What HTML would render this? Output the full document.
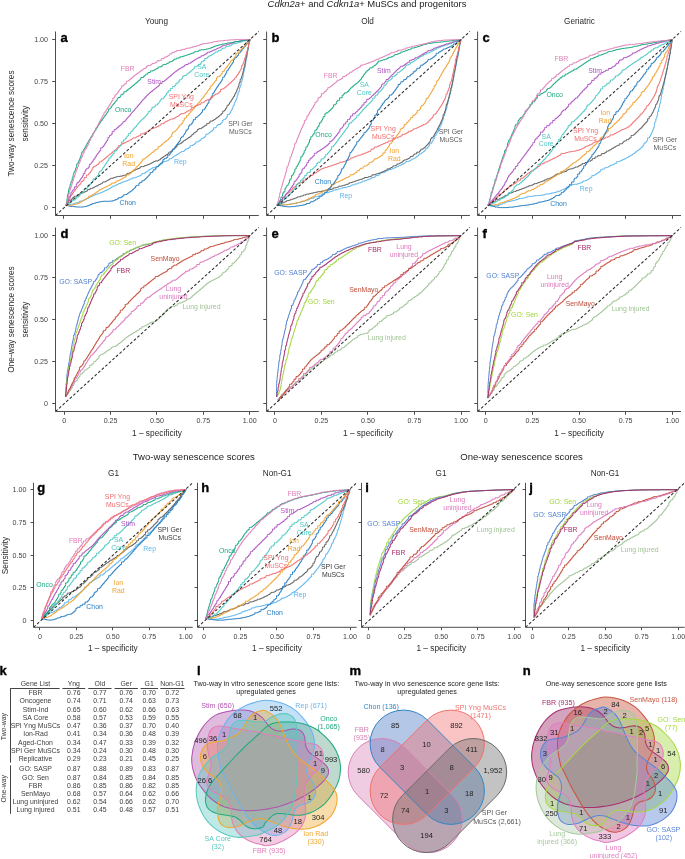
<!DOCTYPE html>
<html lang="en">
<head>
<meta charset="utf-8">
<title>Cdkn2a+ and Cdkn1a+ MuSCs and progenitors</title>
<style>
html,body{margin:0;padding:0;background:#fff;}
body{width:685px;height:859px;overflow:hidden;}
svg{display:block;font-family:"Liberation Sans",sans-serif;}
.tt{font-size:9.55px;fill:#222;}
.st{font-size:8.2px;fill:#2a2a2a;}
.tk{font-size:7.1px;fill:#444;}
.xl{font-size:8.3px;fill:#2a2a2a;}
.yl{font-size:8.3px;fill:#2a2a2a;}
.pl{font-size:13px;font-weight:bold;fill:#000;stroke:#000;stroke-width:0.35px;}
.cl{font-size:6.9px;}
.tb{font-size:6.9px;fill:#3c3c3c;}
.vt{font-size:7.2px;fill:#222;}
.vn{font-size:7.6px;fill:#222;}
.vl{font-size:7.1px;}
</style>
</head>
<body>
<svg width="685" height="859" viewBox="0 0 685 859" role="img" aria-label="ROC curves, AUC table and Venn diagrams of senescence gene lists">
<rect width="685" height="859" fill="#fff"/>
<text x="367" y="7.0" text-anchor="middle" class="tt" style="font-size:9.45px"><tspan font-style="italic">Cdkn2a</tspan>+ and <tspan font-style="italic">Cdkn1a</tspan>+ MuSCs and progenitors</text>
<text x="156.5" y="24.2" text-anchor="middle" class="st">Young</text>
<text x="367.5" y="24.2" text-anchor="middle" class="st">Old</text>
<text x="579.5" y="24.2" text-anchor="middle" class="st">Geriatric</text>
<text x="193.8" y="460" text-anchor="middle" class="tt">Two-way senescence scores</text>
<text x="521.6" y="460" text-anchor="middle" class="tt">One-way senescence scores</text>
<text x="113.5" y="475.6" text-anchor="middle" class="st">G1</text>
<text x="277.2" y="475.6" text-anchor="middle" class="st">Non-G1</text>
<text x="441" y="475.6" text-anchor="middle" class="st">G1</text>
<text x="605" y="475.6" text-anchor="middle" class="st">Non-G1</text>
<text transform="translate(14.2 123.5) rotate(-90)" text-anchor="middle" class="yl">Two-way senescence scores</text>
<text transform="translate(28.4 123.5) rotate(-90)" text-anchor="middle" class="yl">sensitivity</text>
<text transform="translate(14.2 319.5) rotate(-90)" text-anchor="middle" class="yl">One-way senescence scores</text>
<text transform="translate(28.4 319.5) rotate(-90)" text-anchor="middle" class="yl">sensitivity</text>
<text transform="translate(7.6 555.5) rotate(-90)" text-anchor="middle" class="yl">Sensitivity</text>
<g id="panel-a">
<path d="M66.2 205.1h1.6v-.2h1.9v-.4h1.7v-.3h1.4v-.3h1.3v-.3h1.2v-.4v-.4h1.4h1.6v-.6h1.2v-.4v-.7h1.7h1.7v-.7h1.4v-.7h1.1v-.5h1.5v-.7h1.4v-.8h1.6v-.8h1v-.5h1.5v-.7h1.2v-.5h1.4v-.6h1.3v-.4h1.1v-.4h1.6v-.6h1.2v-.4h1.3v-.5h1.3v-.7h1.1v-.5h1v-.5h1.6v-.8h1.5v-.8h1.6v-.8h1.3v-.7h1.3v-.6v-.7h1.3h1.5v-.8h1.5v-.7h1.3v-.7h1.2v-.5h1.7v-.8h1.4v-.5h1.3v-.5h1.6v-.5h1.6v-.6h1.6v-.6h1.6v-.6v-.5h1.5h1.2v-.5v-.5h1.6h1.1v-.5h1.4v-.5h1v-.5h1.3v-.5h1.6v-.8h1.2v-.6v-.9h1.6h1.5v-.9h1.3v-.9h1.1v-.8h1.2v-.9h1.1v-.7h1.2v-.6h1.5v-.6v-.5h1.7h1.4v-.4v-.4h1.1h1.4v-.6h.9v-.7v-.9h1h1.3v-1h1.5v-.9v-.6h1.3v-.8h1.6h1.2v-.6h1.7v-.9h1v-.6v-.7h1.1h1.4v-1h1.2v-.8h1v-.7h1.2v-.8h1.6v-.8h1.4v-.6v-.5h1v-.5h1.1v-.6h1.1v-.8h1.4h1.2v-.8h1.1v-.7v-.8h1h1.1v-.7h1.5v-1h1.5v-1v-1h1.4h1.5v-1h1.3v-.8h1.4v-.9v-1h1.5h1.3v-.9h1.1v-.7h1.5v-1v-.8h1.1h1.1v-.9h1.4v-1.2h1.1v-.9v-1.2h1.4h.9v-.7h1v-.9h.9v-.8h1.2v-.9h1.3v-1.1h1v-.9v-1.1h1.3h.9v-.7h.9v-.7v-.9h1.1v-1h1.2h1.5v-1.2h1v-.9h1.1v-1.1v-1h1v-.8h.8h.9v-1.1h1.1v-1.3h.9v-1.1v-1.5h1.1h1v-1.3h1v-1.5h.6v-1.1h.6v-1.2h.8v-1.5h.7v-1.5v-1h.5h.7v-1.5v-1.4h.6h.5v-1.3h.5v-1.2h.4v-1.1h.6v-1.5h.4v-1.3v-1.4h.5h.4v-1.3v-1.2h.4h.5v-1.7h.5v-1.4v-1.7h.4h.3v-1.1h.4v-1.3h.5v-1.8v-1.2h.3h.4v-1.7h.4v-1.4v-1.1h.3h.4v-1.7h.3v-1.5h.3v-1.5v-1.1h.3v-1.2h.2h.3v-1.5h.3v-1.2h.3v-1.5h.3v-1.6h.3v-1.7h.3v-1.8v-1.1h.2v-1.7h.3h.3v-1.8h.3v-1.7h.2v-1.5h.2v-1.2h.2v-1.3h.2v-1.3h.3v-1.3v-1.5h.2h.3v-1.2h.2v-1.2v-1.2h.2h.4v-1.8h.3v-1.6h.1v-.5" fill="none" stroke="#5db5ee" stroke-width="1.0" stroke-linejoin="round" stroke-linecap="round"/>
<path d="M66.2 205.1h.7v-1h.9v-1.2h1v-1.4v-1.3h1.2h1.4v-1.1h1.4v-1v-.8h1.3v-1h1.5h1.5v-.8v-.6h1h1.7v-.8v-.7h1.3v-.6h1.4h1.2v-.6h1v-.5h1.3v-.6h1.5v-.8v-.7h1.4h1.2v-.6v-.6h1.2h1.4v-.7h1.2v-.6h1.3v-.7h1.3v-.6h1.5v-.8h1.1v-.5h1.3v-.7h1.2v-.5h1v-.6v-.7h1.4h1.6v-.8h1v-.5h1v-.6h1.6v-.7h1v-.5v-.6h1.6h1.3v-.5h1.5v-.5h1.4v-.4h1.2v-.3h1.4v-.2h1.4v-.2h1.4v-.2h1.7v-.3v-.4h1.2h1.5v-.6h1.2v-.7v-.6h1.2h1.1v-.6h1.4v-.7h1.1v-.6h1.1v-.6h1v-.5h1.3v-.7h1.1v-.5h1.5v-.7h1.7v-.8h1.1v-.5v-.6h1.7h1.8v-.7h1.1v-.4h1.4v-.5h1.4v-.5h1.4v-.6h1.3v-.7h1.2v-.6h1v-.6h1.1v-.5h1.4v-.6h1.7v.1h1v-.6h1v-.7h1.5v-1.2h1.2v-.9h1.2v-.8h1v-.7h1.4v-.9h1.1v-.7h1.3v-.9h1v-.8v-.7h.9h1.1v-.8h1v-.9h1.1v-.9h1.1v-1h1v-.8h1v-.9h.9v-.8v-1h1.2v-.9h1.1h1v-.8h1.5v-1.2h1.5v-1.1h1v-.6h1.2v-.8h1v-.6h1.1v-.8h1v-.7h1.5v-1.1h1.3v-1.1h.9v-.9h1.3v-1.1h.8v-.7h1.2v-.8h1v-.8h1.1v-.8v-.9h1.4v-.7h1.2h1.5v-1h1.1v-.7h1.3v-.9h1.1v-.7h1.6v-1.1v-.7h1h1v-.6h1.2v-.8v-1h1.6h1.1v-.7h1.3v-.9h1.3v-.9h1.4v-1.1h1.3v-.9h1.3v-1.1h1v-.8h1.2v-1.2h1.2v-1.3v-1h.8h.9v-1.1h1.1v-1.5h.9v-1.2h.7v-.9v-1.2h.8h.8v-1.2h.8v-1.3h.7v-1h.9v-1.5h.8v-1.1h.9v-1.5h.8v-1.4h.9v-1.6h.6v-1.1h.8v-1.7h.7v-1.6h.6v-1.4h.7v-1.6h.5v-1.3h.6v-1.7v-1.1h.4h.4v-1.2h.4v-1.2v-1.5h.5h.4v-1.2h.4v-1.3h.4v-1.2h.3v-1.2h.4v-1.4h.5v-1.7h.3v-1.1v-1.5h.3h.4v-1.8h.3v-1.2h.4v-1.8h.3v-1.7h.3v-1.4h.3v-1.6h.3v-1.3h.3v-1.4h.4v-1.8h.3v-1.4v-1.4h.2h.3v-1.1h.3v-1.8h.4v-1.7h.3v-1.5v-1.2h.2v-1.7h.4h.4v-1.8h.3v-1.5" fill="none" stroke="#5e5e5e" stroke-width="1.0" stroke-linejoin="round" stroke-linecap="round"/>
<path d="M66.2 205.1h1.4v.4v.3h1.6v.4h1.7v.3h1.6h1.3v.2h1.6v.2h1.7v.1h1.6h1.6h1.2h1.7v-.2h1.4v-.2h1.2v-.3h1.4v-.5h1.7v-.7h1.6v-.6h1.6v-.6v-.3h1h1.3v-.5h1.4v-.5h1.8v-.4h1.4v-.3h1.5v-.3h1.3v-.2h1.7v-.2h1.4v.1h1.5h1.7h1.5v-.2h1.2h1.8v-.4h1.3v-.5h1.6v-.6h1.7v-.7h1.2v-.5v-.7h1.6h1v-.5h1.2v-.7h1v-.5v-.9h1.4v-.6h1h1.5v-1h1.2v-.8h1.4v-1h1v-.7h1.4v-1.1h1.2v-1h1v-.9h1.1v-.9v-1h1.2v-.7h.8h1.5v-1.2v-.9h1v-.9h1.1h.9v-.7v-.9h1h.9v-.7h1v-1h1.1v-1h1.2v-1.3h1v-1h1.1v-1.1h.9v-.9v-1.2h1.2h1.1v-1.1h.8v-.8v-.9h.8h1.3v-1.2h.9v-1v-1h1h1.2v-1.2h1.3v-1.3h1v-1h1.1v-1h1.1v-1.1v-1.3h1.3v-1.3h1.4h.9v-.9h1.2v-1.3v-1.1h1h1.1v-1.4h.9v-1.2h.7v-.9h1.1v-1.5v-.9h.6h.9v-1.2h.9v-1.3h1v-1.3h.7v-.9h1.1v-1.5h.8v-1h1v-1.3h1v-1.3v-1.4h1v-1.2h.8h1v-1.4h.6v-1h.9v-1.4h.7v-1h.6v-1v-1h.7h1v-1.4h.7v-1.1v-1.2h.8v-1.4h1.1h.8v-1.2h1.1v-1.5h.9v-1.2v-1.3h1.1h1.1v-1.3v-1h.8h1.1v-.9h.8v-.8h1v-.9h.9v-.8h.8v-.9h.9v-1.1h.8v-.9v-1.3h.9h1.1v-1.4h1v-1.6h.9v-1.4h.9v-1.4h.5v-.9h1v-1.6v-1h.6v-1h.5h.9v-1.6h.6v-1.2h.7v-1.4h.6v-1v-1h.5h.7v-1.2h.6v-1.1h.6v-1.1h.7v-1.2h.7v-1.1h.8v-1.2h1v-1.5h.7v-1h.9v-1.2h1v-1.5h.9v-1.5h.8v-1.2v-1.3h.8h.9v-1.4h.7v-1.3h.9v-1.6h.8v-1.2v-1h.5h.9v-1.4h.6v-1h1v-1.5h.6v-.9h.6v-1h.9v-1.3h.8v-1.2h.9v-1.4v-.9h.6v-1h.7v-1.4h1h.8v-1.1h.8v-1.1h1.1v-1.4v-1h.7h.8v-1h1v-1.4h1v-1.3h.8v-1h1.1v-1.4h1v-1.2h1.1v-1.4h1.1v-1.4v-1.4h1.1h.8v-1v-1h.8" fill="none" stroke="#257dc0" stroke-width="1.0" stroke-linejoin="round" stroke-linecap="round"/>
<path d="M66.2 205.1h1.6h1.7h1.5h1.5v-.1h1.6v-.3v-.4h1.3h1.2v-.5h1.2v-.5h1.6v-.8h1.5v-.9h1.4v-.8h1.1v-.6h1.3v-.8h1.3v-.8h1.6v-1h1v-.6v-.8h1.2h1v-.6h1.5v-1h1.5v-.9h1.6v-1h1.2v-.9h1.3v-.8h1.1v-.6v-.6h1h1v-.6h1v-.6h1.4v-.7h1.2v-.6h1.3v-.7h1.3v-.6h1.3v-.7h1.7v-.8h1.1v-.5v-.8h1.6h1.6v-.8h1.7v-.8v-.7h1.4h1.2v-.7h1v-.5h1.6v-.9h1.1v-.7h1.5v-.9h1.5v-1h1.2v-.8v-.6h1h1.4v-1h1.5v-1.1h1.2v-1h1.2v-1.1v-.7h.9h1.1v-1.2h1v-1v-.9h.8h.8v-1h.9v-1.1h1.1v-1.4h1.1v-1.2h.8v-1h1.2v-1.1v-1h1.2h1.2v-1h1v-.8h1.2v-1h1.2v-.9h1.3v-1.1h1.1v-1h1.1v-.9h1.4v-1.1h1.3v-1.1h1v-.7h1.4v-.6h1.1v-1v-1.2h1.1h.9v-.9h1.3v-1.3h1.4v-1.2h.9v-.7h1v-.8h1.3v-1h1v-.8h1.4v-1.3h1.1v-1.2h.9v-1h1.2v-1.4v-.9h.7v-1.4h1.1v-.9h.8h.8v-1h1v-1.1h1.1v-1.3h1v-1.2h1.1v-1.1v-1h.8h1v-1.2h1.1v-1.4h.9v-1.2v-1.1h.8h.7v-.9v-1.3h1h.9v-1.3v-1h.8h1.1v-1.5h1v-1.2h.9v-1.1h.8v-.9h1.2v-1.4h.9v-1.1h1.2v-1.3v-1.2h1h1v-1.1h1.2v-1.4h.8v-.9h1v-1.1h1v-1.2h.9v-1.2h.9v-1h1v-1.3h1.1v-1.4h.7v-1.1h.7v-.9h1.1v-1.4h.7v-1h.8v-1.1h1v-1.3h1v-1.4v-1.1h.9h.7v-1.1h1v-1.3h.8v-1h.8v-1.1h.9v-1.1h1.1v-1.4v-1.3h1.1v-1.4h1.2h1.2v-1.2h1.1v-1.4h1.1v-1.3v-1.1h.9h1.1v-1.5h.9v-1.3h.8v-1.1h1.1v-1.4h1v-1.3h1v-1.3h.9v-1.1h.9v-1.1v-.9h.8h1.2v-1.4h1.1v-1.3h1v-1.1h.8v-.9v-1.2h1v-1.4h1.2h1.1v-1.3v-1.3h1.1h.8v-1h1v-1h1.2v-1.4h1v-1.2h.9v-.9h.8v-.9h1.1v-1.3h1v-1.1v-1.2h1.1h.8v-.9" fill="none" stroke="#f0a230" stroke-width="1.0" stroke-linejoin="round" stroke-linecap="round"/>
<path d="M66.2 205.1h.5v-1.2v-1.4h.6h.8v-1.7h.5v-1h.8v-1.5h.9v-1.6v-1.1h.7h.6v-1.1h1v-1.6h.9v-1.3h.9v-1.3h1.1v-1.4h.9v-1.1h1.1v-1.3h.8v-1h.9v-.9h1.1v-1.2h.8v-1v-.9h.8h.9v-1h1.2v-1.4v-1.4h1.2h1.2v-1.4v-1.3h1.1h.9v-1.1h.8v-1h1.2v-1.4h.7v-.9h.9v-1v-.9h.7v-1.2h1.1v-1.3h1.3h.9v-.8h1v-.9h1.4v-1.1h.9v-.7v-.9h1.1h1.1v-.9h1.3v-1.1h1.3v-1h1.3v-1.1h1.1v-.9h1.2v-1h.9v-.8h1.1v-.9h1.3v-1.1h1.4v-1.1h.9v-.8h1.3v-1.1h1.4v-1.2h1v-.9h1.4v-1.2v-1.1h1.2h1v-.7h1v-.7h1v-.7h1.5v-.7h1.6v-.8h1.3v-.5h1.1v-.6h1.3v-.6h1.1v-.6h1.4v-.6v-.5h1v-.7h1.4h1.5v-.8h1.3v-.7h1.7v-.8h1.7v-.8v-.9h1.6h1.5v-.7h1.4v-.7h1.5v-.8h1.1v-.5h1.3v-.7h1.1v-.5v-.7h1.3v-.7h1.5v-.6h1.2h1.2v-.6h1.5v-.8h1.7v-.8h1.3v-.7h1.3v-.7v-.7h1.4h1.7v-.8v-.6h1.2v-.7h1.4v-.7h1.4v-.5h1.1v-.6h1.1v-.6h1.2h1v-.5h1.5v-.7h1.7v-.9h1.2v-.6h1.2v-.6h1.3v-.6v-.9h1.7v-.8h1.6h1.4v-.6h1.5v-.8h1.1v-.5v-.7h1.2h1.2v-.7h1.3v-.8h1v-.7v-1.1h1.6h1v-.7h1.5v-.9h1.1v-.6h1.4v-.8h1.3v-.5h1.7v-.8v-.7h1.3h1.3v-.6h1v-.5v-.5h1.1v-.5h1v-.8h1.4h1v-.6h1.3v-.7v-.8h1.2h1.1v-.7v-1h1.4v-1.1h1.5v-.9h1.1h1.2v-1h1.4v-1.2h1.2v-1v-1.2h1.4v-.7h.9h1v-.8h1v-.9h1.4v-1.1h1v-.8h1.1v-1h1v-.9h1v-.9h1.2v-1.2h1v-.9h1v-1h1.1v-1.2h.7v-.9h1.1v-1.4h1v-1.4h1v-1.6h1v-1.6h.8v-1.5h.7v-1.3h.7v-1.4v-1.4h.6h.4v-1.1h.4v-1.2h.6v-1.7h.5v-1.5h.5v-1.5h.4v-1.4h.6v-1.6h.3v-1.2h.4v-1.3h.4v-1.5h.5v-1.7h.4v-1.7h.3v-1.2h.5v-1.7h.2v-1.1v-1.1h.3h.4v-1.5h.3v-1.2h.2v-.9" fill="none" stroke="#f26f72" stroke-width="1.0" stroke-linejoin="round" stroke-linecap="round"/>
<path d="M66.2 205.1h1.1v-.6h1.1v-.7v-.6h1h1.1v-.7h1.1v-.7v-.9h1.2v-.8h1h1.4v-1.1h1.1v-1v-1.1h1.4h1.2v-1.1h1v-.9v-1.2h1.2h1.1v-1h.8v-.9h1.2v-1.3v-1.3h1.3h1v-1h.9v-1.1h.8v-1h1.2v-1.4h1.2v-1.4h.8v-.9h1.1v-1.3h.7v-.9v-1.4h1.3h1v-1.1h1.1v-1.3h1.1v-1.2h1v-1.3v-1.2h.9v-1.6h1.1h.7v-1h.9v-1.4h.7v-1.2h.9v-1.3h1v-1.6h.7v-1h.9v-1.2h.8v-1.2h.8v-1.1h.8v-1v-1h.7h1.1v-1.4h.7v-1h.7v-.8h.9v-1.1h1.2v-1.4v-1.4h1.2h1.1v-1.2h1.1v-1.3v-1.2h1h1.1v-1.3h1.1v-1.5h.7v-1v-1.4h1.1h.8v-1.1v-1.1h.8h.9v-1.2h1.1v-1.5h1v-1.2h1.2v-1.4v-1.1h1h1.2v-1.4h.8v-1h1.2v-1.3h1.1v-1.3h.7v-.9h.9v-1h1.2v-1.4h.8v-.9h.8v-.9h.9v-1.1h.8v-.9h1.1v-1.1h1v-.9h1.1v-1.1h1.1v-1.1h1.2v-1.2h1.1v-1.1h1v-1.2h.9v-1v-1.2h1h.8v-1h1v-1.2h.9v-1.1v-1h1h1.5v-.6h.9v-.7v-.9h1h1v-1.1h.9v-.9h.9v-.9h.9v-.8v-1.4h1.3v-1.3h1.1h1.2v-1.3h.8v-1h.9v-1.1h1v-1.2v-1h.8h.9v-.9v-1.3h1.2h1.1v-1.1v-1.2h1.2h.9v-.9v-1.1h1.1h1v-1h1.3v-1.3v-1h1h1.2v-1.2h1.1v-1.1v-1.1h1h1v-1h1.2v-1v-1.2h1.4v-1.1h1.3h1.3v-1h.9v-.8h.8v-.7h1.4v-1.1h1.2v-1h1.1v-.9h.9v-.8h.9v-.8h.9v-.7v-1h1.2h1v-.7h1.1v-.8h1.3v-.9h1.3v-1.1h1.2v-1.1v-.7h.9h1.1v-.9h1.3v-1.1v-1h1.2h1v-.7h1v-.7v-.8h1.1h.9v-.7h1.6v-1h1.4v-.8h1.2v-.7h1v-.5v-.5h1h1.7v-.8v-.6h1.4h1.2v-.6h1.2v-.6v-.8h1.4v-.6h1.2h1.4v-.7v-.8h1.7h1.3v-.6h1.5v-.6h1.6v-.7v-.6h1.7v-.4h1.2h1.1v-.4h1.7v-.5h1.6v-.5h1.6v-.4h1.7v-.5v-.4h1.7h1.6v-.4h1.7v-.4h1.6v-.3v-.2h.7" fill="none" stroke="#4cc8c4" stroke-width="1.0" stroke-linejoin="round" stroke-linecap="round"/>
<path d="M66.2 205.1v-1.5h.6v-1.6h.6h.4v-1h.4v-1.2h.6v-1.4v-1.5h.7h.6v-1.3h.8v-1.4v-1.5h.9v-1.3h.7v-.9h.6v-1.1h.6h.7v-1.1v-1.4h.9h1v-1.6v-1.2h.8v-1.4h.9h.7v-1.1h1v-1.6h.9v-1.3h1v-1.4h.9v-1.4h.8v-1.1v-1.1h.7h.9v-1.3v-1.3h.8v-1.5h1v-1.2h.8h.9v-1.3h1v-1.5v-1.2h.8h.6v-1h.7v-.9h.7v-1.2h1v-1.5h1v-1.4h1v-1.5h1v-1.6h.8v-1.1h.9v-1.2h.9v-1.3h1v-1.2h.9v-1.2v-1.5h1.1h.8v-1.1h1.1v-1.5h1.1v-1.6h.9v-1.4h.8v-1.2h.9v-1.3h.6v-1v-1.4h.9h.6v-.9v-1h.8h.9v-1.2h1v-1.3v-1.4h1.2h.7v-.9v-1h.9h.9v-.9h1.2v-1.3h1.4v-1.2h1.3v-1h1.4v-1.1h1v-.9h.9v-.7v-.9h.9h.9v-.9h1v-1.2h.8v-.9h.7v-.9h.8v-1h.8v-.9h1.2v-1.4h.8v-1h.8v-.9h.8v-1h.9v-1h1v-1.2h.9v-1h.9v-1.1h1.2v-1.4h1v-1.1h1.2v-1.4h.9v-1.1h1v-1.2h.8v-1h.9v-.9h1v-1.1h1.1v-1.2h1.2v-1.3h1v-.9h1.1v-1.1h1v-1h1.2v-1h1.4v-1.2h1.4v-.9h1.2v-1h1.2v-.9h.9v-.8h1.2v-1h1.3v-1.1v-1h1.2h1.3v-1.1v-.9h1.1h1.1v-.9h1.1v-.9h1.3v-1.1h1.3v-1.1h.9v-.8h1.4v-1.1h1.4v-1.2h.9v-.8h1.1v-.9h1v-.8h1v-.8h1.3v-.9h1.2v-.9h1.1v-.7h1.4v-.8h1.1v-.7h1.6v-.9h1.3v-.6v-.6h1.3v-.6h1.2h1.1v-.6v-.7h1.3h1.3v-.9h1.3v-.9h1.3v-.9h1.2v-.8h1.1v-.7h1.2v-.6h1.1v-.6h1.5v-.7h1.6v-.7v-.6h1h1.4v-.8h1.3v-.7h1v-.6h1.3v-.7v-.7h1.2h1.7v-.8h1.4v-.6h1.6v-.7h1.6v-.6h1.6v-.7h1.1v-.5h1v-.5h1.6v-.7h1v-.4h1.2v-.5v-.5h1.2v-.4h1.1h1v-.3h1.2v-.5h1.3v-.4h1.6v-.5h1.2v-.4h1.1v-.3h1.4v-.4h1.3v-.4v-.3h1.1v-.4h1.6h1.8v-.3h1.7v-.4v-.2h1.5h1.2v-.2h1.6v-.2h1.7v-.2h1.8v-.2h1.3v-.2" fill="none" stroke="#ad52c2" stroke-width="1.0" stroke-linejoin="round" stroke-linecap="round"/>
<path d="M66.2 205.1h.1v-1.1h.2v-1.7h.3v-1.9h.1v-1.1h.3v-1.9h.2v-1.3h.3v-1.7h.4v-1.7h.4v-1.7h.3v-1.1v-1.3h.4h.5v-1.6h.4v-1.3v-1.4h.5h.3v-1.1v-1.3h.4h.5v-1.6h.5v-1.7v-1.4h.4h.5v-1.7v-1.1h.3h.3v-1.1v-1.3h.5h.6v-1.7h.6v-1.8h.6v-1.6h.6v-1.4v-1.5h.6h.7v-1.7h.7v-1.5h.7v-1.7h.7v-1.7h.6v-1.5h.6v-1.3v-1.1h.5v-1.7h.8h.5v-1.2h.8v-1.6h.6v-1h.8v-1.6h.9v-1.5h.7v-1.3h.9v-1.7h.9v-1.5h.8v-1.3h.9v-1.5h.8v-1.3h.9v-1.3h.6v-1h.7v-1.2h.9v-1.4h.6v-1h1v-1.6h.8v-1.3h.8v-1.3h.7v-1h.7v-1.1h.9v-1.5h.7v-1.1h.7v-1h1v-1.4h.9v-1.3h.7v-.9h1.1v-1.5h1.1v-1.5h.7v-1.1h1.1v-1.5h.7v-.9v-1.3h.8h.8v-1h1.1v-1.5h.7v-1h.8v-1h.9v-1.1h1.1v-1.3h.7v-.8h.8v-1h1v-1v-1.1h1v-.8h.8h1.1v-1.1h.8v-.8v-.9h.9h.9v-.9h1.1v-1v-1h1.1h1.3v-1.1h1.2v-1h1.4v-1.1h1.4v-1.1h1.4v-1.2h1.1v-.9h1.4v-1.2h1.2v-1h1.3v-1h1.3v-1.2h.9v-.7h1.1v-1h.9v-.8v-1.1h1.4h1.5v-1.2h1v-.8h1v-.7v-.6h.9h1.4v-.9v-.7h1.1h1.2v-.7v-.8h1.3h1.4v-.7h1.3v-.6h1.4v-.7h1.1v-.5h1.3v-.7v-.8h1.6h1v-.5h1.4v-.7v-.6h1.2v-.7h1.5h1v-.5h1.2v-.7h1.4v-.6h1.3v-.7v-.5h1h1.7v-.9h1.4v-.7v-.7h1.5h1.1v-.5v-.5h1.4h1.1v-.5h1.3v-.5v-.5h1.4h1.6v-.6h1.1v-.3h1.2v-.4h1.2v-.4h1.4v-.5h1.7v-.6h1.3v-.5h1.1v-.4h1.8v-.7v-.3h1.1v-.4h1.2h1.5v-.5h1.2v-.4v-.5h1.8v-.4h1.7h1.7v-.3h1.3v-.3h1.3v-.2h1.6v-.4h1.2v-.4h1.7v-.7h1.7v-.7h1.6v-.7h1.7v-.5h1.6v-.4h1.6v-.4h1.4v-.2h1.1v-.3v-.2h1.1h1.1v-.2h1.1v-.3h1.7v-.3v-.3h1.7h1.4v-.3h1.6v-.3h1.5v-.3h1.5v-.3h1.1v-.2h1.5v-.2h1.6v-.3h1.6v-.2h1.7v-.3h1.4v-.2h1.6v-.2h1.3v-.1v-.3h1.6h1.3v-.1h.4v-.1" fill="none" stroke="#18a981" stroke-width="1.0" stroke-linejoin="round" stroke-linecap="round"/>
<path d="M66.2 205.1h.4v-1.6h.3v-1.3v-1.4h.3h.3v-1.4h.4v-1.5h.3v-1.2h.3v-1.4h.3v-1.1h.4v-1.6h.4v-1.4v-1.1h.3h.5v-1.5h.3v-1.2h.6v-1.7h.5v-1.6h.4v-1.3h.5v-1.8h.4v-1.1h.5v-1.5h.4v-1.2h.4v-1.2h.3v-1.1h.5v-1.5h.4v-1.2h.6v-1.7h.6v-1.7h.7v-1.7h.6v-1.7h.4v-1.1h.5v-1.2h.7v-1.7h.7v-1.7h.6v-1.5h.6v-1.3h.9v-1.7h.5v-1.2v-1.3h.7h.6v-1.2v-1.6h.8h.6v-1.2h.7v-1.3h.7v-1.4h.7v-1.4h.8v-1.6h.7v-1.4v-1.4h.7h.8v-1.6v-1.1h.6h.7v-1.4h.8v-1.7v-1.2h.6h.5v-1h.7v-1.4h.8v-1.6v-1.2h.6h.7v-1.4h.8v-1.6h.8v-1.6h.6v-1h.7v-1.5h.8v-1.4h.8v-1.3h.7v-1.4h.6v-1h.6v-1h.9v-1.5v-1.1h.7h.9v-1.5h.8v-1.3h.9v-1.4h.6v-1h.9v-1.4h.9v-1.4h.8v-1.3h.7v-1.3h.6v-.9h.9v-1.5v-1.1h.7h.8v-1.2h.7v-1v-1.2h.8h1v-1.4h.9v-1.1h1v-1.4h.6v-.9h.8v-1h.8v-1h.8v-.9v-1.2h1.1h1.1v-1.2h1.2v-1.1h1.3v-1.3v-.9h1h.8v-.7h1.1v-1h1.3v-1.1h1.4v-1.2h1.1v-.9h1.2v-1h1v-.7h1.1v-.9h.9v-.7h1.6v-1.1h1.5v-1.1h1.3v-.9h1.2v-.8h1v-.6h1.4v-.9h1.2v-.6v-.9h1.4v-.8h1.6h1.2v-.7h1.3v-.6v-.6h1.3h1.3v-.7h1.5v-.7h1v-.5v-.8h1.7h1.4v-.7h1.3v-.7v-.8h1.4h1.3v-.8v-.6h1h.9v-.5h1.5v-.9h1v-.6h1v-.6v-.8h1.2h1.1v-.7v-.7h1.3h1.5v-.8h1.7v-.6v-.4h1.3h1.5v-.3h1.8v-.4h1.5v-.4v-.2h1.1h1.8v-.5v-.2h1.2v-.4h1.6h1.5v-.4h1.7v-.4h1.4v-.4v-.4h1.5h1.6v-.5h1.4v-.5h1.3v-.4h1.4v-.5h1v-.4h1.8v-.4v-.3h1.8h1.6v-.2h1.6v-.3h1.5v-.3h1.4v-.3h1.8v-.5h1.4v-.3h1.2v-.2h1.7v-.3h1.9v-.2h1.5v-.1h1.3v-.1h1.2v-.1h1.2v-.2h1.4v-.1h1.1v-.1h1.8v-.2h1.5v-.2h1.7v-.1h1.5h1.8v-.1h1.3v-.1h1.8h1.6h1.9h1.2h1.7h1.5h1.3h1.2h1.6" fill="none" stroke="#df7fba" stroke-width="1.0" stroke-linejoin="round" stroke-linecap="round"/>
<line x1="55.5" y1="215.5" x2="258.8" y2="31.5" stroke="#2a2a2a" stroke-width="1.05" stroke-dasharray="2.8 2"/>
<path d="M55.5 31.5 V215.5 H258.8" fill="none" stroke="#4d4d4d" stroke-width="1"/>
<line x1="63.5" y1="215.5" x2="63.5" y2="218.8" stroke="#4d4d4d" stroke-width="1"/>
<line x1="52.2" y1="207.5" x2="55.5" y2="207.5" stroke="#4d4d4d" stroke-width="1"/>
<text x="48" y="209.9" text-anchor="end" class="tk">0</text>
<line x1="110.5" y1="215.5" x2="110.5" y2="218.8" stroke="#4d4d4d" stroke-width="1"/>
<line x1="52.2" y1="165.5" x2="55.5" y2="165.5" stroke="#4d4d4d" stroke-width="1"/>
<text x="48" y="167.95" text-anchor="end" class="tk">0.25</text>
<line x1="156.5" y1="215.5" x2="156.5" y2="218.8" stroke="#4d4d4d" stroke-width="1"/>
<line x1="52.2" y1="123.5" x2="55.5" y2="123.5" stroke="#4d4d4d" stroke-width="1"/>
<text x="48" y="126" text-anchor="end" class="tk">0.50</text>
<line x1="203.5" y1="215.5" x2="203.5" y2="218.8" stroke="#4d4d4d" stroke-width="1"/>
<line x1="52.2" y1="81.5" x2="55.5" y2="81.5" stroke="#4d4d4d" stroke-width="1"/>
<text x="48" y="84.05" text-anchor="end" class="tk">0.75</text>
<line x1="249.5" y1="215.5" x2="249.5" y2="218.8" stroke="#4d4d4d" stroke-width="1"/>
<line x1="52.2" y1="39.5" x2="55.5" y2="39.5" stroke="#4d4d4d" stroke-width="1"/>
<text x="48" y="42.1" text-anchor="end" class="tk">1.00</text>
<text x="60.5" y="42.1" class="pl">a</text>
<text x="127.7" y="71.1" text-anchor="middle" class="cl" fill="#df7fba">FBR</text>
<text x="154.2" y="84.1" text-anchor="middle" class="cl" fill="#ad52c2">Stim</text>
<text x="123.2" y="112.2" text-anchor="middle" class="cl" fill="#18a981">Onco</text>
<text x="201.8" y="68.6" text-anchor="middle" class="cl" fill="#4cc8c4">SA</text>
<text x="201.8" y="76.5" text-anchor="middle" class="cl" fill="#4cc8c4">Core</text>
<text x="181.3" y="99.1" text-anchor="middle" class="cl" fill="#f26f72">SPI Yng</text>
<text x="181.3" y="107" text-anchor="middle" class="cl" fill="#f26f72">MuSCs</text>
<text x="128.7" y="158.2" text-anchor="middle" class="cl" fill="#f0a230">Ion</text>
<text x="128.7" y="166.1" text-anchor="middle" class="cl" fill="#f0a230">Rad</text>
<text x="240.4" y="125.7" text-anchor="middle" class="cl" fill="#5e5e5e">SPI Ger</text>
<text x="240.4" y="133.6" text-anchor="middle" class="cl" fill="#5e5e5e">MuSCs</text>
<text x="180.3" y="164.2" text-anchor="middle" class="cl" fill="#5db5ee">Rep</text>
<text x="127.7" y="204.8" text-anchor="middle" class="cl" fill="#257dc0">Chon</text>
</g>
<g id="panel-b">
<path d="M277.2 205.1h1.2h1.9v-.1h1.3h1.8v-.1v-.1h1.6v-.1h1.2v-.1h1.7h1.3v-.2v-.3h1.4h1.6v-.2v-.4h1.7h1.4v-.3h1.6v-.3v-.4h1.5h1.2v-.3h1.7v-.5h1.5v-.4h1.5v-.4h1.4v-.5h1.3v-.4h1.6v-.5h1.1v-.4v-.5h1.5v-.3h1h1.7v-.7v-.5h1.4v-.5h1.3h1.8v-.7h1v-.4h1.1v-.4h1.2v-.4v-.6h1.4v-.6h1.7v-.7h1.7h1.3v-.4h1.3v-.5h1.3v-.4h1.4v-.5h1.5v-.5v-.4h1.3h1.4v-.4h1.6v-.5h1.2v-.3h1.7v-.4v-.3h1.1h1.3v-.3v-.3h1.1h1.1v-.2h1.3v-.4h1.8v-.5h1.8v-.5h1.1v-.3v-.4h1.2v-.5h1.4h1.4v-.4v-.5h1.3h1.7v-.6v-.4h1.1h1.4v-.6h1.5v-.5v-.6h1.5h1.2v-.5h1.2v-.5h1.1v-.4h1.5v-.6h1.3v-.5h1.7v-.7v-.5h1.2h1.7v-.7h1.1v-.5v-.7h1.4h1.3v-.6h1.2v-.6v-.7h1.2v-.5h1.1v-.6h1.1h1.2v-.5h1.2v-.6v-.6h1.3h1.6v-.6v-.8h1.8h1.3v-.5h1.6v-.7h1.7v-.7h1.5v-.6h1.2v-.5h1.2v-.6h1v-.4h1.2v-.6h1.3v-.7h1.7v-.8h1v-.5h1.1v-.6v-.8h1.6h1.4v-.6h1.8v-.9h1.1v-.6h1.1v-.6h1v-.6h1.6v-.9h1.3v-.9h1.2v-.9h1.1v-.8v-.9h1.3h1.2v-.9h.9v-.7h1.2v-.9h1.3v-1.1h.8v-.9v-.9h.9h1.1v-1.2h.7v-.9h.9v-1.2v-1.4h1.1h.9v-1.3h.9v-1.4h1v-1.4v-1.2h.7h.9v-1.4v-1.5h.8h.6v-1.1v-1.3h.7h.8v-1.5h.8v-1.5v-1.6h.8h.6v-1.3v-1.2h.5h.5v-1.3h.7v-1.6h.5v-1.4v-1.1h.4h.5v-1.8h.5v-1.3v-1.3h.4h.4v-1.1h.3v-1.2h.5v-1.6h.5v-1.5h.3v-1.2h.5v-1.6h.5v-1.7h.3v-1.1h.3v-1.2h.3v-1.2v-1.4h.4h.4v-1.7v-1.3h.4h.4v-1.8h.4v-1.5v-1.3h.3h.4v-1.5h.3v-1.5h.4v-1.7v-1.5h.3h.4v-1.7h.2v-1.2v-1.6h.3h.4v-1.6h.3v-1.5h.3v-1.6h.3v-1.7h.4v-1.6v-1.4h.2h.3v-1.3h.3v-1.7h.3v-1.5h.3v-1.3h.2v-1.1h.2v-1.2h.4v-1.7h.3v-1.8v-1.1h.3h.3v-1.8h.3v-1.5h.3v-1.1h.2v-1.2h.3v-1.4h.2v-1.1h.3v-1.6h.2v-1.5h.3v-1.5h.3v-1.6h.2v-1.4h.2v-1.3h.3v-1.8v-1.5h.3h.2v-1.1" fill="none" stroke="#5db5ee" stroke-width="1.0" stroke-linejoin="round" stroke-linecap="round"/>
<path d="M277.2 205.1v-.4h1h1.3v-.6h1.3v-.6h1.4v-.7h1.5v-.6h1.6v-.6h1.3v-.5v-.5h1.2h1.1v-.4h1.4v-.5h1.4v-.5h1.6v-.5h1.7v-.6h1.5v-.5h1.1v-.4v-.4h1.2h1.7v-.5v-.3h1.1h1.7v-.6v-.4h1.2h1.6v-.5v-.3h1.2h1.5v-.4h1.1v-.3h1.1v-.3h1.9v-.4h1.6v-.3h1.2v-.3h1.9v-.3v-.2h1.2h1.7v-.3h1.5v-.3v-.2h1.8h1.7v-.3v-.4h1.8v-.4h1.5h1.2v-.3h1.4v-.5h1.8v-.6v-.5h1.4h1.6v-.5h1.1v-.4h1.6v-.4v-.5h1.6h1.8v-.5h1.1v-.3h1.8v-.6h1.3v-.4h1.8v-.7h1.3v-.5v-.5h1.2h1.3v-.5h1.2v-.4h1.5v-.6h1.3v-.4h1.1v-.4h1.6v-.5h1.3v-.4h1.6v-.5h1.4v-.5h1.3v-.4v-.5h1.6h1.8v-.5h1.5v-.5h1.5v-.5h1.4v-.5v-.7h1.6h1.3v-.5h1.1v-.4h1.6v-.5h1.7v-.6h1.2v-.5h1.7v-.6h1.1v-.5h1.4v-.6h1.4v-.7h1.1v-.5v-.6h1.2h1v-.6h1.4v-.7h1v-.5h1v-.5v-.6h1.3h1.2v-.6h1.3v-.7v-.6h1.2h1.3v-.7h1v-.5h1.6v-.9h1.1v-.7v-.6h1.1v-.7h1.3h1.1v-.6h1.3v-.7h1.4v-.7h1.2v-.6v-.9h1.6h1.1v-.7v-.6h1v-1.1h1.5h1.1v-.8v-1h1.4h1.4v-1.2h1.3v-.9v-.9h1.1h1.3v-1h1.2v-1h1.2v-1.1h.9v-.9h1.1v-1.3h1.2v-1.4h1v-1.3h.7v-1v-1.3h.9v-1.2h.8h.8v-1.2h.9v-1.6h.7v-1.1h.8v-1.4h.7v-1.1h.8v-1.6h.6v-1.1h.7v-1.4h.6v-1.1h.5v-1.1h.7v-1.3h.6v-1.5h.7v-1.5h.7v-1.7h.6v-1.4h.5v-1.4v-1.5h.5h.5v-1.5h.5v-1.5h.4v-1.1h.5v-1.8h.5v-1.7v-1.5h.4v-1.6h.5h.4v-1.5h.4v-1.4h.4v-1.6h.4v-1.4h.3v-1.3h.5v-1.8h.4v-1.4h.5v-1.8v-1.3h.3h.3v-1.4v-1.3h.4h.4v-1.8h.3v-1.4h.3v-1.2h.3v-1.7h.3v-1.8h.3v-1.5h.4v-1.8h.3v-1.7v-1.6h.3h.2v-1.3h.2v-1.1h.3v-1.4h.3v-1.8h.3v-1.9h.3v-1.5h.3v-1.6h.4v-1.7h.2v-1.3v-1.5h.3v-1.5h.4h.3v-1.7h.3v-1.7v-1.3h.3h.4v-1.8h.3v-1.6v-1.3h.3h.3v-1.7v-1.9h.4h.3v-1.4h.4v-1.7h.2v-1" fill="none" stroke="#5e5e5e" stroke-width="1.0" stroke-linejoin="round" stroke-linecap="round"/>
<path d="M277.2 205.1h1.9h1.2v-.1h1.4h1.1v-.1h1.2v-.1h1.3h1.6v-.1h1.2v-.2v-.2h1.4h1.7v-.2v-.3h1.4h1.7v-.3v-.3h1.1h1.1v-.2h1.9v-.5h1.2v-.3h1.1v-.4h1.4v-.5v-.3h1.1h1.7v-.7h1.8v-.8h1.6v-.7v-.7h1.5h1.2v-.6h1.2v-.6h1v-.5h1.2v-.6h1.1v-.6v-.6h1.3v-.5h1h1v-.5h1.2v-.6h1.3v-.6h1.3v-.7v-.8h1.6h1.4v-.7v-.6h.9h1.6v-1h1.5v-1h1.1v-.8v-1h1.5v-.7h1v-.8h1.2v-1h1.5v-1h1.4h1.1v-.7h1.1v-.6h1.4v-.8h1.7v-.8h1.6v-.8h1.3v-.6h1.2v-.6h1.5v-.7h1.3v-.7h1.1v-.5v-.8h1.5h.9v-.5h1.4v-.9h1.2v-.8h1.4v-1v-.7h1.1h1.3v-.9v-.7h1.1v-1h1.4h1.5v-.9v-.8h1.1v-.7h1h1.3v-.8h1.2v-.8h1.2v-.9v-.9h1.4h1.1v-.7h1.2v-.9h1v-.6v-.6h.9v-.9h1.3h1.4v-.9h1v-.6h1.4v-1h1.5v-1h1.5v-1.1v-1.1h1.1h1.1v-1.5v-1.3h.8h.7v-1h.6v-1h.6v-1h.9v-1.2h.8v-1.1v-1.1h.8h.7v-1h1v-1.3h.9v-1.2v-1.2h1h1.1v-1.5h.7v-.9h.8v-1.1h1v-1.4h1v-1.3h1v-1.3h.7v-1v-1h.8v-1.2h.9h1.1v-1.3h1.1v-1.3v-1.1h.9h1.1v-1.3h.8v-.9h1.1v-1.2h1v-1.1h1v-1h.8v-.9v-.8h.9h1.1v-1.1v-1.2h1.3h.9v-1h1.1v-1.2h1v-1.1v-1.3h1.2h.9v-1.1h1.2v-1.4v-1.1h.9v-1.3h1h.9v-1.3h.8v-1.1h.9v-1.4h.6v-.9h.6v-1v-1.6h1h1v-1.4h.9v-1.5h.6v-1h.7v-1h.8v-1.4h.8v-1.3h.7v-1.2h.7v-1.2h.8v-1.3v-1.4h.8h.6v-1h.5v-1h.6v-1v-1.6h.8h.6v-1.1h.6v-1h.8v-1.6h.6v-1.2h.6v-.9h.7v-1.4h.8v-1.4h.6v-1.1h.8v-1.3h.7v-1.1h.8v-1.3h.8v-1.2h.8v-1.4h.7v-1.2h.9v-1.5h.7v-1.2h.6v-1.2h.6v-1.2v-1.6h.8h.6v-1.2h.6v-1.4h.6v-1.1h.8v-1.7h.8v-1.6h.8v-1.3h.8v-1.3h.7v-1.3h.7v-1.1h.9v-1.4h.6v-1v-1.4h.9h.9v-1.6h.2v-.2" fill="none" stroke="#f0a230" stroke-width="1.0" stroke-linejoin="round" stroke-linecap="round"/>
<path d="M277.2 205.1h.7v-.9v-1.3h.9h1v-1.3h1v-1.1h.8v-.9h.9v-1v-1.1h1.1h1v-1h1v-.9v-1.3h1.3v-1.3h1.3h1v-1h.8v-.8v-1.1h1h1v-1h.8v-.9v-.9h1.1h.9v-.8h1.1v-.8v-.9h1.3v-.9h1.3v-1h1.6h1.2v-.7h1.5v-1v-1h1.4h1.3v-.8v-.7h1h1.1v-.7v-.7h1h1.3v-.9v-1h1.6h1.3v-.9h1v-.7v-.8h1.2h1.2v-.8h1v-.7h1.2v-.9h1.2v-.8h1.2v-.7h1.3v-.6h1.3v-.5h1.6v-.5h1.8v-.5h1.3v-.4h1.1v-.4h1.6v-.5h1.8v-.6h1.5v-.5h1.7v-.6h1.3v-.4h1.4v-.5h1.2v-.4v-.5h1.6h1.7v-.6h1.8v-.5h1.7v-.6h1.7v-.6h1.4v-.7h1v-.5v-.8h1.4h1.4v-.7h1.2v-.6h1.1v-.4h1.6v-.5h1.1v-.4h1.3v-.4h1.7v-.6h1.6v-.6h1.5v-.5h1.3v-.5h1.1v-.5h1.3v-.5h1v-.4h1.7v-.8v-1.3h1.2h1.3v-.9h1.1v-.6v-.7h1.5h1.2v-.6h1.4v-.7h1.4v-.6h1.1v-.5h1.2v-.5h1.1v-.5h1.7v-.8h1.2v-.4h1.7v-.7v-.6h1.5h1.2v-.4h1.5v-.7h1.4v-.6v-.6h1.2v-.8h1.7h1.4v-.8h1.1v-.5h1.6v-.8h1.5v-.8v-.8h1.6h1.4v-.7h1.6v-.8h1.5v-.7v-.8h1.6h1.4v-.7h1.1v-.6h1.1v-.5v-.7h1.3h1v-.5h1.5v-.8h1.5v-.7h1.1v-.5h1.5v-.6h1.6v-.5v-.6h1.5h.9v-.6h.9v-.7h1v-.8h1v-1.1h.8v-.8h1v-1.2h1v-1.1h1.3v-1.3h1v-1.2v-1.1h1.1h.9v-1.1h1.1v-1.3h.6v-.9h.8v-1.2h.8v-1h.7v-1.2h.8v-1.2h.9v-1.4h.9v-1.5h.7v-1.3h.9v-1.6h.7v-1.3h.8v-1.7h.5v-1.3h.5v-1.2v-1.5h.6h.7v-1.7v-1.1h.4h.6v-1.7h.6v-1.8h.6v-1.6v-1.3h.4h.4v-1.4v-1.1h.4h.3v-1.3h.5v-1.5h.4v-1.8h.4v-1.5v-1.2h.3h.2v-1.2h.3v-1.3h.3v-1.2h.3v-1.6h.3v-1.5h.2v-1.1h.4v-1.9h.4v-1.8h.3v-1.6v-1.5h.4v-1.6h.4h.3v-1.4h.3v-1.4h.5v-1.8h.3v-1.5h.5v-1.8h.4v-1.7h.3v-1.3h.4v-1.6h.4v-1.5h.4v-1.6v-1.7h.4v-1.5h.4h.1v-.3" fill="none" stroke="#f26f72" stroke-width="1.0" stroke-linejoin="round" stroke-linecap="round"/>
<path d="M277.2 205.1h1.4v.3h1.4v.3h1.4v.3h1.7v.3h1.1v.2h1.9v.2h1.7v.1h1.8h1.6v-.1v-.1h1.6h1.4v-.2h1.6v-.2v-.2h1.2h1.8v-.3h1.2v-.2h1.4v-.2h1.6v-.4h1.8v-.4h1.6v-.5v-.5h1.5h1.6v-.7h1.2v-.5v-.6h1.3h1.2v-.6h1.2v-.6h1.2v-.8v-.5h1h1.1v-.8h1.5v-.9v-.8h1.1h1.1v-.8h1.1v-.9h.9v-.7h1.2v-1v-.8h1h1.3v-1.3h1.1v-1.1v-1.2h1h.9v-1.1h.9v-1.1h.8v-1.1v-1.3h1.1h1v-1.4h.9v-1.4h.8v-1.1h.7v-1.1h1v-1.5h.7v-1.1v-1.3h.8h.7v-1h.6v-1.1h.7v-1.2h.6v-1v-1h.5v-1.4h.8h.5v-1h.9v-1.6h.5v-1h.7v-1.4h.8v-1.5h.5v-1.1v-1h.6h.6v-1.5h.9v-1.7h.7v-1.5h.7v-1.3v-1.6h.9h.5v-1h.6v-.9h.9v-1.5h.9v-1.4h.8v-1.2h.8v-1.2h.8v-1.2h.7v-1.1v-1.3h.9h.7v-1h.8v-1.1h.8v-1.1h.7v-.9h1.1v-1.5h.9v-1.1h1.2v-1.3v-1.1h.9h.8v-.9h1v-1.1h.8v-1h.8v-1h1v-1.6h.6v-1.4h.6v-1.3h.9v-1.7v-1.2h.7v-1.2h.7h.7v-1.2h.8v-1.4h.7v-1.2v-1.4h.8h.8v-1.5h.9v-1.6v-1.2h.7v-1.3h.8h.9v-1.6h1v-1.5h.6v-1h1v-1.6h.8v-1.1h1.2v-1.4h.7v-.9h.9v-.8h1.2v-1.2h1.4v-1.2h.8v-.8v-1.2h1.3h1v-1h.7v-.8h1v-1.3h.9v-1.2h1v-1.3h.9v-1.3h.8v-1.2h1.1v-1.4v-1.1h.9h1v-1.1h.8v-.8v-.8h1h1v-.8h1v-.8v-.7h.9h1.4v-1.1h.9v-.7v-1h1.2h.9v-.8h1.3v-1.1h1.1v-.9h1.4v-1.2h.9v-.7v-.8h1h1.1v-1h.9v-.7v-1.1h1.3h1.4v-1.2h1.2v-1v-1h1.2h1.1v-.9h1.1v-1h1.5v-1.2h1.5v-1.1h.9v-.6v-1h1.5h1v-.6h1.4v-.9h1.4v-1.1h1.4v-1.1h1.4v-1.2v-1.2h1.3h1.1v-.9h.9v-.7h1.6v-1h1.3v-.7h1.2v-.5v-.5h1.1h1.2v-.6h1.1v-.5h1v-.5h1.4v-.6h1.5v-.8h1.4v-.7h1.2v-.7v-.7h1.2h1.3v-.9h1.1v-.7v-1h1.4h1.4v-1h1v-.7" fill="none" stroke="#257dc0" stroke-width="1.0" stroke-linejoin="round" stroke-linecap="round"/>
<path d="M277.2 205.1v-.9h1.2h1.3v-1h1.4v-1.2h1v-.8v-1.2h1.4h.8v-.8v-1.3h1.4h1.1v-1.2h1v-.9h.9v-1h1.3v-1.3h.8v-.9h.8v-.9h.9v-1.1h1.1v-1.3h.9v-1.1h1.2v-1.4h.9v-1v-1.4h1.2v-1.1h.8h1.2v-1.4h.9v-1v-.9h.7h1.3v-1.3h.9v-1.1h1.1v-1.2v-1h1.1h1v-1.1v-1.2h1.2v-.8h.9h1.4v-1.4v-1.3h1.3h.8v-.8h1v-1h.9v-.9h1.1v-1h1.2v-1.3v-1h1.1v-1.3h1.3h1.1v-1.1h1v-1v-1.2h1.2h1.1v-1.1h1.2v-1.3h1.1v-1.3v-.9h.8h1.1v-1.4h.9v-1h1v-1.2h1v-1.2h1.1v-1.4v-1.5h1.1h.8v-1.2h.8v-.9h.7v-1h.9v-1.2h1v-1.4h1v-1.3h.9v-1.3h.9v-1.1h1v-1.4h.9v-1.2h1.1v-1.4h.8v-1.2h1.1v-1.4h1v-1.4h.7v-1h1v-1.3h1.1v-1.5v-1.3h1v-1.2h1h1.2v-1.3h.8v-.9h1.1v-1h1v-.9h1.1v-1h1.1v-1.2v-1.1h1h1.2v-1.4h.9v-1h.8v-.9h.9v-1.1h1.1v-1.3h.8v-1h1v-1.1h1.4v-1.3h1v-1.1h1.2v-1.1h.8v-.8h.9v-.9h1.1v-1.1h.8v-.9h1.1v-1.1v-1.3h1.2h1v-1.1v-1h.8v-1h.9h1v-1.2h.7v-.9v-1.2h1h1.1v-1.3h1.2v-1.4h1.1v-1.3h1.1v-1.2v-1.3h1h1.2v-1.3h1v-1.1v-1.4h1.3v-1.2h1.3h.8v-.8h1v-1h.9v-.8v-1.2h1.2h1.2v-1h1.1v-.9h1.4v-1.1v-1.1h1.3h1.1v-.9h.9v-.8h1.3v-1.1h1.4v-1.1h.9v-.8h1.3v-1v-.8h1v-1h1.4h1.3v-.9h1.5v-1v-.7h1.2h1v-.7h1.3v-.9h1.2v-.8h1.3v-.9h.9v-.6h1v-.6h1.1v-.7h1v-.6h1.3v-.7h1.6v-.8v-.7h1.6h1.1v-.5v-.7h1.4h1.3v-.7h1.1v-.5h1.4v-.7h1.3v-.7h1.5v-.8v-.5h1.1h1.4v-.7v-.6h1h1.3v-.6h1.7v-.7h1.7v-.6h1.3v-.3h1.4v-.5v-.3h1.1h1.7v-.7h1.1v-.4h1.7v-.6h1.2v-.5v-.6h1.6h1.2v-.4h1.8v-.6h1.5v-.5h1.3v-.5h1.4v-.5h.1" fill="none" stroke="#4cc8c4" stroke-width="1.0" stroke-linejoin="round" stroke-linecap="round"/>
<path d="M277.2 205.1h.9v-1.1h.8v-1h.7v-1h.8v-1v-1.2h.9h1.2v-1.5h.7v-.9h1.1v-1.3h1v-1.2h.9v-1.2h.8v-.9h1.1v-1.3h.7v-.9h.8v-1h.9v-1.4h.8v-1.1h.7v-1h.7v-1.1h.9v-1.3h.6v-1v-1.3h.9h.7v-1.1h.6v-.9h.9v-1.3h.9v-1.3h1v-1.6v-1h.7h.9v-1.4h1.1v-1.6v-1.5h1v-1.4h.9h.8v-1.2h.6v-1h1.1v-1.6h.7v-1v-1h.7h.8v-1.1v-1.2h.9h.7v-.9v-1.1h.9h.9v-1.1h1.1v-1.3h1.3v-1.4v-1.1h1.2h1.1v-1h1v-.8h1.5v-1h1.5v-.9h1.4v-.9h.9v-.6h1.3v-1h1.5v-1.1h1.5v-1.2h1.3v-1.2h1.3v-1.2v-1.1h1.1h.9v-.9h1.2v-1.3h1.1v-1.3h.8v-1h1.1v-1.3h1v-1.4h.8v-1h1.1v-1.5h1v-1.3v-1.2h.9v-.9h.6h.8v-1.1h.8v-1h.7v-.9v-1.2h1h1v-1.2v-.9h.7h1.1v-1.2v-1.1h.9h1.2v-1.4h1v-1v-1.2h1.1h1v-.9v-1.3h1.3h1.3v-1.3h.8v-.8h1.3v-1.3h.9v-.9h1.3v-1.2h.9v-1h1.4v-1.3v-1h1h1v-1.1v-1.3h1h1v-1.2h.8v-.8v-1.3h1.4h1v-.9h1.1v-1h1.2v-1.1h.8v-.8h1.3v-1.2h.9v-.9h1.1v-1.1h1.1v-1.1h1.3v-1.3h1v-1h.8v-.9h.9v-1h.9v-1.1v-1.2h1v-.9h.8h1v-1.2h.8v-1h.9v-.9v-1.1h1h1.3v-1.3h1.1v-1.1h1.3v-1.3h1v-1h1.1v-1h1v-1.1h1v-1h1.1v-1.2h1.1v-1h1.1v-.8h1.1v-.8h1v-.7v-1h1.6h1.4v-.9h1.5v-1h1.3v-.9h1v-.7h1.1v-.7h1.5v-1v-.9h1.5h1.2v-.7h1.6v-.7h1.2v-.6v-.5h1.1h1.2v-.6h1v-.6h1.1v-.7h1.5v-.9h1v-.7h1.7v-.9h1.2v-.7h1.4v-.7h1.5v-.7v-.6h1.5h1.2v-.6h1.4v-.6h1.6v-.7v-.5h1.2h1v-.5h1.3v-.5h1.7v-.7v-.3h1.2h1.3v-.5h1.3v-.4h1.3v-.4h1.1v-.4h1.1v-.3v-.4h1.1h1.7v-.5h1.2v-.4h1.8v-.6h1.7v-.5h1.1v-.4h1.5v-.4h1.3v-.4h1.8v-.5h1.6v-.5" fill="none" stroke="#ad52c2" stroke-width="1.0" stroke-linejoin="round" stroke-linecap="round"/>
<path d="M277.2 205.1h.6v-1.1h.7v-1.3h.9v-1.5h.6v-1.2h.8v-1.6v-1h.5h.8v-1.5h.5v-1v-1.2h.6v-1.7h.8h.9v-1.6v-1.7h.8v-1h.5v-1.1h.5v-1h.6h.8v-1.7h.6v-1.1h.8v-1.6v-1.4h.7h.8v-1.6h.5v-1.1v-1.5h.7h.5v-1h.8v-1.5h.7v-1.4h.7v-1.4v-1.4h.7h.6v-1.1v-1.2h.6h.6v-1.4h.8v-1.5h.7v-1.4h.7v-1.4h.7v-1.4h.5v-1.1v-1.7h.9h.5v-1h.5v-1h.7v-1.4h.8v-1.6v-1h.5h.6v-1.2h.6v-1.3v-1.3h.7h.7v-1.3h.7v-1.4h.7v-1.6h.8v-1.6v-1.5h.7h.6v-1.1v-1.7h.8h.7v-1.3h.8v-1.2h.9v-1.3h.9v-1.4v-1.3h.9h.8v-1.2h.7v-1.1v-1h.6h.7v-1.3h.7v-1.2v-1.5h.8h.9v-1.6h.7v-1.1h.7v-1.2h.7v-1.1v-1.2h.8h1v-1.4v-1.5h1.1v-1h.9h1v-1h1.3v-1.2h1.4v-1.3h1v-1h1.2v-1.3h.8v-.9v-1.4h1.2h.8v-.9h1v-1.2v-1h.8v-1.2h1h1.2v-1.2v-1.4h1.3h1.3v-1.3v-1.1h1.1v-1.3h1.3v-1.3h1.3h1.3v-1.3h1.3v-1.3h1.2v-1.2h.8v-.9h.9v-.8h1v-1h1.3v-1.1h1v-.8h1v-.7h1.2v-.9h.9v-.8h.8v-.7h1v-1.1h.8v-.9h1.1v-1.5h.7v-1.1h1.1v-1.4h.7v-1.1h1v-1.4h.8v-1h1.1v-1.2h1.2v-.9h1.5v-.9v-.9h1.3h1.3v-1h1.4v-1h1v-.7h1.4v-1.2h1.1v-1.2h1.1v-.9v-.8h1.1h1.2v-.5h1.8v-.6h1.2v-.3h1.7v-.5h1.6v-.6h1.3v-.6v-.6h1.4h1.6v-.7h1.7v-.7h1.1v-.5v-.5h1.2v-.5h1.1h1.5v-.7h1.3v-.5h1.6v-.7v-.6h1.5h1.2v-.5h1.1v-.4h1v-.4h1.7v-.6h1.3v-.5h1.7v-.6h1.5v-.5v-.5h1.7h1.3v-.5h1.7v-.5h1.4v-.5h1.6v-.5h1.4v-.4h1.3v-.4h1.1v-.3v-.4h1.4h1.8v-.4v-.4h1.9v-.3h1.7h1.3v-.2h1.1v-.1v-.3h1.7v-.1h1.4v-.2h1.5v-.2h1.4h1.4v-.2h1.3v-.1h1.6v-.2h1.2v-.2h1.6v-.2h1.6v-.2h1.7v-.2h1.5v-.2h1.5v-.2h1.3v-.1h1.4v-.2h1.2v-.1h1.1v-.1h1.8v-.2h1.3v-.2h1v-.1" fill="none" stroke="#18a981" stroke-width="1.0" stroke-linejoin="round" stroke-linecap="round"/>
<path d="M277.2 205.1v-1h.2v-1.7h.4h.4v-1.8h.4v-1.7h.4v-1.7h.4v-1.3h.3v-1.3v-1.5h.3h.3v-1.2h.5v-1.7v-1.4h.3h.3v-1.1h.3v-1.1h.3v-1.2h.4v-1.7h.5v-1.7h.4v-1.3h.4v-1.3h.4v-1.2h.5v-1.5h.3v-1.2h.4v-1.2h.3v-1.2h.4v-1.1h.4v-1.4h.4v-1.6v-1.6h.5v-1.1h.4h.4v-1.5h.4v-1.2h.4v-1.3h.5v-1.6h.6v-1.8v-1.6h.5h.5v-1.5h.6v-1.8h.4v-1.1h.6v-1.7h.5v-1.5h.6v-1.6h.5v-1.5h.4v-1.2v-1.7h.7h.5v-1.4h.6v-1.5h.5v-1.5h.5v-1.2h.5v-1.2h.7v-1.7h.7v-1.7h.5v-1.3h.5v-1.1h.5v-1.3h.6v-1.3h.6v-1.3h.5v-1.3h.6v-1.1h.5v-1.2h.8v-1.7v-1.5h.8h.8v-1.6h.8v-1.5v-1.2h.6h.7v-1.2h.8v-1.5h.8v-1.3h.6v-1.1h.9v-1.5h.8v-1.3h.6v-1h.9v-1.4h.7v-1.2h.7v-1v-1h.7h.7v-1.1h.9v-1.2h.9v-1.2v-1.4h1.1h1v-1.3h1.2v-1.4v-1.4h1.2h1.2v-1.2h.9v-.9h1.3v-1.3h1v-.8h.8v-.8v-1h1h1.2v-1h.9v-.7h1.4v-1.2h1.2v-1h1.4v-1h1v-.8h1.2v-.8v-.8h1.3h1.2v-.8h1.6v-1h1.4v-1v-.9h1.4h1.2v-.8h1.3v-.9h1v-.7h1.1v-.6h1v-.8v-.6h.9h1.6v-1.1h1v-.6h1v-.7h1.1v-.7h1.2v-.7h1.3v-.7h1.5v-.9h1.5v-.8v-.8h1.6v-.4h1h1.1v-.5h1.2v-.4h1.3v-.5h1.6v-.6h1.1v-.5h1.4v-.5h1.2v-.5h1.3v-.5h1.7v-.8h1.4v-.6h1.5v-.6h1.4v-.7h1.1v-.4h1.6v-.7h1.5v-.7h1.5v-.6h1.4v-.6h1.2v-.5h1.6v-.7h1.1v-.4v-.7h1.7h1.2v-.4h1.1v-.4h1.2v-.4h1.8v-.6v-.6h1.8v-.3h1.2h1.1v-.3h1.7v-.4v-.3h1.1h1.4v-.4v-.6h1.7v-.4h1.4v-.6h1.5h1.7v-.5v-.4h1.5h1.7v-.5h1.3v-.3h1.4v-.3h1.5v-.3h1.2v-.3h1.2v-.2h1.6v-.4h1.6v-.4h1.8v-.4h1.1v-.4h1.8v-.5h1.6v-.4h1.3v-.3h1.4v-.3h1.6v-.2h1.6v-.2h1.6v-.2h1.3v-.1h1.7v-.2h1.2v-.1h1.3v-.1h1.8v-.1h1.6h1.4v-.1h1.6h1.2v-.1h1.2h1.4v-.1h1.3h1.9h1.4h1.6v-.1" fill="none" stroke="#df7fba" stroke-width="1.0" stroke-linejoin="round" stroke-linecap="round"/>
<line x1="266.6" y1="215.5" x2="469.9" y2="31.5" stroke="#2a2a2a" stroke-width="1.05" stroke-dasharray="2.8 2"/>
<path d="M266.6 31.5 V215.5 H469.9" fill="none" stroke="#4d4d4d" stroke-width="1"/>
<line x1="274.5" y1="215.5" x2="274.5" y2="218.8" stroke="#4d4d4d" stroke-width="1"/>
<line x1="263.3" y1="207.5" x2="266.6" y2="207.5" stroke="#4d4d4d" stroke-width="1"/>
<line x1="321.5" y1="215.5" x2="321.5" y2="218.8" stroke="#4d4d4d" stroke-width="1"/>
<line x1="263.3" y1="165.5" x2="266.6" y2="165.5" stroke="#4d4d4d" stroke-width="1"/>
<line x1="367.5" y1="215.5" x2="367.5" y2="218.8" stroke="#4d4d4d" stroke-width="1"/>
<line x1="263.3" y1="123.5" x2="266.6" y2="123.5" stroke="#4d4d4d" stroke-width="1"/>
<line x1="414.5" y1="215.5" x2="414.5" y2="218.8" stroke="#4d4d4d" stroke-width="1"/>
<line x1="263.3" y1="81.5" x2="266.6" y2="81.5" stroke="#4d4d4d" stroke-width="1"/>
<line x1="461.5" y1="215.5" x2="461.5" y2="218.8" stroke="#4d4d4d" stroke-width="1"/>
<line x1="263.3" y1="39.5" x2="266.6" y2="39.5" stroke="#4d4d4d" stroke-width="1"/>
<text x="271.6" y="42.1" class="pl">b</text>
<text x="330.7" y="77.9" text-anchor="middle" class="cl" fill="#df7fba">FBR</text>
<text x="364.3" y="86.8" text-anchor="middle" class="cl" fill="#4cc8c4">SA</text>
<text x="364.3" y="94.7" text-anchor="middle" class="cl" fill="#4cc8c4">Core</text>
<text x="323.6" y="137.1" text-anchor="middle" class="cl" fill="#18a981">Onco</text>
<text x="322.9" y="183.6" text-anchor="middle" class="cl" fill="#257dc0">Chon</text>
<text x="345.9" y="198.1" text-anchor="middle" class="cl" fill="#5db5ee">Rep</text>
<text x="383.9" y="73" text-anchor="middle" class="cl" fill="#ad52c2">Stim</text>
<text x="383.2" y="130.6" text-anchor="middle" class="cl" fill="#f26f72">SPI Yng</text>
<text x="383.2" y="138.5" text-anchor="middle" class="cl" fill="#f26f72">MuSCs</text>
<text x="394.4" y="153.4" text-anchor="middle" class="cl" fill="#f0a230">Ion</text>
<text x="394.4" y="161.3" text-anchor="middle" class="cl" fill="#f0a230">Rad</text>
<text x="450.9" y="134" text-anchor="middle" class="cl" fill="#5e5e5e">SPI Ger</text>
<text x="450.9" y="141.9" text-anchor="middle" class="cl" fill="#5e5e5e">MuSCs</text>
</g>
<g id="panel-c">
<path d="M488.2 205.1h1.2v.2v.2h1.1v.2h1.7h1.4v.1h1.6h1.3v-.1h1.5v-.3h1.1v-.4h1v-.4h1.1v-.5h1.4v-.6v-.4h1h1.5v-.6v-.4h1.3h1.3v-.4h1.4v-.3h1.6v-.4h1.2v-.3h1.5v-.3h1.5v-.4h1.1v-.3h1.1v-.3h1.6v-.4v-.4h1.5h1.3v-.3h1.6v-.3h1.2v-.3h1.2v-.3h1.5v-.3v-.4h1.7v-.3h1.5h1.8v-.3h1.2v-.1h1.7v-.2v-.1h1.3v-.1h1.2h1.6v-.1h1.7v-.2v-.2h1.2h1.6v-.3h1.6v-.3v-.4h1.9h1.1v-.2h1.5v-.4h1.4v-.3h1.3v-.3h1.7v-.3h1.5v-.4h1.6v-.4v-.5h1.6h1.3v-.5h1.3v-.5v-.6h1h1.5v-.8h1.5v-.8h1.4v-.7v-.6h1.2h1v-.6h1v-.5h1.5v-.7h1.2v-.5h1.3v-.2h1.7h1.5v-.4h1.4v-.5h1.4v-.5h1.6v-.6h1.5v-.7v-.6h1.4h1v-.5h1.5v-.8h1.1v-.6h1.3v-.8h1.4v-.9h1.1v-.7v-1.1h1.5h1v-.6h1v-.7h1.3v-.9h1.2v-.8h1.4v-1h1.3v-.9v-.9h1.6v-.8h1.4h1.4v-.7v-.7h1.5h1.1v-.5h1.2v-.6h1.2v-.6v-.6h1.2h1.2v-.6h1.4v-.7h1.2v-.6h1.7v-.8v-.9h1.6h1.6v-.8h1.2v-.6h1.7v-.8h1.6v-.7h1.4v-.7h1.4v-.7h.9v-.5h1.6v-1h1.5v-.9h1.5v-1h1.4v-1h1.5v-1.1h1v-.7h1.2v-.9h1.1v-.8h1.3v-1.2h1.1v-1h1.2v-1.2h.9v-1h.7v-.9v-1.2h1h.9v-1.2h.8v-1.1h.8v-1.3v-1.4h1h1v-1.6h.9v-1.6h.9v-1.6h.7v-1.6h.5v-1.1h.6v-1.7h.7v-1.8h.5v-1.5h.3v-1.2v-1.6h.5v-1.1h.3h.4v-1.4v-1.5h.4h.4v-1.3h.3v-1.3h.4v-1.7h.4v-1.5v-1.4h.3h.5v-1.7v-1.1h.2h.3v-1.3h.4v-1.6h.3v-1.5h.3v-1.3h.3v-1.4h.3v-1.2h.2v-1.2h.4v-1.8h.3v-1.2v-1.8h.3h.3v-1.2h.2v-1.2h.3v-1.3h.4v-1.8h.3v-1.4v-1.3h.2h.3v-1.4h.3v-1.5h.2v-1.2h.4v-1.7v-1.3h.2h.3v-1.2h.2v-1.1h.3v-1.6h.3v-1.3h.2v-1.1v-1.7h.3h.3v-1.3h.3v-1.8h.3v-1.5h.2v-1.2h.3v-1.5h.3v-1.5h.3v-1.4h.3v-1.6h.2v-1.4h.3v-1.6h.3v-1.8h.3v-1.3h.2v-1.4h.3v-1.4h.2v-1.4h.3v-1.8h.3v-1.7h.3v-1.4v-1.5h.2h.3v-1.5v-1.5h.2" fill="none" stroke="#5db5ee" stroke-width="1.0" stroke-linejoin="round" stroke-linecap="round"/>
<path d="M488.2 205.1v-.8h1.3h1.5v-1.1v-.7h1.2h1.1v-.6v-.7h1.1h1.2v-.6v-.9h1.6h1.2v-.5h1.1v-.6h1.1v-.5h1.5v-.8h1.1v-.5h1.7v-.8v-.6h1h1v-.5h1.7v-.9v-.5h1.1v-.6h1.2h1.2v-.6h1.3v-.5v-.4h1.1h1.6v-.7h1.4v-.4h1.4v-.5h1.1v-.4h1.7v-.7h1.1v-.4h1.6v-.6h1.5v-.6h1.2v-.4h1.7v-.6v-.4h1.1h1.5v-.6h1.5v-.6h1.2v-.4v-.5h1.3h1.8v-.7h1.3v-.5h1.6v-.5h1.3v-.5h1.5v-.6h1.7v-.6v-.4h1.1h1.2v-.5v-.5h1.2h1.1v-.5h1.6v-.8h1v-.5h1.6v-.9h1.1v-.5h1.2v-.6v-.6h1.3v-.5h1.1h1.3v-.5h1.4v-.5h1.4v-.5v-.5h1.5h1.3v-.5h1.6v-.7v-.6h1.5v-.5h1.1v-.6h1.3h1.7v-.7h1.4v-.4h1.5v-.2v-.7h1.3h1.7v-.8h1.2v-.7h1.2v-.6h1.6v-.7v-.7h1.6h1.3v-.5v-.4h1.3h1.6v-.7v-.8h1.6h1.4v-.9h1.4v-.8v-.8h1.3h1.5v-.9v-.8h1.5h1v-.5v-.7h1.4h1.3v-.6h1.3v-.7v-.8h1.4h1.7v-.9h1.6v-.9v-.6h1h1.1v-.6h1v-.7h1.6v-.9h1.2v-.8h1.6v-.9h1.5v-.9h1v-.5h1.3v-.6h1.7v-.8v-.7h1.4h1.6v-.9h1v-.6v-.7h1v-.7h1.1h1v-.6v-.7h1h1.2v-.9h1.1v-.9h1.4v-1.1v-1.2h1.4h1v-.8h.9v-.8h1.3v-1.2h.9v-.9h1v-.9h.8v-.8h.8v-.8h.9v-.9h1.2v-1.2h1.2v-1.3h1.1v-1.3h1v-1h1.1v-1.2h1.1v-1.2h.9v-1.2v-1.3h1h.6v-1v-1.2h.8h.7v-1.2h.9v-1.5h.6v-1.2h.8v-1.5h.6v-1.2h.5v-1.2h.7v-1.5h.7v-1.5v-1.2h.6h.5v-1.2h.5v-1.2h.5v-1.3h.6v-1.3h.5v-1.4v-1.1h.4v-1.7h.6h.6v-1.8h.5v-1.5h.4v-1.1v-1.2h.4h.3v-1.4h.5v-1.8h.5v-1.6h.3v-1.3h.5v-1.7h.5v-1.9h.3v-1.4h.4v-1.5h.3v-1.3h.3v-1.5h.4v-1.4h.3v-1.3h.4v-1.8h.3v-1.4h.3v-1.7h.3v-1.1h.3v-1.3h.2v-1.1v-1.4h.3h.2v-1.2h.3v-1.7h.3v-1.2h.3v-1.6h.2v-1.4h.3v-1.5h.3v-1.7h.2v-1.2h.2v-1.3h.2v-1.4h.3v-1.9h.2v-1.1h.2v-1.4h.2v-1.1v-1.5h.3h.1v-1" fill="none" stroke="#5e5e5e" stroke-width="1.0" stroke-linejoin="round" stroke-linecap="round"/>
<path d="M488.2 205.1h1.1h1.3h1.9v-.1h1.2h1.3v-.2v-.2h1.6h1.5v-.4h1.1v-.4v-.7h1.7v-.4h1h1.4v-.6h1.3v-.5h1.5v-.6h1.5v-.5h1.4v-.5h1.8v-.7h1.5v-.6h1.6v-.6h1.4v-.6h1.1v-.6h1.5v-.7h1.4v-.7v-.7h1.2v-.7h1.4v-.7h1.6h1.4v-.7h1.5v-.6v-.6h1.4v-.7h1.6h1.6v-.8h1v-.5h1.7v-.8h1.1v-.6h1.3v-.7h1.3v-.7v-.6h1h1.5v-.8v-.7h1.2h1.6v-1h1.1v-.7h1.4v-.8v-.9h1.4h1.2v-.8h1.1v-.7h1.4v-.8h.9v-.7h1.2v-.7h1.3v-.8h1.1v-.7h1.4v-.8h1v-.7h1.3v-.8h1v-.6h1.3v-.8v-.9h1.3h1.1v-.7h1.1v-.7h1.5v-1.1h1.2v-1h1.3v-1h1.1v-1h1.2v-1h1.2v-1h1.1v-.9h1.5v-.5h1.2v-.8h.9v-.8h.9v-.7h1.4v-1.2h1.4v-1.2h1.4v-1.2h1v-.9h1.4v-1h1.2v-1h1.2v-1v-1.1h1.2h1.4v-1.2h1.3v-1.2h.8v-.9h1.2v-1.2h.8v-.8h.9v-1h1.2v-1.1h1.1v-1.2h1.3v-1.2h1.1v-1.1h1.3v-1.3v-1h1v-1.3h1.2h1.2v-1.4h.7v-.8h.8v-1h1.1v-1.3h1.2v-1.4h1.2v-1.4v-1.3h1.3h.8v-.8h.8v-.9h1.2v-1.1h1.1v-1.1h1.1v-1.1h1.1v-1h1.3v-1.4h1.2v-1.1h1.3v-1.3h1v-1h1.2v-1.3h1.1v-1.2v-1.3h1.1h.9v-1h1.1v-1.3h.9v-1.1v-1.4h1.2h.9v-1.1h1v-1.2h.8v-.8h1v-1.2h.9v-1.1v-1.2h1h1.2v-1.4h1.2v-1.3h1.1v-1.3h.7v-.8h1.3v-1.4h1.1v-1.4h.9v-1v-1.4h1.1v-1h.8h1.2v-1.5h.8v-1.1h.8v-1.1h1.1v-1.3h.6v-.9h.9v-1.3h.8v-1.3h.7v-1h.7v-1.3h1v-1.5h.7v-1.2v-1.2h.7h.6v-1.1h.9v-1.5h.6v-1h.9v-1.5h.7v-1.4h1v-1.6h.8v-1.5h.6v-1.1h.9v-1.6v-1.4h.7h.9v-1.6v-1.4h.7h.6v-1.3h.7v-1.4h.8v-1.6v-1.5h.7v-1h.6v-1.4h.6h.8v-1.5h.8v-1.7h.5v-1.1h.5v-1.1h.5v-1.1h.7v-1.4h.6v-1.4v-1.2h.6h.6v-1.3h.2v-.5" fill="none" stroke="#f0a230" stroke-width="1.0" stroke-linejoin="round" stroke-linecap="round"/>
<path d="M488.2 205.1v-.8h.8h1.4v-1.4h1v-1h.8v-.9h1.4v-1.3h1.1v-1h1.2v-1h.9v-.9h1.4v-1.1v-.9h1.2v-1h1.2h1.4v-1.2h1v-.8h1.1v-1v-.9h1h1.4v-1.1h1.5v-1.2h1.1v-.8v-.9h1.3h1.5v-.9h1.4v-.9h1.1v-.7h1.1v-.7h1.3v-.9v-.9h1.5h1v-.7h1.4v-1v-1.1h1.5h1.4v-1.2h1v-.9h1.4v-1.2h1.1v-.9h1v-.8h1.4v-1h1.3v-.8h1.5v-1h1.3v-.8h1.5v-1h1.5v-1.1h1.4v-.9h1.3v-.9h1v-.7v-.9h1.6h1.1v-.6h1.3v-.6v-.6h1.1h1.2v-.5h1.3v-.7h1.5v-.7h1.1v-.6h1.2v-.6h1.4v-.6h1.4v-.8h1.2v-.6h1.7v-.9h1.5v-.8h1.6v-.7v-.6h1.2v-.6h1.7h1.6v-.6h1.6v-.4h1.6v-.5h1.2v-.2h1.7v-.2h1.2v-.2h1.4v-.2h1.8v-.4h1.3v-.4h1.7v-.5h1.2v-.4h1.4v-.5h1.2v-.6h1.5v-.7h1.4v-.7v-.8h1.4h1.5v-.7h1.4v-.7h1.5v-.6h1.6v-.7v-.5h1.2v-.5h1.1v-.7h1.7v-.6h1.3h1v-.5h1.1v-.6v-.5h1.2h1.2v-.6h1.6v-.6h1.2v-.5v-.6h1.3h1.2v-.5h1.4v-.6h1v-.6v-.7h1.5h1.7v-.8h1.3v-.7h1.5v-.8h1.1v-.5h1.1v-.6h1.4v-.7h1.5v-.7v-.5h1h1.3v-.6h1.4v-.6h1.1v-.5h1.3v-.7h1.5v-1h1.3v-1.1h1.3v-1.2h1v-1.2h.9v-.8h1.1v-1.2h1.2v-1.3h.9v-.9h1.4v-1.3h1v-1h1.2v-1.1v-.9h.8h.9v-1h1v-1.1h.7v-1h.8v-.9v-1h.7h1.1v-1.5v-1h.8v-1.1h.8h.7v-1h.8v-1.2h.8v-1.2h1v-1.5h.7v-1.1h.6v-.9h.8v-1.4h.8v-1.4h.8v-1.7h.8v-1.5h.7v-1.7h.4v-1.1h.4v-1v-1.5h.5v-1.7h.6h.6v-1.5h.4v-1.1h.5v-1.6h.5v-1.2h.4v-1.3h.5v-1.5h.4v-1.1h.5v-1.4h.3v-1.2h.4v-1.3h.4v-1.2h.4v-1.2h.4v-1.4h.5v-1.8h.5v-1.7h.5v-1.7h.5v-1.6h.4v-1.6h.5v-1.6h.3v-1.3v-1.8h.5h.4v-1.2v-1.2h.3h.4v-1.1h.3v-1.4h.5v-1.4h.4v-1.5h.3v-1.1v-1.2h.4h.3v-1.2v-1.6h.5h.4v-1.2v-1.2h.3h.2v-.7" fill="none" stroke="#f26f72" stroke-width="1.0" stroke-linejoin="round" stroke-linecap="round"/>
<path d="M488.2 205.1h1.2v.3h1.2v.4h1.7v.4h1.4v.3h1.1v.3v.3h1.5h1.4v.2h1.4v.2v.1h1.6h1.6h1.6h1.8h1.3v-.1h1.5v-.1v-.2h1.7h1.5v-.1h1.9v-.3h1.2v-.1h1.8v-.3h1.2v-.2h1.2v-.2h1.9v-.3h1.4v-.1h1.3v-.2h1.3v-.1h1.4v-.2h1.3v-.1h1.7v-.3v-.3h1.6h1.4v-.3h1.5v-.4h1.8v-.4h1.5v-.4h1.6v-.5v-.3h1.4h1.2v-.3h1.6v-.3h1.1v-.3h1.2v-.3h1.6v-.4h1.6v-.5h1.5v-.7h1.5v-.8h1.6v-.8h1.1v-.6h1.1v-.6v-.4h1v-.7h1.6h1.7v-.8h1.1v-.7h1v-.7v-.8h1h.9v-.9h1v-.9h.8v-.9h.9v-1h1v-1.1h1.3v-1.3h.9v-.9v-1h1h1.3v-1.3v-1.2h1.1h1.1v-1.5v-1.1h.8v-1.2h.9h1v-1.2h1.1v-1.4v-1.5h1.2h.8v-1v-1.2h.8h.9v-1.3h.7v-1.2h.7v-.9h.9v-1.5v-1.1h.7h1.1v-1.6h1v-1.5h.7v-1.1h.8v-1.2h.8v-1.1h1.1v-1.3h1.1v-1.3h1v-1.3v-1.1h.8h.7v-.9h.7v-1h.9v-1.3h.7v-1.1h.8v-1.2h.8v-1.2h.8v-1.4h.9v-1.6v-1.2h.7h.6v-1.1h.6v-1v-1.2h.7v-1.6h.8h.5v-1h.5v-1h.7v-1.5v-1.2h.6h.7v-1.4h.6v-1.2h.7v-1.4h.8v-1.6v-1.5h.7v-1.6h.8v-1.6h.8h.8v-1.6h.7v-1.2h.6v-1.2h.8v-1.4h.7v-1.2v-1.1h.6v-1.3h.8h1v-1.3v-1.4h1.1h1.2v-1.3h.8v-1h.8v-1.3h1v-1.6h.8v-1.4h.8v-1.5h.6v-1.2h.9v-1.5h1v-1.4v-1h.7h1v-1.3h.8v-1.1h.8v-1h.7v-.9h.8v-1.1v-1.1h.9v-1.2h.9h1v-1.4h1v-1.3h.8v-1.1v-.9h.7h1v-1.4h.9v-1.2v-1h.8v-1h.7h.8v-1h.9v-1.1h.8v-1.2h.9v-1.1h.9v-1.3h.9v-1.2h.7v-.9h1.1v-1.4h.8v-1.1h.6v-.9v-1.2h.9h1v-1.4v-.8h.7h1v-1.3h.8v-1.1v-1.2h1h.8v-.9h1.2v-1.4h1.2v-1.4h1v-1.2v-.8h.8h.9v-1.2h1v-1h1.1v-1.3h.9v-1v-1.4h1.1h1.2v-1.3h.8v-1h1v-1.2h.9v-1.1h.9v-1.1h1.2v-1.5h.7v-.9h1.2v-1.5h.7v-.8h.7v-.9h.7v-.9" fill="none" stroke="#257dc0" stroke-width="1.0" stroke-linejoin="round" stroke-linecap="round"/>
<path d="M488.2 205.1h1.2v-.5h1.5v-.7h1.3v-.5h1.4v-.7h1.4v-.6h1.4v-.7h1.2v-.6v-.5h1h1.2v-.6h.9v-.5v-.8h1.3h1.1v-.6h1.4v-.9h1.2v-.9h1.2v-.8h1.4v-1.2v-1.3h1.4h1.2v-1.3h.9v-.9h1.2v-1.2h1v-1.1v-1.3h1.3v-1.1h1.2v-1.1h1.2h1.4v-1.1h.8v-.7h1.5v-1.2h1.1v-1h1.4v-1.2h1.1v-1.1h1v-.9h1.1v-1.1h1.3v-1.4h1.1v-1.1h.8v-.8h.9v-.9v-1.3h1.3h1v-1h1.1v-1.2h1.3v-1.2h1.1v-1.1h1v-1v-1.1h1.2h.9v-.9h1v-1h1v-1h.9v-1h.8v-.9h1.2v-1.2h.9v-1.1h.8v-.9h.7v-.8h1.2v-1.4h1v-1.3h1.1v-1.3h1.1v-1.5h.9v-1.2v-1.1h.9h1.1v-1.4h1v-1.5h1v-1.4h1v-1.5h1v-1.4v-1.3h.8h1v-1.4h.7v-1.1h.8v-1.2v-1.2h.8h1v-1.5h.7v-.9h.9v-1.4h1v-1.2h.8v-1.1h.9v-1.2v-1.3h.9h1.2v-1.4h1.2v-1.3v-1.2h1.3h1.3v-1.2h1v-.9h.9v-.9h1.2v-1.2h1.3v-1.3h.8v-.8h.9v-.9h1.2v-1.2h.7v-.8h1v-1.2h1.3v-1.4h.9v-1h1.1v-1.4v-1.1h1v-1.5h1.2h.8v-1h1.1v-1.2h1v-1.2h1v-1h.8v-1h.8v-1h.8v-.9h.7v-.9v-1.1h.8h.7v-1h.7v-.9h.9v-1.3h1.1v-1.5h.9v-1.2v-1h.8h1.1v-1.1v-1h1h1.1v-.9h.9v-.7h1.3v-1v-.8h1.1h1.4v-1.2h1.1v-.9v-1.2h1.4h1.4v-1.1h1.1v-.9h1v-.9v-1.2h1.4h1.3v-1h1.3v-1.1h1v-.9h1.4v-1.1v-1h1.1v-1h1.3h.9v-.8h1.1v-1h1.3v-1.1h1.4v-1h.9v-.7h1.4v-.9h1.1v-.7h1.4v-1h1.6v-1h1.1v-.7h1.5v-1h1.5v-1h1.5v-1v-.7h1.1h1.4v-1h1v-.6h1.4v-1h1.3v-.8h1v-.7v-.6h.9v-.7h1h1.2v-.8v-.9h1.2h1.2v-.8v-.9h1.5v-.6h1h1.3v-.7h1.6v-.8v-.5h1.1h1v-.5v-.7h1.5h1.6v-.8v-.8h1.6h1.2v-.6h1.4v-.8h1.7v-.8h1.6v-.8v-.4h.6" fill="none" stroke="#4cc8c4" stroke-width="1.0" stroke-linejoin="round" stroke-linecap="round"/>
<path d="M488.2 205.1h1v-1.2h.9v-1.2h.7v-.9v-.9h.7h1.1v-1.5h1.1v-1.3h1v-1.3h1.1v-1.3h.8v-1h.9v-1.1h1.2v-1.5h1v-1.2h.7v-1h1.1v-1.3h1v-1.5h.8v-1.1h.9v-1.4h.8v-1.3v-1.1h.6h.7v-1.3h.7v-1.6h.5v-1h.5v-1.1h.7v-1.3h.9v-1.2h.9v-1h1.1v-1.3h1.2v-1.3h.8v-1v-.9h.7h1.1v-1.5v-1h.8h.8v-1.1h.9v-1.3v-1.1h.7h.7v-.9h.7v-1h.7v-1.1h.9v-1.1h.6v-1h.9v-1.2h.8v-1.1h1v-1.4h.8v-1.1h1.1v-1.5h.9v-1.2h1.1v-1.5h.8v-1h.9v-1.2h.7v-.9h1v-1.4h.7v-.9v-.9h.7h1v-1.4v-1h.7v-1.3h1h.8v-1v-.9h.6h.8v-1h.9v-1.2h1.1v-1.3v-1.3h1.1h1.2v-1.4h1v-1.2h.8v-.9v-1.1h1h1.1v-1v-.9h1h1.5v-1.1h1v-.8v-.9h1.1h1.4v-1.2v-1.3h1.3h.9v-.9v-.9h.9h1v-1h1.1v-1.1h1v-1h1.1v-1.1h1.2v-1.2v-1h1v-1.2h1.2v-1h1h1.1v-1.2h1v-1.1h1.2v-1.3h1v-1.2v-1.2h.9h1.2v-1.3h1v-1.3h1.4v-1.2h1.2v-.2v-1h1.1v-1h.8h1.3v-1.4h.7v-.9h1.1v-1.3h.8v-1h1v-1.2h1.2v-1.2h.8v-.8h1.1v-1.2h.9v-.9h1.3v-1.2h1.2v-1.2v-1.3h1.3h.8v-.8h1v-1h.9v-1v-1.2h1.2h1.2v-1.2v-.9h1h1v-.9h1v-.9h.9v-.8v-.8h.9v-.7h.9h1.1v-.8v-.7h.9h1.3v-.8h1.2v-.5h1.2v-.6v-.6h1.4h1.6v-.8v-.9h1.5h1.4v-.9h1.1v-.8h1.3v-.8h1.5v-1.2h.9v-.7v-.8h.9h1.5v-1.3v-.8h.9v-1.2h1.5h1v-.8h1.4v-.8v-.7h1.5h1.4v-.7h1.6v-.7h1.5v-.7h1v-.6h1.1v-.6h.9v-.6v-.8h1.4h1.4v-.8h1.5v-.8h1.2v-.7h1.7v-.9h1v-.5h1v-.5h1.3v-.6h1.4v-.6h1.4v-.6h1.6v-.6v-.5h1.5h1.2v-.5h1.1v-.3h1v-.4h1.6v-.5h1.8v-.6h1.8v-.4h1.5v-.4h1.3v-.3h1.1v-.3h1.5v-.4h1.3v-.3v-.3h1.3h1.4v-.3h1.2v-.3h1.5v-.4v-.2h1.3h1.2v-.3h.3v-.1" fill="none" stroke="#ad52c2" stroke-width="1.0" stroke-linejoin="round" stroke-linecap="round"/>
<path d="M488.2 205.1h.4v-1.5h.4v-1.5h.3v-1.3h.5v-1.7h.4v-1.7h.3v-1.2h.4v-1.2h.3v-1.1v-1.7h.5h.5v-1.7h.5v-1.7v-1.4h.4h.5v-1.5h.3v-1h.5v-1.8h.5v-1.6v-1.7h.5h.6v-1.8h.3v-1.1h.4v-1.2h.4v-1.4h.6v-1.8h.5v-1.7h.4v-1.4h.5v-1.6h.5v-1.5h.5v-1.4h.3v-1.1h.5v-1.5h.6v-1.8h.5v-1.3h.4v-1.3h.4v-1.1h.5v-1.5h.6v-1.5h.6v-1.6v-1.6h.7h.5v-1.3h.7v-1.7h.5v-1.2h.6v-1.4v-1.7h.6v-1.5h.6v-1.7h.7h.5v-1.4h.4v-1h.7v-1.8h.5v-1.1h.6v-1.5h.7v-1.5h.8v-1.7h.5v-1.2h.7v-1.4v-1.1h.6v-1.6h.9h.9v-1.5h.9v-1.4v-1.4h1v-1.4h1.1v-1.5h1.1h.7v-1h1v-1.3h.7v-.9h.7v-1.1h.8v-1.1v-1.4h.9h.8v-1h1v-1.4h.8v-1h1.2v-1.4h.7v-.9v-.9h.8h.9v-1.1v-1.2h1h1.2v-1.4h1.1v-1.5h.8v-1h1.1v-1.3v-1.4h1.3h1.3v-1.1h1.2v-.7h1.6v-.8h1.4v-.8h1.3v-.9h1v-.7v-.8h1v-1h1.2h1v-.9h1.2v-1.1h.9v-.9h.7v-.8h.9v-.9h.8v-.8h1.3v-1.3h1.3v-1.2h.9v-.8h1.2v-.8h1.1v-.7v-.6h1h.9v-.6v-1h1.6h1.5v-1v-.9h1.3h1.1v-.8h1.1v-.7h1v-.7h1.6v-.9h1.5v-.6h1.1v-.5v-.8h1.5h1.4v-.9h1.4v-.9h.9v-.7h1.2v-.8h1.2v-.8h1.5v-1h1.1v-.8h1.2v-.8h1.4v-.9h.9v-.6h1.3v-.8h1.6v-.9v-.6h1.2h1.1v-.5h1.2v-.6h1.6v-.7h1.4v-.6h1.6v-.7v-.5h1.4h1.6v-.6h1.6v-.6h1.5v-.5h1.2v-.4h1.4v-.4v-.6h1.7v-.6h1.7h1.2v-.4h1.5v-.5h1.8v-.6h1.6v-.4h1.8v-.3h1.5v-.3h1.5v-.3h1.4v-.2h1.5v-.2h1.6v-.2h1.1v-.1h1.3v-.2h1.4v-.2h1.3v-.3h1.4v-.3h1.4v-.3v-.3h1.4h1.6v-.3h1.4v-.4h1.6v-.4h1.3v-.3v-.3h1.6h1.3v-.2h1.5v-.3h1.3v-.2h1.5v-.2v-.3h1.5h1.9v-.4h1.6v-.3h1.5v-.3h1.1v-.2h1.8v-.4h1.1v-.2h1.3v-.2h1.7v-.3h1.4v-.2h1.3v-.2h1.6v-.2h1.7v-.3h1.6v-.2h1.2v-.2h1.4v-.2h.1" fill="none" stroke="#18a981" stroke-width="1.0" stroke-linejoin="round" stroke-linecap="round"/>
<path d="M488.2 205.1h.4v-1.3h.3v-1.1h.4v-1.4h.3v-1.1h.5v-1.7h.4v-1.2h.5v-1.6v-1.1h.3h.4v-1.4h.5v-1.6h.3v-1.1h.4v-1.2h.4v-1.3h.3v-1.2h.4v-1.3v-1.3h.4h.6v-1.6v-1.1h.3h.4v-1.2h.6v-1.7h.4v-1.3h.4v-1.2v-1.1h.4v-1.7h.6h.5v-1.6h.5v-1.4h.4v-1.2h.3v-1.1h.6v-1.7v-1.4h.4h.4v-1.1v-1.7h.6h.5v-1.5h.3v-1.1h.6v-1.5h.6v-1.7h.6v-1.5h.4v-1.2h.6v-1.3h.5v-1.4h.6v-1.4v-1.5h.6v-1.4h.6h.5v-1.4h.5v-1h.5v-1.4h.5v-1.2h.6v-1.7h.4v-1.1h.6v-1.4v-1.3h.6h.7v-1.6h.7v-1.4h.6v-1.3h.7v-1.5h.6v-1.2h.8v-1.6h.9v-1.4h.9v-1.6h.8v-1.3h.9v-1.4h.8v-1.3h.8v-1.2h.8v-1.2h.9v-1.5h.9v-1.5h.6v-1h.9v-1.5h.6v-.9h1v-1.5v-1h.6h.8v-1.3h.8v-1.1h.7v-1v-1.3h1h1v-1.4v-1h.7v-1.4h1h1v-1.3h.8v-1.2h.7v-1.1h.8v-1v-1.2h.8v-1.3h.9h1v-1.3h1.1v-1.3v-1.2h1h.8v-1h1v-1.2h1.1v-1.2h1v-1.1h.9v-1h.9v-.9h1.1v-1.1h.9v-.8h1v-.9h1.4v-1.3v-.8h1h1.1v-.9h1.3v-1.1h1.3v-1v-.8h1h1.2v-1.1h1.3v-1.1h1.1v-1h1.1v-.9h.9v-.7h1.4v-1h1.3v-1h1.4v-.9h1v-.7h1.5v-.9v-.7h1.1h1v-.5h1.6v-.7v-.7h1.4h1.7v-.8h1.1v-.6h1.2v-.6h1.3v-.6v-.6h1h1.6v-.6h1.5v-.6h1.6v-.7h1.7v-.6h1.6v-.7v-.5h1.1v-.6h1.4h1.1v-.5h1v-.4h1.5v-.7h1.6v-.6h1.6v-.7v-.7h1.8v-.5h1.4v-.4h1.1h1.8v-.5h1.3v-.3h1.7v-.5h1.6v-.4h1.6v-.4h1.2v-.3h1.1v-.3h1.5v-.4v-.4h1.3h1.5v-.3h1.4v-.4h1.4v-.3v-.2h1.2h1.6v-.4h1.4v-.2v-.3h1.6v-.2h1.6h1.3v-.2h1.4v-.2v-.1h1.5h1.8v-.2h1.5v-.1h1.4v-.2v-.2h1.5h1.2v-.2h1.8v-.2h1.5v-.2h1.6v-.3h1.6v-.2h1.4v-.2h1.5v-.3h1.8v-.2h1.3v-.2h1.4v-.1h1.2v-.2v-.1h1.4h1.9v-.2v-.1h1.3h1.5v-.1h1.2v-.2v-.1h1.5h1.8v-.2h1.8v-.2h1.4v-.2h1.5v-.2v-.1h1.7v-.2h1.1h.1" fill="none" stroke="#df7fba" stroke-width="1.0" stroke-linejoin="round" stroke-linecap="round"/>
<line x1="477.6" y1="215.5" x2="681" y2="31.5" stroke="#2a2a2a" stroke-width="1.05" stroke-dasharray="2.8 2"/>
<path d="M477.6 31.5 V215.5 H681" fill="none" stroke="#4d4d4d" stroke-width="1"/>
<line x1="485.5" y1="215.5" x2="485.5" y2="218.8" stroke="#4d4d4d" stroke-width="1"/>
<line x1="474.3" y1="207.5" x2="477.6" y2="207.5" stroke="#4d4d4d" stroke-width="1"/>
<line x1="532.5" y1="215.5" x2="532.5" y2="218.8" stroke="#4d4d4d" stroke-width="1"/>
<line x1="474.3" y1="165.5" x2="477.6" y2="165.5" stroke="#4d4d4d" stroke-width="1"/>
<line x1="579.5" y1="215.5" x2="579.5" y2="218.8" stroke="#4d4d4d" stroke-width="1"/>
<line x1="474.3" y1="123.5" x2="477.6" y2="123.5" stroke="#4d4d4d" stroke-width="1"/>
<line x1="625.5" y1="215.5" x2="625.5" y2="218.8" stroke="#4d4d4d" stroke-width="1"/>
<line x1="474.3" y1="81.5" x2="477.6" y2="81.5" stroke="#4d4d4d" stroke-width="1"/>
<line x1="672.5" y1="215.5" x2="672.5" y2="218.8" stroke="#4d4d4d" stroke-width="1"/>
<line x1="474.3" y1="39.5" x2="477.6" y2="39.5" stroke="#4d4d4d" stroke-width="1"/>
<text x="482.6" y="42.1" class="pl">c</text>
<text x="561.4" y="61.1" text-anchor="middle" class="cl" fill="#df7fba">FBR</text>
<text x="554.7" y="96.9" text-anchor="middle" class="cl" fill="#18a981">Onco</text>
<text x="546.2" y="138.5" text-anchor="middle" class="cl" fill="#4cc8c4">SA</text>
<text x="546.2" y="146.4" text-anchor="middle" class="cl" fill="#4cc8c4">Core</text>
<text x="585.5" y="133.3" text-anchor="middle" class="cl" fill="#f26f72">SPI Yng</text>
<text x="585.5" y="141.2" text-anchor="middle" class="cl" fill="#f26f72">MuSCs</text>
<text x="558.5" y="205.6" text-anchor="middle" class="cl" fill="#257dc0">Chon</text>
<text x="595.1" y="73" text-anchor="middle" class="cl" fill="#ad52c2">Stim</text>
<text x="605.2" y="115.4" text-anchor="middle" class="cl" fill="#f0a230">Ion</text>
<text x="605.2" y="123.3" text-anchor="middle" class="cl" fill="#f0a230">Rad</text>
<text x="664.9" y="141.8" text-anchor="middle" class="cl" fill="#5e5e5e">SPI Ger</text>
<text x="664.9" y="149.7" text-anchor="middle" class="cl" fill="#5e5e5e">MuSCs</text>
<text x="586.2" y="191" text-anchor="middle" class="cl" fill="#5db5ee">Rep</text>
</g>
<g id="panel-d">
<path d="M65.5 396.5v-1.2h.9h.7v-1h1.1v-1.5h.7v-1.1h.9v-1.2h1v-1.5h.8v-1.2h.8v-1.3v-1h.7h.8v-1.3v-1.6h1v-1.1h.8h.6v-.9h1v-1.5h.8v-1.1h1v-1.3h.9v-1.2v-1.5h1.2h.8v-.9h.8v-.8h1.2v-1.2v-1h1.2h1.1v-.9h1.1v-.8h1v-.8h1.3v-1.1v-1.3h1.3h.8v-.8h1.1v-1.1h.9v-.9v-.9h.9h1.2v-1.3h.9v-.9h1.1v-1.1h1v-1v-1.3h1.3v-.8h.9v-.8h1h1.2v-1h1.5v-1.1h1.4v-1h1v-.7h1.5v-.8h1.2v-.7h1.2v-.7v-.6h1v-.8h1.4h1v-.6h1.5v-.9h1.5v-1h1.1v-.9h1.4v-1.1h1.5v-1.2h1.2v-1h1.2v-1h1.2v-1h1v-.8h1.2v-.9h1.2v-.9h1.6v-1h1.4v-.9h1.1v-.6h1v-.6h1.4v-.8h1.5v-.9h1.4v-.9h1.6v-.9v-.6h1h1.3v-.8v-.8h1.3h1v-.6h1v-.6h1.2v-.7h1.4v-.9h1.4v-.9h1.3v-.6h1.4v-.5h1.8v-.2h1.4v-.6h1.3v-.9h1.3v-1h1.2v-1h.9v-.9v-1.1h1.3h1.3v-1.3h.9v-.8h1.2v-1.3v-.8h.7h1v-1v-.9h.9v-1.2h1.3h.9v-.6h1.3v-.8h1.2v-.5v-.7h1.5h1.8v-.7h1.2v-.6h1.3v-.7v-.7h1.3v-.7h1.5h1.2v-.6h1.4v-.7h1.2v-.5h1.5v-.7h1.2v-.6v-.9h1.5h1.1v-.7h1.5v-1.2h1.3v-1.2h1v-.8h1.3v-1.2h.9v-.8h1.2v-.9h1.3v-1.2h1.4v-1.1h1.2v-1h1.5v-1.2h1.3v-1.2h.9v-.8h1.3v-1.1h1.3v-1.1h1.2v-.9h1.3v-.9h1.6v-.8h1.4v-.7h1.2v-.5h1.1v-.5h1.4v-.8h1v-.6h1.7v-1h1.3v-.9h1v-.8h1.2v-.9v-1.1h1.2v-.8h.8h.9v-.9h1.2v-1.2h.7v-.8h1v-1.1h.8v-.8v-1.1h1.1h1v-.9h1.3v-1.2v-1.2h1.1h1.2v-1.2h.8v-.9h1.2v-1.3h.8v-.9h.8v-.9h.9v-1.1h.9v-1.2v-.9h.7h1v-1.3v-1.5h1.1h.7v-1h.8v-1.1h.9v-1.6h.7v-1.3v-1.6h.6h.4v-1.4v-1.1h.3h.6v-1.8h.6v-1.6h.7v-1.8h.6v-1.6h.2v-.4" fill="none" stroke="#9fc394" stroke-width="1.0" stroke-linejoin="round" stroke-linecap="round"/>
<path d="M65.5 396.5h.9v-1.5h.9v-1.5h.6v-1.1h.9v-1.6v-1.1h.7h.6v-1.2h.7v-1.2h.9v-1.5h.7v-1.3h.7v-1.2h.8v-1.4h.7v-1.3v-1.6h.9h.6v-1.1h.8v-1.3h.7v-1.2h.7v-1v-1.2h.8v-1.1h.7h.8v-.9v-1.1h.8h.7v-1h.8v-1.1h.8v-1.2h.9v-1.4h.8v-1.4h.7v-1.1h.6v-1h.9v-1.4h.6v-1.1h.9v-1.3h.7v-.9h.7v-.9v-.9h.7h.9v-1h1.1v-1.3h1.1v-1.2h1.1v-1.3h1.1v-1.4h1.1v-1.3h1.2v-1.4h1.1v-1.4h.8v-.9h.7v-.9h1.1v-1.3h1.2v-1.5h1.2v-1.4h.9v-1v-1.3h1.2h.8v-.8h1.3v-1.2h.9v-1h1.1v-1.1h1v-.9h.9v-.9v-1.2h1.2h1.1v-1.2h1.1v-1h.9v-.9h1.3v-1.3h1v-1h1.1v-1.2h1v-.9h1.3v-1.3h1.1v-1.1h1v-1.1v-.9h.9h1.2v-1.1h.9v-.9h1v-1.1h1v-1h1.2v-1.2v-1h1h.8v-.8h1.2v-1.1h1.4v-1.1h1v-.8v-.9h1.3v-1.2h1.4h1.2v-1.1v-1.3h1.2h1.3v-1.4h1.1v-1h.8v-.9v-.8h1h1v-.8v-.9h1.2h1.2v-1h1.5v-1.1h1.1v-.9h1.1v-.8h1.3v-1h1.5v-1.1h1.1v-.7h1.1v-.7h1.3v-.9h1.6v-1h1.3v-.9h1.1v-.7h1.3v-1h1.4v-.9h1.5v-1h1.1v-.6h1.5v-.8h1.2v-.5v-.7h1.6v-.9h1.5h1.5v-1h1.4v-1.1h1.1v-1h1.3v-1.2h1.4v-1.1h1.5v-1.1h1.5v-.9h1.3v-.7v-.8h1.5h1.1v-.6h1.5v-.8v-.8h1.3h1.6v-.9h1.4v-.9h1.4v-.9h1.5v-1v-.9h1.4h1.3v-.9v-.7h1v-.9h1.4h1.4v-.8h1.3v-.6h1.3v-.7h1.7v-.8h1.4v-.7h1.7v-.8v-.5h1.1h1.3v-.7h1.6v-.8v-.5h1h1.4v-.7h1.6v-.8h1.4v-.7h1.6v-.8h1.5v-.8h1v-.5v-.5h1.2h1.6v-.8h1.6v-.8h1.5v-.8v-.7h1.4h1.1v-.5h1.6v-.9v-.5h1.1h1.4v-.7h1.5v-.7h1.1v-.6h1.5v-.7v-.8h1.6h1.3v-.8v-.6h1.1h1.5v-.9v-1h1.1h1v-1.1h.9v-1.3h.5v-.5" fill="none" stroke="#dc78bc" stroke-width="1.0" stroke-linejoin="round" stroke-linecap="round"/>
<path d="M65.5 396.5h.6v-1.3h.6v-1.1h.7v-1.5h.8v-1.5h.6v-1.4h.9v-1.6h.8v-1.7h.7v-1.3h.5v-1.1h.5v-1.1h.8v-1.5h.5v-1.1h.7v-1.4v-1.2h.6h.8v-1.6h.6v-1.2h.7v-1.4h.6v-1.2h.6v-1h.6v-1h.8v-1.5v-1.5h1v-1.1h.7h.8v-1.2h.8v-1.3h1v-1.6v-1.2h.8h.7v-1.2h.8v-1.2h.9v-1.4h.7v-1.1h.7v-1.2h.7v-1.1h.9v-1.5h.9v-1.5h.8v-1.1h.8v-1.3h1v-1.6h.8v-1.4h.8v-1.2h.7v-1.2h.6v-1h.6v-1h.9v-1.4h.6v-1h.9v-1.4h.7v-1.1h.7v-1h.8v-.9h.8v-1h.8v-1v-1.4h1.2h.9v-.9h.8v-1v-1.3h1h1.1v-1.2h1.1v-1.3h.9v-1.1h1v-1.2h1v-1.2h.9v-1.2h1v-1.1h1.2v-1.4v-.9h.7h.9v-1.1h.8v-1h.8v-1h.8v-.9h1v-1.2v-1.4h1.2h.9v-1h.9v-1.2h1v-1.1h.9v-1.2v-1.4h1.2h.8v-1h1.3v-1.4h.9v-1h1.2v-1.2h.9v-.9h1v-1h1v-1h.9v-.8h1.3v-1.3h1.1v-1.2h1.4v-1.3h1.2v-1.2h1.2v-1.3v-1.1h1.1v-1h1h1.1v-1.1v-.8h.9h1.2v-1.1h1v-.8h1.4v-1.2h1.5v-1.1h1.1v-.9h1v-.8h1v-.7h1v-.8h1.3v-.9v-1h1.5h1.3v-.7h1.5v-.9h1.1v-.7h1.6v-.9h1v-.5h1.3v-.7h1.5v-.9h1.5v-.8v-1h1.6v-.8h1.2h1.4v-.9v-.9h1.2v-.8h1.2v-.8h1.2h1.5v-1h.9v-.6h1.3v-.9h.9v-.6h1.4v-.9h1.4v-.8h1.1v-.6h1.2v-.6h1.4v-.7h1.2v-.5h1.2v-.6h1.2v-.6h1.2v-.6h1.4v-.7v-.8h1.5h1.2v-.6v-.7h1.5h1.4v-.7h1.6v-.8h1.3v-.7v-.6h1.3h1.6v-.8v-.8h1.5h1.6v-.8h1.4v-.6h1.4v-.6v-.5h1.3h1.4v-.4h1.8v-.6h1v-.3h1.2v-.3h1.3v-.4h1.7v-.4h1.1v-.3v-.3h1.2h1.5v-.5h1.6v-.4v-.4h1.1h1.1v-.3h1.7v-.5h1.7v-.5h1.8v-.4h1.1v-.3v-.5h1.6v-.3h1.2h1.7v-.4h1.3v-.4h1.8v-.4h1.4v-.5h1.2v-.3h1.2v-.3h1.6v-.5h1.1v-.3h1.5v-.5h.7v-.2" fill="none" stroke="#c24c37" stroke-width="1.0" stroke-linejoin="round" stroke-linecap="round"/>
<path d="M65.5 396.5v-1.4h.1v-1.5v-1.6h.1h.1v-1.5v-1.4h.1v-1.2h.1v-1.2h.1v-1.5h.1v-1.8h.1v-1.3h.2v-1.6h.1v-1.8v-1.1h.1h.2v-1.7v-1.2h.1h.2v-1.6h.2v-1.2v-1.7h.2h.3v-1.7h.2v-1.5h.3v-1.8h.3v-1.6h.3v-1.7h.3v-1.5h.3v-1.7h.2v-1.5h.3v-1.5v-1.7h.2h.3v-1.7h.3v-1.5h.3v-1.8h.2v-1.3h.3v-1.6h.3v-1.6h.2v-1.4h.4v-1.7h.3v-1.4h.4v-1.9h.4v-1.5v-1.6h.5h.4v-1.8h.4v-1.5h.4v-1.3h.4v-1.9h.3v-1.1v-1.1h.3h.3v-1.5h.4v-1.8h.3v-1.1h.3v-1.4h.5v-1.7h.4v-1.6h.4v-1.4h.5v-1.5h.4v-1.1h.4v-1.1h.6v-1.3h.6v-1.4h.5v-1.2h.6v-1.4h.5v-1.3h.6v-1.4h.6v-1.7v-1.5h.6h.5v-1.2v-1.1h.4h.6v-1.6h.6v-1.4h.5v-1.1h.5v-1.3h.7v-1.4h.4v-1h.6v-1.1h.6v-1.3h.8v-1.6h.9v-1.7h.8v-1.4h.8v-1.3v-1h.7h1v-1.6h1.1v-1.5h.9v-1.1h.7v-1v-1.4h1.2v-.9h.8v-1.4h1.1h1.1v-1.2h1v-1.1h1.3v-1.3v-1.1h1h1.3v-1.2h.9v-.9h1v-.9v-1.2h1.3v-1.1h1.3h1.1v-.8v-1h1.2h1.5v-1.1h1.2v-.9h1.3v-.9h.9v-.6h1.2v-.7h1.1v-.8h1.3v-.7h1v-.7v-.7h1.1h1v-.6h1.1v-.7h1.2v-.6h1.2v-.7h1.3v-.6h1.3v-.7h1.5v-.7h1.7v-.7h1.5v-.6h1.5v-.6h1.6v-.6h1.4v-.5h1.3v-.4v-.4h1.6v-.3h1.6h1.3v-.3h1.7v-.4h1.4v-.4h1.5v-.4h1.5v-.5h1.3v-.4h1.2v-.4h1.4v-.4h1.1v-.3h1.7v-.5h1.8v-.4h1.7v-.3h1.5v-.3h1.6v-.2h1.8v-.2h1.2v-.1h1.2v-.2h1.3v-.1h1.2v-.2h1.8v-.2h1.2v-.2h1.8v-.2h1.3v-.1h1.4v-.2h1.6v-.2v-.1h1.5h1.5v-.2h1.4v-.1h1.3v-.1h1.9v-.2h1.7v-.1h1.4v-.1h1.3v-.1h1.8v-.1h1.8v-.1h1.1h1.9v-.1h1.6v-.1h1.7v-.1h1.4v-.1h1.7h1.6v-.1h1.6h1.6h1.6v-.1h1.7h1.8v-.1h1.1h1.3h1.7h1.5v-.1h1.8h1.4v-.1h1.1h1.7h1.2h1.5h1.2v-.1h1.3h1.8h1.2h1.5h1.5h1.7h1.7h1.4h1.8h1.7h1.5h.8" fill="none" stroke="#5280d2" stroke-width="1.0" stroke-linejoin="round" stroke-linecap="round"/>
<path d="M65.5 396.5h.1v-1.2h.1v-1.4h.1v-1.3h.1v-1.6h.1v-1.3h.1v-1.8v-1.5h.2h.2v-1.7h.1v-1.6h.2v-1.9h.1v-1.1v-1.3h.2h.1v-1.5h.2v-1.4h.2v-1.5h.2v-1.2h.3v-1.6v-1.8h.3h.2v-1.3v-1.4h.3h.3v-1.3h.4v-1.8h.3v-1.7h.3v-1.2h.3v-1.7h.4v-1.7h.3v-1.5h.2v-1.3v-1.8h.4h.2v-1.3h.3v-1.3h.2v-1.4h.4v-1.6h.2v-1.2h.4v-1.6h.3v-1.5h.3v-1.4v-1.4h.4v-1.2h.2h.5v-1.7h.3v-1.3v-1.6h.4v-1.3h.3v-1.2h.4h.4v-1.4h.4v-1.4h.4v-1.2h.5v-1.6h.5v-1.5h.6v-1.8h.6v-1.7h.6v-1.8h.5v-1.3h.6v-1.7h.6v-1.6h.6v-1.5v-1.1h.4v-1.1h.5h.5v-1.3v-1.1h.5h.7v-1.7h.6v-1.4h.5v-1.2h.7v-1.6h.7v-1.5h.6v-1.4v-1.7h.8h.5v-1.2h.8v-1.6h.7v-1.4h.5v-1.1v-1.3h.6v-1.1h.6v-1.4h.7h.5v-1h.8v-1.5h.9v-1.5v-1h.5h.7v-1.3h.7v-1.2h.7v-1.1h.8v-1.2h1v-1.6v-1h.7v-.9h.7v-1.2h.8h.9v-1.2h1v-1.4h.9v-1h1v-1.3h.9v-1.2h1v-1.2h1.1v-1.3h.9v-.9h1.1v-1.1h1.4v-1.3h.8v-.7v-.9h1v-1.1h1.3h1v-.8h1v-.8h.9v-.8v-.9h1.1h1.4v-1.1h1.4v-1h1.4v-1h1.5v-.9h1.2v-.7v-.6h1.2h1.6v-.9v-.7h1.5v-.6h1.2h1.7v-.7h1.4v-.6v-.4h1.1v-.7h1.7h1.5v-.7h1.2v-.5v-.5h1.2h1.6v-.6h1.7v-.4v-.4h1.5h1.8v-.3h1.6v-.4h1.5v-.4h1.8v-.6v-.4h1.3h1.5v-.4h1.6v-.4h1.6v-.3h1.8v-.4h1.1v-.2h1.5v-.3h1.7v-.3v-.2h1.6h1.2v-.2h1.6v-.2h1.4v-.2h1.3v-.2h1.6v-.2v-.1h1.2v-.2h1.4h1.2v-.1v-.1h1.6h1.3v-.2h1.8v-.1h1.7v-.1h1.1v-.1h1.8v-.1h1.8v-.2h1.8v-.1v-.1h1.6h1.2v-.1h1.5v-.1v-.1h1.8h1.4h1.8v-.1h1.3v-.1v-.1h1.8h1.5h1.4v-.1h1.3h1.4v-.1h1.8h1.8v-.1h1.7v-.1h1.7v-.1h1.2v-.1h1.7h1.3h1.4v-.1h1.4h1.4h1.1h1.2h1.3h1.9h1.6h1.6h1.3h1.8h1.6h1.7h1.3h1.4h1.8h1.8h1.9h1.2h.8" fill="none" stroke="#a0d43c" stroke-width="1.0" stroke-linejoin="round" stroke-linecap="round"/>
<path d="M65.5 396.5h.2v-1.5h.1v-1.7h.2v-1.9h.3v-1.8h.1v-1.6h.2v-1.7v-1.7h.3h.2v-1.8v-1.5h.1h.2v-1.6v-1.9h.3h.2v-1.3h.2v-1.5h.3v-1.4h.3v-1.7v-1.6h.3h.3v-1.3h.2v-1.2v-1.5h.4h.3v-1.3v-1.5h.3h.4v-1.6h.3v-1.6h.4v-1.7h.5v-1.7h.3v-1.2h.3v-1.4v-1.4h.3v-1.7h.5h.4v-1.7h.3v-1.1h.3v-1.2h.4v-1.6v-1.1h.3h.3v-1.2h.5v-1.8h.4v-1.4h.3v-1.3h.5v-1.7v-1.6h.5v-1.2h.4h.5v-1.7h.6v-1.7h.6v-1.7h.7v-1.7h.3v-1.1h.7v-1.7v-1.6h.6h.4v-1.1h.5v-1.2h.7v-1.6h.6v-1.7v-1.4h.6h.6v-1.5h.4v-1h.7v-1.7h.7v-1.8h.4v-1.1v-1.2h.5h.5v-1.3h.6v-1.5h.4v-1.1h.7v-1.7h.6v-1.4h.7v-1.7h.6v-1.2h.7v-1.5h.7v-1.4v-1h.6h.8v-1.6h.8v-1.6h.7v-1.2h.6v-1.2v-1.3h.8v-1.6h.9h.7v-1.2v-1.5h1h1v-1.5h.7v-1h.8v-1.2h.7v-1h1.1v-1.4h.9v-1.2h.7v-.9h1.1v-1.4h1.1v-1.3h1.1v-1.3h1.1v-1.3v-1h.9v-1.1h1.1v-1.4h1.3h.8v-.8h.8v-.8h1.1v-1.1h1.2v-1h1.1v-1h1.3v-1.1v-.7h1h1.5v-1.1h1.2v-.9h1.2v-.8h1.4v-.9h1.3v-.7h1.2v-.7v-.7h1.4h1.5v-.8h1.5v-.8h1.4v-.7h1v-.5h1.6v-.7h1.3v-.6v-.8h1.7h1.4v-.6h1.4v-.6h1.5v-.6h1.2v-.5h1.7v-.5h1.1v-.3h1.3v-.4h1.2v-.5h1.1v-.5v-.8h1.2v-.5h1.2h1.2v-.4v-.5h1.8h1.3v-.3h1.6v-.4h1.6v-.4h1.2v-.2h1.4v-.2h1.7v-.3v-.2h1.5v-.2h1.3v-.1h1.1h1.4v-.2v-.2h1.6h1.5v-.2h1.2v-.1v-.2h1.4h1.5v-.2h1.8v-.2v-.1h1.7h1.2v-.2v-.1h1.2h1.3v-.1v-.1h1.4h1.2v-.1h1.8v-.1v-.1h1.5h1.2v-.1h1.8v-.1h1.5v-.1h1.1h1.3v-.1h1.2v-.1v-.1h1.8v-.1h1.2h1.3v-.1h1.6v-.1h1.6h1.6v-.1h1.8v-.1h1.3v-.1h1.3v-.1h1.6h1.8v-.1h1.4h1.9v-.1h1.5v-.1h1.9v-.1h1.7h1.1h1.7h1.9v-.1h1.7h1.7h1.6h1.7h1.5h1.8h1.3h1.1h1.5h1.7h1.3h1.7h.7" fill="none" stroke="#a82c6c" stroke-width="1.0" stroke-linejoin="round" stroke-linecap="round"/>
<line x1="55.5" y1="411.5" x2="258.8" y2="227.5" stroke="#2a2a2a" stroke-width="1.05" stroke-dasharray="2.8 2"/>
<path d="M55.5 227.5 V411.5 H258.8" fill="none" stroke="#4d4d4d" stroke-width="1"/>
<line x1="64.5" y1="411.5" x2="64.5" y2="414.8" stroke="#4d4d4d" stroke-width="1"/>
<line x1="52.2" y1="403.5" x2="55.5" y2="403.5" stroke="#4d4d4d" stroke-width="1"/>
<text x="48" y="405.9" text-anchor="end" class="tk">0</text>
<text x="64.2" y="423.1" text-anchor="middle" class="tk">0</text>
<line x1="110.5" y1="411.5" x2="110.5" y2="414.8" stroke="#4d4d4d" stroke-width="1"/>
<line x1="52.2" y1="361.5" x2="55.5" y2="361.5" stroke="#4d4d4d" stroke-width="1"/>
<text x="48" y="363.97" text-anchor="end" class="tk">0.25</text>
<text x="110.58" y="423.1" text-anchor="middle" class="tk">0.25</text>
<line x1="156.5" y1="411.5" x2="156.5" y2="414.8" stroke="#4d4d4d" stroke-width="1"/>
<line x1="52.2" y1="319.5" x2="55.5" y2="319.5" stroke="#4d4d4d" stroke-width="1"/>
<text x="48" y="322.05" text-anchor="end" class="tk">0.50</text>
<text x="156.95" y="423.1" text-anchor="middle" class="tk">0.50</text>
<line x1="203.5" y1="411.5" x2="203.5" y2="414.8" stroke="#4d4d4d" stroke-width="1"/>
<line x1="52.2" y1="277.5" x2="55.5" y2="277.5" stroke="#4d4d4d" stroke-width="1"/>
<text x="48" y="280.12" text-anchor="end" class="tk">0.75</text>
<text x="203.32" y="423.1" text-anchor="middle" class="tk">0.75</text>
<line x1="249.5" y1="411.5" x2="249.5" y2="414.8" stroke="#4d4d4d" stroke-width="1"/>
<line x1="52.2" y1="235.5" x2="55.5" y2="235.5" stroke="#4d4d4d" stroke-width="1"/>
<text x="48" y="238.2" text-anchor="end" class="tk">1.00</text>
<text x="249.7" y="423.1" text-anchor="middle" class="tk">1.00</text>
<text x="156.95" y="436.2" text-anchor="middle" class="xl">1 – specificity</text>
<text x="60.5" y="238.1" class="pl">d</text>
<text x="122.6" y="245.1" text-anchor="middle" class="cl" fill="#a0d43c">GO: Sen</text>
<text x="75.7" y="283.9" text-anchor="middle" class="cl" fill="#5280d2">GO: SASP</text>
<text x="123.3" y="272.8" text-anchor="middle" class="cl" fill="#a82c6c">FBR</text>
<text x="165.1" y="261.1" text-anchor="middle" class="cl" fill="#c24c37">SenMayo</text>
<text x="173.5" y="290.6" text-anchor="middle" class="cl" fill="#dc78bc">Lung</text>
<text x="173.5" y="298.5" text-anchor="middle" class="cl" fill="#dc78bc">uninjured</text>
<text x="201.5" y="309.2" text-anchor="middle" class="cl" fill="#9fc394">Lung injured</text>
</g>
<g id="panel-e">
<path d="M278.1 399.9v-1.3h.9h.8v-1.2h.9v-1.3h.7v-1v-1h.8h1.1v-1.3h1v-1h1v-.9v-1.1h1.4h1.1v-.8h1.3v-1.1h1.2v-1h.9v-.7h1.1v-.9h1v-.9h1.3v-1h1.1v-.9h1.2v-1h1.4v-1.2h1.3v-1h1.5v-1.2h.9v-.8h.9v-.8h.9v-.8h.8v-.8h1v-1h1.3v-1.4h.9v-.9h.8v-.8h1.3v-1.2h1v-.9h1.4v-1h1v-.6h1.3v-.8v-.6h.9v-.7h1.1h1.3v-.9h1.4v-.9h1.6v-1v-.8h1.1h1.4v-.9h.9v-.6v-1h1.4h1.1v-.7h1v-.7h1.4v-.9h.9v-.6v-1h1.6h1.3v-.9h1.3v-.9v-.7h1.1v-.7h1h1.1v-.7v-.9h1.3h1.6v-1h1.4v-.9v-.7h1h1.5v-1.1h1.1v-.9h1.3v-1.1h.8v-.8h1.2v-1h1.4v-1.1h1.3v-1h1.1v-.8v-.6h1h1.2v-.9h1.4v-.8h1.5v-.9v-.8h1.5v-.7h1.4v-.8h1.6h1.1v-.5h1.4v-.3v-.1h1.6h1.4v-1.1h1.3v-1v-.9h1v-.8h.9h1.3v-1.2h.9v-.7h.9v-.8h1.4v-1.2h.9v-.7h1.3v-1v-.8h.9h.9v-.8v-.9h1.1h1.3v-1.2h1.1v-1h1.1v-.9h1.2v-.9h1.5v-1v-.9h1.6h1.1v-.5h1.6v-.7h1.1v-.5h1.6v-.9v-1h1.5h1.3v-.9h1.2v-.8h1v-.6h1v-.9v-1h1.4h.8v-.7h1.4v-1.1h.8v-.8h.9v-.7h1.3v-1.1h1.1v-.9h.9v-.8v-1.1h1.2h1.4v-1.1h1.1v-.9h1v-.8h1.6v-1.1h1.5v-.9h1.4v-.9h1.4v-.9v-.8h1h1.3v-1.2h.8v-.8h1.2v-1.2h.8v-.9h.9v-.9h1.1v-1.1h1.1v-1.1h.9v-1h1v-1v-1h1.1h1v-1h.9v-.9v-1h.9h1v-1h.7v-.8v-1.2h1.1h1v-1.2h1v-1.1h.8v-1.1h.8v-1v-1.1h.9h.8v-1.1h.7v-1h1v-1.5h.9v-1.4h.8v-1.3v-1.3h.7h.8v-1.3h.7v-1.2v-1.4h.8h.7v-1.3h.6v-1.1v-1.2h.7h.7v-1.2h.8v-1.4h.6v-1.1v-1.3h.8h.7v-1.4h.8v-1.3h.6v-1h.8v-1.5h.9v-1.4v-1.2h.6h.8v-1.4h.9v-1.6h.6v-1.2h.5v-1h.5v-1.1v-1.2h.6h.3v-.6" fill="none" stroke="#9fc394" stroke-width="1.0" stroke-linejoin="round" stroke-linecap="round"/>
<path d="M278.1 399.9h.9v-1.1h1.2v-1.5h1.2v-1.3h.7v-.8h1.2v-1.3h.9v-.8h.9v-.8h1.3v-1h1.3v-1h1.2v-1h1v-.9h.8v-.7v-1h1h1.3v-1.3h.7v-.7h1v-1h.9v-.9v-1h1h1.2v-1.2h.9v-.9v-1.3h1.2h1.2v-1.2h1.2v-1.1h1.2v-1.3v-1.3h1.3h1.3v-1.3h1v-1.1h1.3v-1.3h1.2v-1.1v-1.3h1.4h.8v-.7h1v-.8h1.4v-1.2h1.2v-1h1.2v-.9h1.5v-1.1h1v-.6v-.9h1.4v-.9h1.3h1.4v-1h1v-.7h1.3v-.9h.9v-.8h1.1v-.9h1.4v-1.2h1v-.9v-1.2h1.2h1.1v-1.2h.9v-1v-1.4h1.1h1.1v-1.3h.9v-1.1h.8v-.9h.8v-1.1h1.1v-1.5h.9v-1.3h1.1v-1.5v-.9h.7h.9v-1.2h1.1v-1.4h.8v-.9h.8v-.9v-.8h.8h.9v-.9h1.2v-1.1v-.9h.9h1v-.9h1v-1.1h1.3v-1.2h.8v-.8h1.1v-1.1h1v-1.1h1v-1h.8v-.8h1v-1h1v-1h.9v-1h1.2v-1.2v-1h1h1v-1v-.8h1.1h1.3v.6v-1.2h1.3v-1.2h1.1h1.2v-1.4h.9v-1.2h1.2v-1.4h.9v-1.1h1.1v-1.3v-1.3h1.2h1.2v-1.5h.9v-1h.7v-.8v-1.1h1h1v-1.3h1v-1.1v-1.3h1.1h1.1v-1.3v-1h.9h1.2v-1.4v-.9h.8v-1.1h.9v-1h.9h1.1v-1.4h.8v-1h1.3v-1.5v-1h.8h1v-1.1h1.1v-1.2v-.8h.8h.8v-.8h1v-1.1v-1.3h1.3h1.2v-1.1h1v-.9h.9v-.8h1.4v-1.2h1v-.8v-.8h1.1h1.3v-1.1h1.1v-1h1v-1.1h1.2v-1.4h1.1v-1.3h.8v-.9h1v-1.3h1.3v-1.5v-1.2h1.1h.8v-.8h1.1v-1.1h.8v-.9h1v-.9v-.9h.8v-1h1.2h1.3v-1.2h.9v-.8h1.1v-1.1v-1.1h1.4h.9v-.7h1.1v-.8h1.3v-.8h1.4v-.8h1.6v-.7h1.6v-.8h1.4v-.6h1v-.6h1.1v-.5h1.5v-.8h1.2v-.6h1.4v-.7h1.5v-.6h1.1v-.5h1.2v-.5h1.7v-.8v-.6h1.6h1.4v-.6h1.2v-.4v-.6h1.4h1.3v-.5h1.5v-.7h1v-.5v-.8h1.7h1.3v-.7h1.1v-.6h1.3v-.8h1v-.5" fill="none" stroke="#dc78bc" stroke-width="1.0" stroke-linejoin="round" stroke-linecap="round"/>
<path d="M278.1 401h.6v-.9h.9v-1.2v-1.5h1.1v-1.2h.9h.8v-1.1h.8v-1.1h1v-1.3h.9v-1.3h.9v-1.2h.9v-1.2h.9v-1.1h1v-1.3h.7v-1v-1.3h1.1h1v-1.3h1.2v-1.4h1.2v-1.3v-1.1h1h1v-1.2v-1.4h1.2h1v-1.2h1.1v-1.2h1.2v-1.4h1v-1.1h1.1v-1.3v-1.4h1.1h1v-1.3v-.9h.6h.9v-1.2h.7v-1h.7v-1h1.1v-1.5h1.1v-1.3h.8v-.9h1.2v-1.1h1v-.8h.9v-.8h1.3v-1h1v-.7h1v-.8h.9v-.8h1.4v-1.1h.8v-.7h1v-.8v-1h1.2h.8v-.7v-.8h.8h.9v-.8v-1.2h1.3h.8v-.8v-1.3h1.3h1.1v-1.2h.8v-.9h1.2v-1.2h.9v-1.1h.8v-.9h.7v-.9h.9v-1.1v-1h.9h.9v-1.1h1v-1.1v-.8h.8h1v-1.1v-1.3h1.4v-.9h.9h.8v-.8h.9v-.9h1.1v-1.1h1.3v-1.3h1.3v-1.3h1.3v-1.2h1.3v-1.4h1.2v-1.1h1v-1.1h1.2v-1.2h1.2v-1.3h1.3v-1.2h.9v-.9h.9v-.8h1.4v-1.3h1.3v-1.1h1.1v-.9h.9v-.7h1.4v-1.1h1.3v-1.1v-1.1h1h1.2v-1.5h.9v-1.2h.9v-1.4h.8v-1.1h.7v-.9h1.1v-1.5h.7v-.9h1.1v-1.2v-1.2h1h.9v-.9h1v-1h1.1v-1.1h.9v-.8h1.1v-1.1h.8v-.7h1.4v-1.2h1.1v-1v-.8h1h1.2v-1v-.9h1.2h1.1v-.8h.9v-.7h1.1v-.7h1.3v-.9h1.1v-.6h1.3v-.9h1.2v-.8h1.1v-.7h1.2v-.8h1.5v-.9h1.1v-.8h1.3v-.9h.9v-.8v-.9h1.1h1.4v-1.2v-.9h1.1h1.1v-1h1.4v-1h1.6v-1.1v-1h1.4h1.4v-.8h1.1v-.8h1.1v-.7h.9v-.6h1.3v-.9v-.7h1h1v-.6v-.9h1.3h1.2v-.8v-.7h1h1.1v-.7h1.5v-1v-.9h1.3h1.6v-1h1.5v-.9h1.6v-1h1v-.6h1.5v-.8h1.3v-.8h1.5v-.9h1.3v-.7h1.3v-.8h1.5v-.8h1.5v-.8v-.8h1.6h1v-.4h1.5v-.7h1.2v-.7h1.4v-.8v-.6h1v-1h1.5h1.1v-.8h1.2v-.8h1.4v-1.1h.9v-.7h1.3v-1h.9v-.7h1.4v-1.2h.9v-.8h.9v-.8v-.7h.9" fill="none" stroke="#c24c37" stroke-width="1.0" stroke-linejoin="round" stroke-linecap="round"/>
<path d="M276.5 396.5h.9v-1.5h.8v-1.5h.7v-1.4h.7v-1.6h.4v-1.1h.4v-1.4h.3v-1.5h.4v-1.7v-1.3h.2h.3v-1.8v-1.5h.3h.2v-1.5h.3v-1.2v-1.8h.3h.3v-1.2h.2v-1.4h.4v-1.9h.3v-1.3h.2v-1.4h.3v-1.2h.3v-1.3v-1.4h.4h.4v-1.5h.4v-1.5v-1.7h.4h.3v-1.2h.4v-1.4h.4v-1.6h.3v-1.3h.4v-1.5h.3v-1.5h.4v-1.8v-1.7h.4h.3v-1.1h.4v-1.6h.5v-1.6h.5v-1.8h.3v-1.1v-1.7h.5h.4v-1.2h.4v-1.2h.5v-1.7h.5v-1.7h.3v-1.1h.4v-1.1h.4v-1.6h.4v-1.5h.5v-1.8h.5v-1.5h.5v-1.4h.5v-1.6v-1.2h.5h.5v-1.4h.5v-1.3h.6v-1.5h.7v-1.6h.6v-1.4h.7v-1.7h.5v-1.1h.7v-1.6h.7v-1.7h.7v-1.5h.5v-1.3v-1.6h.8h.7v-1.6h.7v-1.4h.7v-1.5v-1h.5h.6v-1.4v-1.3h.7v-1.7h.9h.6v-1h.8v-1.3h.5v-1h.8v-1.2h.8v-1.4h1v-1.4h.9v-1.4v-1.1h.7v-1.5h1v-1.2h.9h.8v-1.1v-1.3h.9h.9v-1.2h.8v-1.2h1.1v-1.3h1v-1.2h.9v-1.2v-.8h.7v-1.3h1.1h.9v-1h1v-1v-1h1.1h1.2v-1v-1.1h1.4h.9v-.8h1.4v-1.1h1.4v-1.1h1v-.8v-.8h1.1h1.1v-.9v-.8h1.2h1.1v-.7h1.3v-.9h1.1v-.7h1.1v-.8h1v-.6h1.1v-.7h1.2v-.9h1.5v-1h1.5v-1h1.2v-.8h1v-.6h1.5v-.8h1.7v-.9v-.7h1.4h1.1v-.5h1.4v-.6h1.5v-.7h1v-.5h1.8v-.7h1.3v-.4h1.2v-.3h1.2v-.3h1.4v-.3h1.1v-.2h1.5v-.3h1.3v-.3v-.2h1.3h1.5v-.3h1.4v-.2v-.3h1.5h1.7v-.3h1.1v-.2h1.2v-.2h1.6v-.2h1.3v-.2h1.5v-.2h1.5v-.2h1.9v-.2h1.6v-.2h1.8v-.2h1.1v-.1v-.1h1.7v-.2h1.5h1.6v-.1h1.8v-.2h1.3v-.1h1.3v-.2h1.4v-.1v-.2h1.4h1.6v-.1h1.1v-.1h1.7v-.2v-.1h1.1h1.2v-.1h1.3v-.1h1.5v-.1h1.3v-.1v-.1h1.5h1.5v-.1h1.7v-.1h1.2v-.1h1.6v-.1h1.8v-.1h1.5h1.4v-.1h1.5h1.2h1.5v-.1h1.4h1.6h1.1h1.6v-.1h1.5h1.2h1.2h1.4h1.4v-.1h1.8h1.6h1.8h1.1v-.1h1.3h1.2h1.4h1.8h1.8v-.1h.2" fill="none" stroke="#a0d43c" stroke-width="1.0" stroke-linejoin="round" stroke-linecap="round"/>
<path d="M276.5 396.5v-1.9v-1.5v-1.5v-1.4v-1.1h.1v-1.5v-1.9h.1v-1.9v-1.7h.1v-1.1h.1h.1v-1.8h.1v-1.6h.2v-1.6h.1v-1.2h.2v-1.7h.2v-1.5h.2v-1.6h.2v-1.7h.1v-1.1h.2v-1.4h.2v-1.5h.2v-1.4v-1.8h.3h.2v-1.4h.2v-1.1h.2v-1.7v-1.6h.3v-1.3h.2h.2v-1.2h.2v-1.2v-1.2h.2h.2v-1.8h.3v-1.4h.2v-1.3h.2v-1.1h.3v-1.4v-1.3h.2v-1.5h.3v-1.5h.3h.3v-1.6h.4v-1.7h.3v-1.4h.3v-1.4h.3v-1h.2v-1.2h.3v-1.1h.4v-1.7h.4v-1.7v-1.4h.3h.3v-1.5v-1.6h.4v-1.3h.3h.4v-1.5h.3v-1.1h.5v-1.5h.3v-1.2h.5v-1.5h.4v-1.1h.4v-1.4h.6v-1.4h.5v-1.6h.5v-1.1v-1.7h.6h.8v-1.7h.4v-1h.7v-1.4v-1.3h.5h.6v-1.4h.7v-1.7h.5v-1.1h.5v-1.2h.7v-1.5v-1.1h.4h.8v-1.5h.5v-1.1h.6v-1.2h.5v-1h.7v-1.5h.7v-1.3h.5v-1h.7v-1.1v-1.4h.8v-1.5h1.1h1v-1.5h.7v-.9h1v-1.4h1.1v-1.4h1.2v-1.4h1.1v-1.3h.9v-1.1v-1h1.1h.9v-.9h1.2v-1.1h1.4v-1.1h.9v-.7v-1.1h1.5h1.5v-1.1v-.8h1.1h1.1v-.7v-.9h1.4v-.6h1v-.7h1h1.2v-.8h1.4v-.9h1.4v-1h1.5v-1h1v-.6v-1h1.5h1.6v-1h1.5v-.9v-.9h1.6h1.5v-.8h1.4v-.7h1.6v-.7h1v-.5h1.5v-.6h1.1v-.5v-.4h1.1h1.8v-.7h1.4v-.4h1.1v-.4h1.3v-.5h1.7v-.6h1.7v-.5h1.6v-.5v-.6h1.5h1.1v-.4h1.6v-.5h1v-.4h1.8v-.5h1.2v-.3h1.6v-.4h1.7v-.4h1.4v-.3h1.4v-.2h1.2v-.3h1.4v-.2h1.5v-.3v-.1h1.1v-.3h1.7v-.1h1.7h1.8v-.2v-.2h1.5v-.1h1.3h1.3v-.1v-.1h1.7h1.2h1.2v-.1h1.8v-.1h1.1h1.6v-.1h1.4h1.9v-.1h1.4h1.8v-.1h1.6v-.1h1.9v-.2h1.7v-.1h1.8v-.1h1.6v-.1v-.1h1.4h1.2h1.8v-.2h1.1h1.7v-.1h1.6v-.1h1.3v-.1h1.6v-.1h1.4h1.3v-.1h1.3h1.1h1.3h1.8h1.8h1.6v-.1h1.4h1.2h1.4h1.6h1.4h1.9h1.2v-.1h1.4h1.6h1.5h1.6h1.5h1.3h1.9h1.3v-.1h1.2h1.9h1.3" fill="none" stroke="#5280d2" stroke-width="1.0" stroke-linejoin="round" stroke-linecap="round"/>
<path d="M276.5 396.5h.2v-1.1h.4v-1.9v-1.2h.3h.3v-1.6h.4v-1.8v-1.7h.3h.3v-1.5v-1.9h.4h.2v-1.4h.3v-1.7h.3v-1.4h.2v-1.6h.2v-1.3v-1.3h.2h.3v-1.4h.2v-1.5v-1.5h.2h.2v-1.1v-1.4h.3h.2v-1.7h.3v-1.8v-1.6h.3h.2v-1.3h.2v-1.5h.4v-1.7h.3v-1.7h.3v-1.5h.4v-1.8h.3v-1.6v-1.7h.4h.3v-1.2h.3v-1.4v-1.6h.4h.2v-1.2h.4v-1.7h.3v-1.3h.3v-1.4h.3v-1.3h.4v-1.5h.3v-1.1h.3v-1.5h.4v-1.5h.5v-1.7h.5v-1.8h.4v-1.4h.4v-1.1v-1.8h.5h.5v-1.5h.5v-1.7h.4v-1.3h.4v-1.1h.3v-1.1h.6v-1.8v-1.4h.5v-1.1h.4v-1.4h.4h.6v-1.6v-1h.4h.4v-1.3v-1.3h.5h.6v-1.6h.5v-1.2h.5v-1.3h.6v-1.4h.5v-1.3h.5v-1h.4v-1.1h.5v-1h.5v-1.1h.5v-1.1h.7v-1.6v-1.2h.5h.8v-1.6h.5v-1h.6v-1.3h.7v-1.4h.8v-1.6h.8v-1.4v-1.4h.8h.6v-1.1h.7v-1.2h.6v-1v-1.1h.7h.9v-1.4v-1.5h1h.7v-1h.7v-.9h1.1v-1.5h.8v-1h1.1v-1.3h1.2v-1.3h1.3v-1.2v-.9h1.2h1.2v-.9h1.2v-.8h1.5v-1.1h1.5v-1h1.2v-1h1.3v-1h1.4v-1.1h1.5v-1.1h1.3v-1h1.5v-1h1v-.7h1.5v-1h.9v-.6h1.6v-.9h1.4v-.8h1.4v-.7h1.6v-.8h1.6v-.7h1.1v-.5h1.6v-.8h1.6v-.6h1.3v-.6h1.8v-.7h1.7v-.6h1.4v-.5h1.3v-.4h1.8v-.6h1.1v-.3h1.2v-.5h1.8v-.5h1.5v-.5h1.9v-.4h1.7v-.3h1.8v-.3v-.2h1.4h1.3v-.2h1.6v-.2h1.8v-.3v-.2h1.4h1.5v-.3h1.8v-.3v-.2h1.2h1.6v-.2h1.6v-.3h1.3v-.2v-.2h1.4h1.8v-.2h1.2v-.1h1.7v-.1h1.1v-.1h1.3v-.1v-.1h1.8h1.2v-.1h1.7v-.1h1.4v-.2h1.2v-.1v-.2h1.5v-.2h1.4h1.5v-.2h1.7v-.2h1.5v-.2h1.8v-.2v-.1h1.3h1.3v-.2h1.2v-.1h1.1v-.1h1.6v-.1v-.2h1.2h1.8v-.1h1.6v-.2v-.1h1.6h1.7v-.1v-.1h1.6h1.2v-.1h1.7v-.1h1.2h1.2h1.5v-.1h1.3h1.2h1.5v-.1h1.9h1.2h1.6h1.6v-.1h1.7h1.3h1.4h1.1h1.9v-.1h1.6h1.3h1.7h1.9h1.5v-.1h.4" fill="none" stroke="#a82c6c" stroke-width="1.0" stroke-linejoin="round" stroke-linecap="round"/>
<line x1="266.6" y1="411.5" x2="469.9" y2="227.5" stroke="#2a2a2a" stroke-width="1.05" stroke-dasharray="2.8 2"/>
<path d="M266.6 227.5 V411.5 H469.9" fill="none" stroke="#4d4d4d" stroke-width="1"/>
<line x1="274.5" y1="411.5" x2="274.5" y2="414.8" stroke="#4d4d4d" stroke-width="1"/>
<line x1="263.3" y1="403.5" x2="266.6" y2="403.5" stroke="#4d4d4d" stroke-width="1"/>
<text x="274.9" y="423.1" text-anchor="middle" class="tk">0</text>
<line x1="321.5" y1="411.5" x2="321.5" y2="414.8" stroke="#4d4d4d" stroke-width="1"/>
<line x1="263.3" y1="361.5" x2="266.6" y2="361.5" stroke="#4d4d4d" stroke-width="1"/>
<text x="321.42" y="423.1" text-anchor="middle" class="tk">0.25</text>
<line x1="367.5" y1="411.5" x2="367.5" y2="414.8" stroke="#4d4d4d" stroke-width="1"/>
<line x1="263.3" y1="319.5" x2="266.6" y2="319.5" stroke="#4d4d4d" stroke-width="1"/>
<text x="367.95" y="423.1" text-anchor="middle" class="tk">0.50</text>
<line x1="414.5" y1="411.5" x2="414.5" y2="414.8" stroke="#4d4d4d" stroke-width="1"/>
<line x1="263.3" y1="277.5" x2="266.6" y2="277.5" stroke="#4d4d4d" stroke-width="1"/>
<text x="414.48" y="423.1" text-anchor="middle" class="tk">0.75</text>
<line x1="461.5" y1="411.5" x2="461.5" y2="414.8" stroke="#4d4d4d" stroke-width="1"/>
<line x1="263.3" y1="235.5" x2="266.6" y2="235.5" stroke="#4d4d4d" stroke-width="1"/>
<text x="461" y="423.1" text-anchor="middle" class="tk">1.00</text>
<text x="367.95" y="436.2" text-anchor="middle" class="xl">1 – specificity</text>
<text x="271.6" y="238.1" class="pl">e</text>
<text x="290.7" y="275" text-anchor="middle" class="cl" fill="#5280d2">GO: SASP</text>
<text x="321.3" y="303.6" text-anchor="middle" class="cl" fill="#a0d43c">GO: Sen</text>
<text x="363.8" y="291.8" text-anchor="middle" class="cl" fill="#c24c37">SenMayo</text>
<text x="374.9" y="252.2" text-anchor="middle" class="cl" fill="#a82c6c">FBR</text>
<text x="404" y="248.9" text-anchor="middle" class="cl" fill="#dc78bc">Lung</text>
<text x="404" y="256.8" text-anchor="middle" class="cl" fill="#dc78bc">uninjured</text>
<text x="386.8" y="340" text-anchor="middle" class="cl" fill="#9fc394">Lung injured</text>
</g>
<g id="panel-f">
<path d="M487.9 397.6h.8v-1h.7v-1.1h.7v-1v-1h.7h1v-1.4v-1.1h.7h.9v-1.3h1v-1.5v-1.2h.8h1v-1.5h1.1v-1.5h1v-1.3h.7v-.9h.9v-1.1h1.2v-1.4v-1.3h1.1h.7v-1h1.2v-1.5v-1.3h1.1v-1h.9v-.9h1v-1h1.1h.9v-.8h.9v-.7h1.3v-.9h.9v-.7h1.1v-.9v-.8h1h1.1v-.9h1v-.7h1.1v-.9h1v-.8h.9v-.7v-1.1h1.3v-.7h.9h1v-.8h1v-.8v-.9h1.1h1.4v-1.1h1v-.8h1.5v-1.2h1.4v-1.2h1v-.8h.9v-.8h1.1v-.9h1v-.7h1.3v-.9h1.1v-.7h1.4v-.9h1.2v-.7h1.3v-.6h1.1v-.5h1.8v-.7v-.6h1.6h1.5v-.7h1.4v-.8h1.4v-.9h1.3v-.8h1.1v-.7h1.1v-.6h1.3v-.8h1.1v-.6h1.5v-.9h1.2v-.9h1.2v-.9v-1h1.2h1.1v-.7v-.8h1.3h1.5v-.7h1.1v-.5h1.2v-.6h1v-.5h1.2v-.7h1.4v-.6h1v-.4h1.3v-.3v-.3h1.7h1.3v-.4h1.4v-.7h1.5v-.7h1.3v-.7h1.1v-.6h1.6v-.8h1.1v-.5h1.2v-.5h1.4v-.7h1.6v-.8h1.6v-1.1h1.1v-.8h1.2v-1h1.3v-1.2v-.8h1v-1.2h1.4h.9v-.8h1.1v-.9h1v-.8h1.1v-1h.9v-.7h1.3v-1.1h1.1v-.9h1.3v-1.1h.9v-.7h1.2v-1.1h1.3v-1.1v-.9h1.2h1v-.9h1.4v-1h1.3v-.9v-1h1.4v-1h1.4h1.3v-.8h1.1v-.8h1.4v-.9h1v-.7v-1h1.5h1.3v-.8h1v-.7h1.2v-.7h1.3v-.9v-.7h.9h1.5v-1.1v-.8h.9v-.9h1.1h1.3v-1.1h.8v-.8h.9v-.7h1.3v-1.3h1v-1h1.2v-1.3h.9v-1h1v-.9h1.3v-1.3h.9v-.8h1.2v-1v-1.1h1.3h1.4v-1.1h1.2v-1h1.2v-.9v-1h1.3h1.5v-1h1.1v-.9v-1.4h1.2h.9v-1.2v-1.2h.7v-1.5h.8h.7v-1.4v-1.7h.9v-1.6h.9h.7v-1.2h.7v-1.2h.8v-1.4h.7v-1.2h.5v-.9h.6v-1v-1h.6h.8v-1.5v-1.1h.6h.7v-1.2h.7v-1.2h.8v-1.4h.7v-1.2h.7v-1.2h1v-1.5v-1.3h.7h.8v-1.4h.9v-1.6h.6v-1.2h.8v-1.5h.6v-1.2" fill="none" stroke="#9fc394" stroke-width="1.0" stroke-linejoin="round" stroke-linecap="round"/>
<path d="M487.9 397.6h.7v-1.1v-1.2h.8h.8v-1.4h.7v-1.1h.9v-1.6h.5v-1h.6v-1.3v-1.4h.8h.7v-1.5h.8v-1.5h.5v-1.1v-1.4h.7h.6v-1.2h.5v-1h.6v-1.3h.7v-1.4h.6v-1.4h.6v-1.2h.7v-1.2h.6v-1.1h.8v-1.4h.8v-1.3h.8v-1.3v-1.6h1v-1.1h.7h1.1v-1.6h.7v-1h1v-1.2h1v-1.2h.9v-1h.9v-1.1h.9v-1v-1h.8h.8v-.9h1.1v-1.3h1v-1.2h.7v-.9h.8v-1h1.2v-1.3h.9v-1.2v-1h.9v-.9h.8h1.1v-1.4v-1.1h.9h.9v-1.1v-1.2h.8h.8v-1.1h.9v-1.3h.6v-.9h1.1v-1.5h.8v-1.1h.8v-.9h1.3v-1.3h1.2v-1.2h1.2v-1.1h1.3v-1.3v-.9h.8h1.1v-1.3h.8v-1h1v-1.3h1v-1.2h1.1v-1.3v-1.4h1.1h.7v-.8h.9v-1.1h1.2v-1.5h1.1v-1.2h1.3v-1.4h.8v-.9h1.3v-1.2h1.2v-1.2h1.1v-1.1h1.3v-1.3h.9v-.9h1.2v-1.2h1.1v-1.1v-.9h.9h1.3v-1.2h1v-.7h1.4v-.9h.9v-.7h.9v-.8h1v-1h1v-1.1h1v-1h.8v-.8h1.4v-1.1h1v-.8h1.3v-.9h1.4v-1h1.3v-.9v-.8h1.3h.9v-.7v-1h1.1h.9v-.9h1v-1h1v-1h1.3v-1.3h.9v-.9v-1.2h1.1h1.1v-1.1h1v-1.1h1.3v-1.3h.8v-.8h.8v-.8h1.4v-1.3h1.4v-1v-1h1.4h1.5v-.9h1.3v-.8h1.5v-1.1h.9v-.8v-1.3h1.3h1.1v-1.2h1v-1.1h1.3v-1.3v-1.1h1.2h1.2v-.9h1.1v-.8h1.3v-.8h1v-.7h1.2v-.7h1.3v-.7h1.6v-.9v-.8h1.6h1.2v-.5h1.4v-.7v-.7h1.6v-.6h1.2h1.3v-.5h1.2v-.6v-.6h1.5h1.5v-.6h1.3v-.5h1.7v-.6h1.3v-.6h1.2v-.5h1.3v-.6h1.6v-.8h1.6v-.9v-.7h1.5v-.5h1.3h1.1v-.5h1.8v-.6h1.3v-.4h1.4v-.4h1.6v-.4h1.6v-.5h1.6v-.3v-.5h1.8h1.5v-.5h1.2v-.5h1.7v-.7v-.6h1.4h1.1v-.5h1.5v-.5v-.6h1.5h1.6v-.5h1.6v-.6v-.6h1.5h1v-.4h1.2v-.6h1.2v-.5v-.8h1.5h1.7v-.8h1.5v-.9v-.7h1.3" fill="none" stroke="#c24c37" stroke-width="1.0" stroke-linejoin="round" stroke-linecap="round"/>
<path d="M487.9 397.6h.8v-1.5h.6v-1.1h.8v-1.6h.5v-1h.8v-1.5h.7v-1.4h.6v-1.3h.8v-1.5v-1.6h.8h.8v-1.6h.8v-1.7h.5v-1h.7v-1.5h.6v-1.2v-1.6h.8h.6v-1.3v-1.5h.8h.7v-1.3h.7v-1.2h.7v-1.3v-1.2h.7h.7v-1.2h.7v-1h.6v-1h.7v-1.1v-1.4h1h.8v-1.2h1v-1.5h1v-1.3h1.1v-1.5v-1h.6h.8v-1v-1.2h.9h.6v-.9h1v-1.4h1v-1.4h.9v-1.2h.9v-1.3v-1.3h.9v-1.4h1h.8v-1.1h.9v-1.3h1v-1.4h.8v-1.1h.9v-1.2h1v-1.3h.7v-.8h1v-1.3h1v-1.2h.8v-.9h1v-1.1h1.1v-1.4h.8v-1h1.1v-1.3h1.1v-1.4h1v-1.1h.9v-1h.9v-1h1v-1h1.3v-1.2v-.9h.9h1.2v-1.2h1v-1.1h.9v-1.1h1.1v-1.4h1v-1.3v-1h.9h.7v-.9h1.1v-1.1h.8v-.8h.9v-.8v-1.2h1.3v-1.4h1.2h1.1v-1.1v-1.1h.9h.9v-1v-1h.8h.9v-1.1v-1.3h1.1h1v-1.5h.9v-1.3h.6v-1h.7v-1.1v-1h.6h.8v-1h.9v-1.1h1.1v-1.1h1.3v-1.3v-1.3h1.4v-1.2h1.3h1.1v-1.2h1.3v-1.2h.9v-1.1h1.2v-1.4h1.1v-1.4h.7v-.9h1.2v-1.4h1.3v-1.2h1.1v-1h1v-.7h1.2v-1.1h1.3v-1h1.3v-.9h1.4v-1h1v-.7h1.3v-.8h1.1v-.7v-.8h1.1h1v-.6h1.6v-1.1h1.2v-.8h1.1v-.7h1.5v-1h.9v-.6v-.7h1v-.6h.9h1.6v-1.1h1.1v-.7h.9v-.6v-1h1.6h1.3v-.7h1.3v-.6h1.2v-.6h1.6v-.8v-.7h1.5v-.9h1.7h1v-.5h1.4v-.7h1.2v-.6h1.5v-.7h1.6v-.7h1.3v-.6h1.5v-.6h1.3v-.5h1.4v-.6h1.5v-.5h1.2v-.4h1.5v-.5v-.3h1.2h1.5v-.4v-.4h1.6h1.4v-.3h1.9v-.4v-.4h1.3v-.4h1.8h1.1v-.4v-.4h1.6h1.5v-.3h1.3v-.3h1.4v-.2v-.3h1.7h1.6v-.2h1.2v-.3v-.2h1.2h1.5v-.3v-.4h1.7h1.2v-.4h1.3v-.4h1.4v-.5h1.7v-.6h1.6v-.6h1.8v-.7h1.1v-.4h1.5v-.7h1.6v-.8h1.3v-.7v-.7h1.4h1.5v-.8v-.6h1" fill="none" stroke="#dc78bc" stroke-width="1.0" stroke-linejoin="round" stroke-linecap="round"/>
<path d="M487.9 397.6h.3v-1.4h.3v-1.8h.2v-1.4h.2v-1.5v-1.5h.3h.2v-1.5h.3v-1.4v-1.3h.2h.3v-1.2v-1.7h.3h.2v-1.1h.3v-1.2v-1.2h.2v-1.4h.3v-1.4h.3h.2v-1.2h.2v-1.2v-1.8h.4v-1.5h.3h.2v-1.2h.3v-1.2h.2v-1.5h.4v-1.7h.3v-1.6h.3v-1.8h.3v-1.1h.2v-1.2h.3v-1.3h.3v-1.2h.3v-1.2h.4v-1.5v-1.8h.5h.4v-1.4h.4v-1.3h.5v-1.8h.4v-1.3h.4v-1.5h.4v-1.6h.4v-1.7h.5v-1.5h.3v-1.1h.4v-1.6h.3v-1.3h.4v-1.3h.4v-1.6v-1.6h.5v-1.7h.5v-1.4h.4h.5v-1.7h.4v-1.4h.5v-1.4h.5v-1.7h.5v-1.4h.5v-1.5h.4v-1.2v-1.2h.5h.4v-1.1h.6v-1.6v-1.4h.6h.7v-1.5v-1.1h.6h.8v-1.5v-1.7h.8h.7v-1.4v-1.2h.5h.5v-1.3h.5v-1.2h.4v-1h.6v-1.6h.5v-1.4h.6v-1.4h.6v-1.6h.5v-1h.5v-1.1h.8v-1.7v-1.2h.6h.7v-1.4h.7v-1.2h.8v-1.4h.8v-1.2h1v-1.5h.7v-1h.8v-1h1.1v-1.5v-1.1h.8h.9v-1.2h1v-1.4v-1h.6h.7v-1h.8v-1.1h.7v-1v-1.1h.9h.9v-1.2h1.1v-1.3h.8v-.9h1.2v-1.4h.9v-.9h1v-1h.9v-.8h1v-.9v-.8h1.1h1.6v-1.2h1.1v-.8h1.3v-1.1h1.2v-.9h1.2v-1h1.3v-1h.9v-.6h1.2v-1h.9v-.6h1v-.6h1.2v-.7h.9v-.6h1.6v-.9h1v-.6h1.3v-.7h1.1v-.6h1.5v-.7h1.2v-.6h1v-.5h1.3v-.6h1v-.4h1.4v-.6h1.1v-.4h1.5v-.5h1.3v-.6h1.3v-.9h1v-1.1h1.5v-1h1.4v-.5h1.3v-.3h1.5v-.3h1.3v-.2h1.1v-.2h1.5v-.2h1.8v-.3h1.7v-.4v-.2h1.1h1.8v-.3h1.2v-.2h1.4v-.2h1.8v-.2h1.8v-.2h1.6v-.1h1.7v-.1v-.1h1.6h1.5v-.1h1.3v-.1v-.1h1.2h1.6v-.1h1.7v-.2h1.1v-.1v-.1h1.5h1.7v-.1h1.2h1.7v-.1h1.8v-.1h1.8v-.1h1.7v-.1h1.5h1.3v-.1h1.4h1.4h1.5h1.1h1.5h1.6v-.1h1.3h1.2h1.9h1.2h1.5h1.4h1.5h1.6h1.9h1.4h1.2v-.1h1.5h1.2h1.9h1.5h1.9h1.5h1.4h1.6h1.5h1.6h1.5h1.9h1.3v-.1h1.8h1.1h1.1h.2" fill="none" stroke="#a0d43c" stroke-width="1.0" stroke-linejoin="round" stroke-linecap="round"/>
<path d="M487.9 397.6v-1.6v-1.2v-1.2v-1.5v-1.7h.1v-1.3v-1.3v-1.7h.1v-1.6h.1v-1.6h.1v-1.1h.1v-1.2h.1v-1.7h.1v-1.3h.1v-1.2h.2v-1.3h.1v-1.3v-1.8h.2h.1v-1.6h.1v-1.2h.2v-1.2h.1v-1.6h.2v-1.9v-1.9h.3h.1v-1.4v-1.5h.2h.2v-1.6h.2v-1.4h.2v-1.7h.2v-1.7h.2v-1.2h.2v-1.8h.2v-1.4h.2v-1.5v-1.1h.2h.2v-1.7h.2v-1.3h.3v-1.6h.2v-1.1h.3v-1.7v-1.4h.3v-1.7h.3h.3v-1.4h.4v-1.7h.4v-1.8h.3v-1.5h.3v-1.2h.4v-1.7v-1.7h.4h.3v-1.3h.4v-1.7h.3v-1.3h.2v-1.1h.5v-1.7h.4v-1.7h.3v-1.1h.5v-1.6h.5v-1.5h.6v-1.8h.6v-1.8h.4v-1.1v-1.2h.4h.6v-1.4h.5v-1.3v-1.1h.5h.5v-1.1h.4v-1h.7v-1.5v-1.1h.5h.6v-1.7h.5v-1.3h.5v-1.3h.7v-1.6h.9v-1.5h.9v-1.2h1v-1h1.1v-1h1.3v-1.1h.9v-1.1h.9v-1.1h.8v-1.1h1.1v-1.4h1.1v-1.3v-1.1h.9v-1.1h.9h.9v-1.2h.9v-1h1v-1.2h1.1v-1.2h1.2v-1.3h1.2v-1.3h.9v-.8v-.8h.8h1v-1h.9v-.8h1.3v-1.2h1.2v-1v-1h1.2h.9v-.8h1.3v-1h.9v-.7v-1.1h1.2h1.2v-1h.9v-.9h1.4v-1.1h1.3v-1.1h1.5v-1v-.7h1.2h1.2v-.6h1.4v-.6v-.7h1.4h1.5v-.7h1.3v-.7h1.1v-.5h1.1v-.6h1.4v-.7v-.5h1.1v-.7h1.4h1.7v-.7h1.3v-.6h1.6v-.6h1.5v-.6h1.3v-.5h1.6v-.5h1.5v-.4h1.3v-.5h1.6v-.7h1v-.5h1.5v-.8v-.5h1.5v-.4h1.3h1.6v-.4h1.1v-.2h1.7v-.4h1.2v-.2h1.2v-.2h1.8v-.4h1.3v-.2h1.1v-.2v-.2h1.7v-.2h1.3h1.3v-.1h1.6v-.2h1.4v-.2h1.8v-.1v-.1h1.5h1.1v-.1v-.1h1.5h1.3h1.6v-.1h1.3v-.1h1.3v-.1h1.5h1.3v-.1h1.9v-.1h1.7v-.1h1.6v-.1h1.6v-.1h1.6v-.1h1.5v-.1h1.7h1.7v-.1h1.7v-.1h1.8v-.1h1.5h1.8h1.7v-.1h1.6h1.9h1.8h1.5h1.3h1.4h1.4h1.6v-.1h1.1h1.8h1.6h1.5h1.5h1.5h1.4h1.4h1.8h1.6h1.6h1.6h1.6h1.8h1.1v-.1h1.6h1.3h1.1h1.2h.5" fill="none" stroke="#5280d2" stroke-width="1.0" stroke-linejoin="round" stroke-linecap="round"/>
<path d="M487.9 397.6v-1.1h.2h.1v-1.2h.2v-1.7h.1v-1.5h.2v-1.5h.2v-1.4h.2v-1.9h.2v-1.6h.2v-1.2h.2v-1.2h.2v-1.2h.1v-1.1h.3v-1.8h.3v-1.5h.3v-1.6v-1.6h.2h.3v-1.4h.3v-1.8h.3v-1.8h.3v-1.5h.2v-1.1h.4v-1.6h.2v-1.3h.3v-1.7h.3v-1.4h.3v-1.2h.3v-1.1h.4v-1.8h.3v-1.4h.3v-1.4h.5v-1.7v-1.3h.3v-1.5h.4h.3v-1.1v-1.6h.4h.2v-1.1h.4v-1.4h.4v-1.5h.4v-1.7h.3v-1.2v-1.9h.4h.4v-1.3h.4v-1.6h.4v-1.6h.4v-1.8h.4v-1.4h.5v-1.7h.3v-1.1h.4v-1.2h.5v-1.7h.4v-1.4h.4v-1.2v-1.6h.5v-1.6h.6h.5v-1.5h.6v-1.8h.5v-1.1h.4v-1.1v-1.4h.6v-1.5h.6h.4v-1h.7v-1.7h.5v-1.2h.4v-1h.7v-1.6h.8v-1.6v-1.2h.6h.6v-1.3h.6v-1.2h.8v-1.5h.7v-1.4h.8v-1.4h.7v-1.3v-1.4h.7h.6v-1.1h.7v-1.2h.7v-1.2h1v-1.5h.6v-1h1.1v-1.5v-1.4h.9h.9v-1.1h.7v-1h.7v-1v-1h.7v-.9h.7h.8v-1.1v-1.2h.8h.9v-1.3h1.1v-1.5h.8v-1.1h1v-1.3h.7v-.9h1.1v-1.4h1.1v-1.3h1v-1.2h1.2v-1.3h1v-.9h.9v-.8h1.1v-1h1.3v-1h.9v-.7h1.4v-1h1.2v-.9h1.4v-1v-.7h1.2v-.9h1.4v-.6h1h1.1v-.8h1.1v-.8h.9v-.6h1.3v-.9h1.5v-.9v-1h1.5h1.6v-.9h1.5v-.8h1.5v-.7h1.4v-.6h1.1v-.5h1.4v-.4h1.2v-.4v-.4h1.1h1.5v-.4v-.7h1.6h1.1v-.7h1v-.6h1.1v-.6v-.4h1.4h1.2v-.3h1.5v-.3h1.5v-.3h1.2v-.2h1.7v-.3h1.6v-.3h1.5v-.3v-.3h1.5v-.2h1.3h1.8v-.3h1.2v-.2h1.4v-.2h1.8v-.2h1.2v-.1h1.8v-.1h1.8v-.1h1.1v-.1h1.2v-.1h1.8v-.1v-.1h1.1h1.5v-.1v-.1h1.2h1.1v-.1h1.5v-.1h1.3v-.1h1.8v-.1h1.2h1.3v-.1v-.1h1.3h1.2v-.1h1.8h1.3v-.1v-.1h1.7h1.2v-.1h1.7h1.6v-.1h1.4h1.9h1.7v-.1h1.4h1.2h1.3h1.7h1.2h1.6v-.1h1.7h1.8h1.9h1.8v-.1h1.3h1.4h1.9h1.5h1.8h1.2h1.4h1.4v-.1h1.3h1.6h1.6h1.3h1.6h1.7h1.7v-.1h1.4" fill="none" stroke="#a82c6c" stroke-width="1.0" stroke-linejoin="round" stroke-linecap="round"/>
<line x1="477.6" y1="411.5" x2="681" y2="227.5" stroke="#2a2a2a" stroke-width="1.05" stroke-dasharray="2.8 2"/>
<path d="M477.6 227.5 V411.5 H681" fill="none" stroke="#4d4d4d" stroke-width="1"/>
<line x1="485.5" y1="411.5" x2="485.5" y2="414.8" stroke="#4d4d4d" stroke-width="1"/>
<line x1="474.3" y1="403.5" x2="477.6" y2="403.5" stroke="#4d4d4d" stroke-width="1"/>
<text x="485.8" y="423.1" text-anchor="middle" class="tk">0</text>
<line x1="532.5" y1="411.5" x2="532.5" y2="414.8" stroke="#4d4d4d" stroke-width="1"/>
<line x1="474.3" y1="361.5" x2="477.6" y2="361.5" stroke="#4d4d4d" stroke-width="1"/>
<text x="532.42" y="423.1" text-anchor="middle" class="tk">0.25</text>
<line x1="579.5" y1="411.5" x2="579.5" y2="414.8" stroke="#4d4d4d" stroke-width="1"/>
<line x1="474.3" y1="319.5" x2="477.6" y2="319.5" stroke="#4d4d4d" stroke-width="1"/>
<text x="579.05" y="423.1" text-anchor="middle" class="tk">0.50</text>
<line x1="625.5" y1="411.5" x2="625.5" y2="414.8" stroke="#4d4d4d" stroke-width="1"/>
<line x1="474.3" y1="277.5" x2="477.6" y2="277.5" stroke="#4d4d4d" stroke-width="1"/>
<text x="625.67" y="423.1" text-anchor="middle" class="tk">0.75</text>
<line x1="672.5" y1="411.5" x2="672.5" y2="414.8" stroke="#4d4d4d" stroke-width="1"/>
<line x1="474.3" y1="235.5" x2="477.6" y2="235.5" stroke="#4d4d4d" stroke-width="1"/>
<text x="672.3" y="423.1" text-anchor="middle" class="tk">1.00</text>
<text x="579.05" y="436.2" text-anchor="middle" class="xl">1 – specificity</text>
<text x="482.6" y="238.1" class="pl">f</text>
<text x="502.8" y="277.9" text-anchor="middle" class="cl" fill="#5280d2">GO: SASP</text>
<text x="524.5" y="316.6" text-anchor="middle" class="cl" fill="#a0d43c">GO: Sen</text>
<text x="554.7" y="279" text-anchor="middle" class="cl" fill="#dc78bc">Lung</text>
<text x="554.7" y="286.9" text-anchor="middle" class="cl" fill="#dc78bc">uninjured</text>
<text x="580.2" y="305.8" text-anchor="middle" class="cl" fill="#c24c37">SenMayo</text>
<text x="584.4" y="250" text-anchor="middle" class="cl" fill="#a82c6c">FBR</text>
<text x="630.4" y="311" text-anchor="middle" class="cl" fill="#9fc394">Lung injured</text>
</g>
<g id="panel-g">
<path d="M41.7 618.6h1v-.7h1.4v-1.1h1v-.8v-.7h1.1h1v-.6v-.6h1.2v-.6h1.1v-.5h1.2v-.5h1h1.2v-.6h1.1v-.6h1v-.5h1.4v-.9h1.4v-1h1.2v-.8v-.7h1.1h1.5v-1.1h.8v-.7h1v-.8h.9v-.8v-1.3h1.4h1.2v-1h1.5v-1.1v-.9h1.2h1.2v-.8h1.2v-.8v-.7h1.1h1.3v-.8h1.5v-1.1h1.2v-.9h1.3v-1.1h1.4v-1.1h1.3v-1.1h.9v-.8h1v-1h.9v-.8h1v-1h1.2v-1.2h.8v-.9h1.2v-1.3h1.1v-1v-.8h.9h1.4v-1.1h1.4v-1h1.5v-.9h1.3v-.9h1.6v-1h1.2v-.7h1.4v-.9v-1h1.6h1.5v-1.1h1.5v-1h1.2v-.9v-.9h1h1.2v-1h1.4v-1.2h1.1v-.9h1v-.9h1.1v-.9h.9v-.7h1.2v-1.1h1.4v-1.1h.9v-.7h1.3v-1.2h1v-.8h1.4v-1.2v-.7h1h1v-.9h.9v-.7h1.3v-1.2h1v-.8h1.4v-1.2h1.3v-1h.9v-.7h1.3v-1.1h.9v-.7h.9v-.8h1.3v-1.1h1.3v-1.3v-1.1h1.1v-.9h.9v-.8h.8h1.1v-1.2h1v-.9h.8v-.9h1.1v-1.1h1.1v-1.1h.8v-.8h.9v-.9h1v-.9v-1.2h1.1h1.4v-1.3v-1.2h1.1h.8v-.8h1.2v-1.1h1v-1h.9v-.9h1.3v-1.4h.9v-.9h1.2v-1.3h.9v-1.1h1v-1.2h1v-1.2h1.1v-1.3h1.2v-1.3h.8v-1h1.2v-1.4v-1h.8v-.8h.8h.9v-1.1h1.2v-1.4h1.1v-1.4v-1.2h1.1h1.2v-1.3h.7v-.9v-.9h.8h1.3v-1.4h1.1v-1.3h1.2v-1.4v-1.5h1.1h.9v-1.1h1v-1.3h.7v-1h.7v-.9h1.1v-1.5v-1.3h.9h.7v-.9h.7v-1h.7v-1h1.1v-1.4v-.4h.2" fill="none" stroke="#5db5ee" stroke-width="1.0" stroke-linejoin="round" stroke-linecap="round"/>
<path d="M41.7 618.6v-.9h.8h.8v-1.1h.8v-.9h1.1v-1.3h.8v-1h1.2v-1.3h1.1v-1.2h1.1v-1.1h1v-1h.9v-.8h1v-1h.9v-.9h1.2v-1.1h1.3v-1.2h1.5v-1.2h1.4v-1.2h1.4v-1h.9v-.8h1.4v-1.2v-.7h.8h.9v-.8v-.9h1h1.2v-1h1v-.8v-1h1.3h1.3v-.7h1.6v-.8h1.5v-.6h1.3v-.6h1.4v-.8h1.4v-1h.9v-.7h.9v-.7h1.5v-1.2h1.2v-1.2v-1.1h1.3h1v-1h1.1v-1.1h.9v-.9h1v-1.1h.9v-.9v-1.3h1.3h1.3v-1.2h1.2v-1.1h1.4v-1.2v-.9h1.2v-1h1.2h1v-.8h.9v-.7h1.2v-1h1.2v-1.1v-1.2h1.3h.9v-.7h1v-.8h1v-.8h1.2v-.9h1.2v-.9h1.2v-.8h1.3v-.9h1.1v-.7v-.6h1h1.4v-.9h1v-.7h1.5v-.9h1.3v-.8h1v-.7v-.7h1h1.3v-.9h1.1v-1h1.3v-1h1.4v-1.2h1.2v-1.1h1.2v-1h1.4v-1h.9v-.7h1v-.6h1.1v-.7h1.4v-.9h1.5v-1h1.4v-1h1.4v-1.1h1v-.9v-.7h.9h1.1v-.9v-1.2h1.3h1v-.9h1.3v-1.2h1.2v-1.1h.8v-.9h1.3v-1.3v-1.3h1.3h.8v-.9v-1.2h1.2h1v-1h1.2v-1.2h.8v-.8h1.2v-1.2h.9v-.9h.9v-.9h1.1v-1.1h1v-1h1v-1v-1.3h1.3v-.9h.9v-1.2h1.2h.9v-.9h1v-1h1v-1h.8v-.8h1.1v-1h.9v-.9h1v-1h.8v-.9h1.3v-1.3h.9v-1h1.1v-1.2h.8v-1h1.1v-1.3h1v-1.2h1.1v-1.4h1.2v-1.4h.8v-1h1.1v-1.3h1.2v-1.5v-1.4h1.2h1v-1.2v-.9h.8h.8v-1h1v-1.2h.6v-.9" fill="none" stroke="#5e5e5e" stroke-width="1.0" stroke-linejoin="round" stroke-linecap="round"/>
<path d="M41.7 618.6h1.4v-.4h1.2v-.3h1.2v-.4h1.7v-.5h1.5v-.7h1.2v-.5h1.5v-.9h1v-.7h1v-.7h1.3v-.9h1.3v-1h1.1v-.7v-.9h1.3h1.1v-.7h1.2v-.8h1.1v-.7h1.4v-1h1.6v-1h.9v-.6h1.1v-.7h1.2v-.8v-.6h1v-1h1.3h1v-.8h.8v-.7h1.3v-1.3h1.3v-1.3h1.3v-1.3h1v-1.1h.8v-.8h1v-1h1.2v-1.2h.8v-.8h1.3v-1.3h.9v-.9h1.3v-1.3v-1.3h1.3h.9v-.9h.9v-.9h1.3v-1.3h1.1v-1.2h1.3v-1.2h.9v-.9h1.3v-1.3h1.3v-1.4h1.1v-1.1h1.3v-1.3h.8v-.8h1.2v-1.1h1.2v-1.1h1.2v-1.1h.9v-.7h1.1v-.9h1.5v-1.2h1.1v-.9h1v-.9h.8v-.8h1.3v-1.3v-.9h1h1v-1.1h1.1v-1.1h.9v-.8v-1.4h1.3h.9v-1h1.3v-1.2h.8v-.8h1.1v-1.1h1v-1h1.2v-1.2h1.2v-1.2h1.2v-1.2h1.1v-1.1h1.3v-1.3h.9v-.9v-1h1h1v-1v-1.2h1.2h.9v-.9v-.9h.9h1v-1v-1.2h1.3h.9v-.9h1v-1.1v-1.2h1.1h1.2v-1.3v-1h.8v-1.1h1h.7v-.9v-.8h.7h.9v-1h1.1v-1.4h1.1v-1.3h1v-1.2h1.1v-1.3h.8v-.9h1.1v-1.3v-1h.8h1.2v-1.3h1.2v-1.3h1v-1h1.3v-1.3h1.4v-1.4h1.2v-1.1h1.1v-1.2h1.3v-1.2h1.3v-1.3h1v-1v-1.2h1.2h1v-1h1.1v-1.1h.8v-.8v-1h1h1v-1.1v-.9h.8h1.2v-1.2h.8v-.8h1.3v-1.2h1v-.9v-.8h1v-.8h1.2h1.1v-.7h1.3v-.8h1v-.6h1.1v-.8h1.6v-1.1h1.5v-1.1v-.7h.9h1.4v-1v-1.1h1.4v-.1h.1" fill="none" stroke="#f0a230" stroke-width="1.0" stroke-linejoin="round" stroke-linecap="round"/>
<path d="M41.7 618.6v.5h1.9h1.3v.4h1.2v.2h1.2v.3h1.2v.1h1.5h1.1v-.1h1.1v-.2h1.6v-.5h1.4v-.4h1.7v-.5v-.4h1.4h1.3v-.5h1v-.3v-.6h1.6h1.2v-.4h1.7v-.5h1.4v-.4v-.5h1.8v-.4h1.3h1.1v-.6h1.4v-.9h1.2v-1h1.3v-1.1h1.2v-1.1v-1.3h1.4v-1.1h1.5h1.4v-.9v-.8h1.2h1v-.6v-.8h1.3h1.5v-1.1v-1.1h1.3h1.3v-1.2h1v-1h.8v-.9v-.8h.9v-1.1h.9h1.1v-1.2h.9v-.9h.8v-.9v-1.3h1.1v-.9h.8h.8v-1h.8v-1v-1.2h1.1h1.2v-1.4h1.2v-1.4h.9v-1.1h1v-1.2h1.2v-1.4h.8v-.9h.9v-1h1v-1.2h.9v-1.1h.9v-1.1v-1.1h1h1v-1.2h.7v-.9h1.1v-1.3h1.1v-1.2h.9v-.9h1.1v-1.3h1.3v-1.3h1.1v-1.1h1.2v-1.1h1v-.9h1.3v-1.3v-1.3h1.2h1.2v-1.1h.9v-.9v-.8h.8h1.2v-1.2h1.1v-1.2h.8v-.8h.9v-1h1.1v-1.2h1.1v-1.4h.9v-1h1.2v-1.4h.8v-1h1.2v-1.3h.7v-.8h1.1v-1.2h.9v-.8h1.2v-1.2h.9v-.9h1.1v-1.1h.9v-.9h.8v-.7h.9v-1h1.3v-1.2h1.4v-1.4v-1h1h1.2v-1.2h1.1v-1.2h1v-1h.7v-.9h.9v-1h.9v-1.1v-1.1h.9h1.1v-1.4h.8v-.9h1.1v-1.1h.9v-1.1h1.4v-1.3h.8v-.8h1.2v-1.1v-1.1h1.1h.9v-1v-1.3h1.3h1.1v-1.2v-1.2h1h.8v-.9v-1.1h.9h.9v-1v-1.2h1h.7v-.9h1.1v-1.3v-1.5h1.1v-1.4h1.1h.7v-1h.9v-1.2h.8v-1v-1.1h.8h.9v-1.3h.9v-1.3h1v-1.5h.9v-1.3v-1.2h.8h.7v-1.1h.9v-1.2v-1.5h.9v-.8h.5" fill="none" stroke="#257dc0" stroke-width="1.0" stroke-linejoin="round" stroke-linecap="round"/>
<path d="M41.7 618.6h.9v-.8h1.3v-1.2h1v-1h1.3v-1.2h1v-1.1v-.8h.9h.8v-.8h1.2v-1.1h1.3v-1.2h.9v-1h.9v-1h1.1v-1.2v-1.3h1h1v-1.4h.8v-1.1h.9v-1.3h1v-1.5h1v-1.4h1v-1.4h.9v-1.2v-1.1h.7h.7v-.9v-1.3h.9h1.1v-1.5h.6v-.9h1.1v-1.5h.6v-.9v-1.4h1h.9v-1.3h1.1v-1.5h.7v-1h.9v-1.2h1.1v-1.4v-.9h.8h1.2v-1.4h1.2v-1.4v-1h.8h1v-1.3h.8v-.9h1v-1.2v-1h.8h1.1v-1.3v-1.3h1h1.1v-1.1h.7v-.9h1.2v-1.1h1.3v-1.4v-1.1h1.2h.9v-.9h1.1v-1.1h1v-1h.8v-.8v-.9h1h.9v-1h1.3v-1.2h1.1v-1.1v-1.1h1h1.1v-1.1h.9v-.9h.8v-.8h1v-1h1.1v-1h1.2v-1.3h1v-1v-1.1h1.1h1v-1h.8v-.8h1.1v-1.1h.8v-.8v-1h1v-.8h.7h1.1v-1.1h.9v-.8h1v-1v-1h1.2h1.2v-.9v-1h1.3h1.2v-1h1.1v-.9h.8v-.7h.8v-.8h1.2v-1.2h.8v-.9h.8v-.8h.9v-.9h1.2v-1.2h1.2v-1.1h1.1v-1.2h1.3v-1.2h1.3v-1.4h.9v-.9h1.1v-1.1h1.2v-1.2v-1.3h1.2h1.2v-1.2h1.2v-1h.9v-.8h1.1v-1h1.2v-1v-.7h.9h.9v-.7h1v-.7h1v-.7h1.5v-.9v-.8h1.4v-.7h1.3h1.4v-.8h1.6v-.9h1.3v-.6h1.3v-.7h1.1v-.5h1.1v-.6h1.3v-.6h1.3v-.6h1.4v-.6h1v-.6h1.2v-.7h1.2v-.7h1.3v-.8h1.3v-.9h1.2v-.6v-.7h1.6h1.3v-.6h1.8v-.6v-.4h1.1h1.4v-.5h1.1v-.3h1.5v-.5h1.5v-.5h1.3v-.4h1.5v-.5v-.4h1.3h1.3v-.4v-.2h.5" fill="none" stroke="#4cc8c4" stroke-width="1.0" stroke-linejoin="round" stroke-linecap="round"/>
<path d="M41.7 618.6h1.1v-1.2h1v-1.2h1v-1.2v-1h.9h.9v-1.2h1v-1.3h.8v-.9h1.1v-1.5v-1.4h1.1v-1.2h.9v-1.2h.8v-1.3h.9h.8v-1h.9v-1.3h.8v-1.3h.8v-1.3h.8v-1.2h.7v-1.2h.6v-1v-1.3h.8h.9v-1.5h.9v-1.5v-1.1h.7h.8v-1.3h.8v-1.3h1v-1.6h1v-1.6v-1.5h1h.7v-1h.9v-1.3h.9v-1.2v-1.4h1h.7v-.9h.6v-.9v-1.3h.9h.9v-1.1v-1.2h.8h.7v-.9h.8v-1.2h1.1v-1.4h.9v-1.3h.7v-1h.7v-1.1h.8v-1.4h.9v-1.5v-1h.7h.8v-1.4h.9v-1.5h1v-1.5v-1.5h1.1h1.1v-1.4h1v-1.2h1.2v-1.4h1v-1.1h1v-1.1h.9v-1.2h.8v-1h.8v-.9h.9v-1.1h1v-1.2h1v-1.1h.8v-.9h1.1v-1.2v-.8h.8v-1.3h1.4v-1.2h1.2h.9v-.9h.9v-1h.9v-1.1h.8v-.9h.9v-1.2h1v-1.2h1v-1.2h1v-1.1v-1.1h.9h.9v-.8h.9v-1h1.1v-1.1h.9v-.8h.9v-.9h1.1v-.9h1.4v-1.2v-1.1h1.3h1v-.8h1.5v-1h1.4v-1h1.4v-.8h1.4v-.8h1.5v-.8h1.4v-1h1.1v-.7v-.7h.9v-.8h1.1h1v-.6h1.3v-.8h1.1v-.6h1.1v-.6h1.1v-.6h1v-.5v-.7h1.6h1.1v-.6h1.6v-.9h1.7v-.9v-.7h1.4h1.5v-.7h1.4v-.7v-.8h1.7h1.6v-.7h1.1v-.6h1.6v-.8h1.7v-.8v-.6h1.2h1.8v-.7h1.6v-.7h1.2v-.4h1.2v-.5v-.6h1.7h1.7v-.5v-.4h1.3h1v-.3h1.3v-.4v-.5h1.2h1.6v-.5v-.5h1.7h1.3v-.4v-.4h1.5h1.8v-.5h1.6v-.4v-.4h1.7h1.3v-.3h1.4v-.4h1.5v-.3h.1v-.1" fill="none" stroke="#18a981" stroke-width="1.0" stroke-linejoin="round" stroke-linecap="round"/>
<path d="M41.7 618.6h.7v-1.1v-1.3h.6h.6v-1.1v-1.1h.6v-1.2h.7h.6v-1.3h.7v-1.2h.8v-1.6h.8v-1.7v-1h.5h.8v-1.6h.5v-1.1h.8v-1.5h.6v-1.1h.6v-1.2h.9v-1.6h.9v-1.6h.8v-1.4h.7v-1.4h.6v-1h.9v-1.5h.6v-1.1h.6v-1h.9v-1.5h.7v-1v-1.4h.9h.8v-1.2v-1.5h.9v-1.1h.7h1v-1.6h.6v-1h1v-1.6v-1.6h.9h.6v-.9h.9v-1.4h.9v-1.4v-1.3h.9h1v-1.4h.8v-1.2v-.9h.7h.7v-1h.7v-1v-1.5h1.1h1.1v-1.4h1v-1.2h.8v-1h1.1v-1.3h1v-1.2v-1.2h1.1h.8v-.9h.9v-1v-1.1h1.2h.8v-.9h.9v-.9h.9v-.8h.9v-.8h1.4v-1.1h1v-.8h.9v-.7h1.4v-1.1h1v-.9h1.1v-1.2h1v-1.1h1v-1.3h1.1v-1.4h1.1v-1.3h.9v-1h.9v-1h1.1v-1.1h.8v-.8h.9v-.9h.9v-.8h.8v-.9h1.2v-1.2h1.4v-1.3h1.3v-1.3h.9v-.9h1v-1h1.3v-1.4h1v-.9h1v-1.1h1v-1h1.2v-1.2v-.8h.8h1.3v-1.2h1.1v-.9h.9v-.7v-.9h1.2v-1h1.3h1.2v-.9v-.7h1v-.9h1.3v-.9h1.3h1.4v-.9h1v-.7h1.2v-.7h.9v-.6h1.4v-1h1.1v-.6h1v-.6h1.5v-.9h1.6v-.9h1.3v-.8h1.2v-.6h1.2v-.6h1.2v-.6v-.6h1.3h1.3v-.6h1.4v-.7h1.2v-.5h1.2v-.5h1.1v-.5h1.1v-.5h1.2v-.5h1.6v-.7h1.7v-.6v-.6h1.7v-.4h1.1h1.4v-.4h1.4v-.4h1.7v-.6h1.2v-.4h1.8v-.6h1.1v-.3h1.5v-.5h1.1v-.4h1.7v-.4h1.7v-.4v-.3h1.5h1.3v-.2h1.4v-.2h1.8v-.3h1.8v-.3h1.9v-.2h1.2v-.1h1.4v-.2h.2v-.1" fill="none" stroke="#ad52c2" stroke-width="1.0" stroke-linejoin="round" stroke-linecap="round"/>
<path d="M41.7 618.6h.4v-1.5h.3v-1.2h.4v-1.4v-1.8h.5h.4v-1.5h.6v-1.7h.4v-1.4h.6v-1.4h.6v-1.7h.6v-1.5h.6v-1.4h.4v-1.1h.6v-1.3h.5v-1.2h.6v-1.5h.5v-1.1h.6v-1.6h.5v-1.2v-1.5h.6h.6v-1.3h.6v-1.2h.5v-1.2h.8v-1.6v-1.2h.7h.8v-1.4v-1.5h.9v-1.6h1v-1.5h1h.7v-1h.7v-1.1h.9v-1.4h.7v-1.2v-1.1h.7v-1.6h1h.9v-1.4v-.9h.6v-1.4h.8v-1.6h1v-1.5h.9h.9v-1.4h.8v-1.2h.6v-1.1h1v-1.6h.9v-1.4h.7v-1.1h.9v-1.2h.9v-1.4h.8v-1.1h.7v-1.1v-1h.8h1v-1.3v-1h.7h.8v-1h.9v-1.1h1v-1.3h1.1v-1.5h.9v-.9h.8v-.9v-1.2h1.1h1.4v-1.1v-1.1h1.3h.9v-.6h1.2v-.9h.9v-.8h1.1v-1h.9v-.9h1.1v-1.2h1.2v-1.2h.8v-.8h1.2v-1.2h1v-.9h1.2v-1h.8v-.8h1.4v-1.2h1v-.8v-.8h.9v-.7h.9v-.9h1.1h.9v-.7v-1.2h1.5h.9v-.7h1v-.8h1.2v-.9v-.9h1.2v-.9h1.4h1.4v-.9v-.8h1.3h1.6v-.7v-.5h1.3v-.6h1.1h1.4v-.8h1.2v-.7v-.6h.9v-.9h1.4h1.2v-.8h1v-.6h1.4v-.8h1.5v-.9h1.5v-.8v-.6h1.1h1.6v-.8h1.5v-.6h1.5v-.6h1.8v-.8h1v-.5h1.4v-.7v-.6h1.3v-.6h1.2h1.2v-.5h1.7v-.7v-.6h1.6h1.6v-.7v-.5h1.1h1v-.5v-1h1.4h1.2v-.7h1.5v-.9h1v-.5h1.7v-.6h1.7v-.5h1.1v-.4h1.7v-.4h1.8v-.5h1.3v-.3h1.1v-.3h1.8v-.3h1.2v-.3h1.4v-.2h1.5v-.2h1.5v-.2v-.1h1.3v-.1h1.7h1.6h1.7v-.1h1.6h1.6v-.1h1.7v-.1" fill="none" stroke="#df7fba" stroke-width="1.0" stroke-linejoin="round" stroke-linecap="round"/>
<path d="M41.7 618.6h.5v-1.5v-1.3h.4v-1.7h.5h.5v-1.6h.6v-1.8h.6v-1.4h.5v-1.4v-1.3h.5h.4v-1.1h.6v-1.5h.4v-1.1h.5v-1.2h.6v-1.5h.6v-1.4h.6v-1.3h.6v-1.3h.7v-1.5v-1h.5h.5v-1.1h.6v-1.2h.9v-1.5h.5v-1h.6v-1.1h.7v-1.2v-1.1h.7h.7v-1.1h.9v-1.5h.8v-1.2h.7v-1h.9v-1.4v-1h.6v-1.2h.8h.9v-1.5v-1.1h.6h.7v-1h.8v-1.4h.9v-1.4h.7v-1.1h.8v-1.2h.7v-1h.9v-1.2h.8v-1.2h.8v-1h.8v-1.2h.7v-.9h1.1v-1.5h.6v-1h1v-1.3h.9v-1.3v-1.2h.8h1v-1.4v-1.1h.9v-1h.7h1.1v-1.3h1.1v-1.4h1v-1.2h.9v-1.1v-.8h.8h.9v-1.1h.7v-.9h.8v-1h.7v-.9h1v-1.2h1v-1.2h1v-1.1h.9v-1.1h1v-1h.8v-.9h.8v-.8h1.1v-1h1.1v-1.1h.9v-.8h1.1v-1.2v-.9h.9h1.2v-1.2h.8v-.8h1.2v-1.2h1.4v-1.3h.8v-.7v-.9h1.1h.9v-.8v-1h1.4h1v-.8h.9v-.7v-.9h1.1h1v-.9v-.8h1.1h1.3v-1.1v-.9h1.2h1.2v-.7h1v-.7h1.5v-.8h1.3v-.8h1.5v-.9h1.1v-.6h1.3v-.8h1v-.6h1.4v-.8h1.1v-.7h1.3v-.8h.9v-.6v-1h1.7v-.7h1.3v-.8h1.4h1.5v-.8h1.6v-.9h1.7v-.8h1.3v-.6v-.5h1.2h1.5v-.6h1.7v-.6h1.1v-.4h1.5v-.6h1.2v-.5h1.1v-.5v-.4h1.1v-.4h1.1v-.4h1.1h1.5v-.6h1.4v-.5h1.4v-.5h1.1v-.3v-.4h1.2h1.2v-.4h1.2v-.4h1.6v-.5h1.4v-.4h1.2v-.4h1.3v-.3h1.6v-.5v-.3h1.8h1.2v-.2h1.3v-.2h1.2v-.2v-.2h1.4h1.6v-.1h1.3v-.1h1.6v-.2h1.4v-.1h1.8v-.1h1.8v-.2h1.3v-.1" fill="none" stroke="#f26f72" stroke-width="1.0" stroke-linejoin="round" stroke-linecap="round"/>
<line x1="33.5" y1="627.3" x2="192.7" y2="482.8" stroke="#2a2a2a" stroke-width="1.05" stroke-dasharray="2.8 2"/>
<path d="M33.5 482.8 V627.3 H192.7" fill="none" stroke="#4d4d4d" stroke-width="1"/>
<line x1="39.5" y1="627.3" x2="39.5" y2="630.2" stroke="#4d4d4d" stroke-width="1"/>
<line x1="30.6" y1="620.5" x2="33.5" y2="620.5" stroke="#4d4d4d" stroke-width="1"/>
<text x="26.4" y="623.1" text-anchor="end" class="tk">0</text>
<text x="39.9" y="638.6" text-anchor="middle" class="tk">0</text>
<line x1="76.5" y1="627.3" x2="76.5" y2="630.2" stroke="#4d4d4d" stroke-width="1"/>
<line x1="30.6" y1="587.5" x2="33.5" y2="587.5" stroke="#4d4d4d" stroke-width="1"/>
<text x="26.4" y="590.35" text-anchor="end" class="tk">0.25</text>
<text x="76.35" y="638.6" text-anchor="middle" class="tk">0.25</text>
<line x1="112.5" y1="627.3" x2="112.5" y2="630.2" stroke="#4d4d4d" stroke-width="1"/>
<line x1="30.6" y1="555.5" x2="33.5" y2="555.5" stroke="#4d4d4d" stroke-width="1"/>
<text x="26.4" y="557.6" text-anchor="end" class="tk">0.50</text>
<text x="112.8" y="638.6" text-anchor="middle" class="tk">0.50</text>
<line x1="149.5" y1="627.3" x2="149.5" y2="630.2" stroke="#4d4d4d" stroke-width="1"/>
<line x1="30.6" y1="522.5" x2="33.5" y2="522.5" stroke="#4d4d4d" stroke-width="1"/>
<text x="26.4" y="524.85" text-anchor="end" class="tk">0.75</text>
<text x="149.25" y="638.6" text-anchor="middle" class="tk">0.75</text>
<line x1="185.5" y1="627.3" x2="185.5" y2="630.2" stroke="#4d4d4d" stroke-width="1"/>
<line x1="30.6" y1="489.5" x2="33.5" y2="489.5" stroke="#4d4d4d" stroke-width="1"/>
<text x="26.4" y="492.1" text-anchor="end" class="tk">1.00</text>
<text x="185.7" y="638.6" text-anchor="middle" class="tk">1.00</text>
<text x="112.8" y="650.9" text-anchor="middle" class="xl">1 – specificity</text>
<text x="37.3" y="492" class="pl">g</text>
<text x="117.4" y="499.4" text-anchor="middle" class="cl" fill="#f26f72">SPI Yng</text>
<text x="117.4" y="507.3" text-anchor="middle" class="cl" fill="#f26f72">MuSCs</text>
<text x="128" y="526.1" text-anchor="middle" class="cl" fill="#ad52c2">Stim</text>
<text x="75.8" y="543.2" text-anchor="middle" class="cl" fill="#df7fba">FBR</text>
<text x="118.6" y="542" text-anchor="middle" class="cl" fill="#4cc8c4">SA</text>
<text x="118.6" y="549.9" text-anchor="middle" class="cl" fill="#4cc8c4">Core</text>
<text x="169.7" y="531.9" text-anchor="middle" class="cl" fill="#3a3a3a">SPI Ger</text>
<text x="169.7" y="539.8" text-anchor="middle" class="cl" fill="#3a3a3a">MuSCs</text>
<text x="149.7" y="551.1" text-anchor="middle" class="cl" fill="#5db5ee">Rep</text>
<text x="44.5" y="586.8" text-anchor="middle" class="cl" fill="#18a981">Onco</text>
<text x="118.4" y="585.4" text-anchor="middle" class="cl" fill="#f0a230">Ion</text>
<text x="118.4" y="593.3" text-anchor="middle" class="cl" fill="#f0a230">Rad</text>
<text x="94.6" y="609" text-anchor="middle" class="cl" fill="#257dc0">Chon</text>
</g>
<g id="panel-h">
<path d="M205.7 618.6h1.9v.2h1.7v.2v.1h1.3h1.3v.1h1.3h1.7h1.7v-.1h1.2v-.1h1.1v-.2h1.2v-.3h1.8v-.4h1.8v-.4v-.3h1.3h1.2v-.3h1.1v-.2h1.6v-.4h1.1v-.3h1.4v-.3h1.1v-.3h1.2v-.4h1.7v-.5h1.2v-.4h1.1v-.3h1.1v-.5h1.6v-.6h1.7v-.6v-.7h1.6h1.1v-.4v-.5h1.4h1.3v-.6h1.2v-.4h1.5v-.6h1.4v-.5v-.7h1.8h1.2v-.4v-.3h1.3v-.4h1.3h1.4v-.3h1.4v-.3h1.5v-.4h1.3v-.3h1.6v-.4h1.7v-.4v-.4h1.9h1.3v-.3h1.7v-.4h1.6v-.5h1.8v-.6h1.4v-.6h1.3v-.7h1.2v-.7h1.5v-.8h1.4v-.7v-.8h1.6h1.2v-.5h1v-.5h1.6v-.8h1.5v-.9h1.6v-.9h1.4v-1h1v-.6v-.6h.9h.9v-.7h1.2v-.8h1.5v-1.2h1.1v-.8h.8v-.8h1v-.7h.8v-.8h1.2v-1h.8v-.7h1.4v-1.3h1.2v-1.2h1.1v-1.1h1.1v-1.1h1.3v-1.3h.8v-.9h1.1v-1.1h1.2v-1.4v-1.2h1.1h1.1v-1.3h.9v-1h1v-1.2h.7v-1h.7v-.9h.9v-1.2h.8v-1.1h.9v-1.4h.8v-1.1h.9v-1.5h1v-1.4h.6v-1v-1.1h.7h.7v-1.2h.7v-1.1h.6v-1.1v-1.5h.9h.7v-1.3h.8v-1.4h.7v-1.2h.6v-1.2h.8v-1.5h.6v-1.1h.7v-1.5v-1.2h.6h.8v-1.6h.6v-1.3v-1.3h.6h.7v-1.7h.5v-1h.6v-1.4h.5v-1.2h.5v-1.3h.5v-1.4v-1.7h.6h.6v-1.7h.5v-1.7h.5v-1.5h.4v-1.4h.3v-1.1h.5v-1.6h.3v-1.2h.4v-1.2h.4v-1.5h.4v-1.6h.5v-1.8h.5v-1.6v-1.2h.3h.4v-1.4h.3v-1h.4v-1.4h.6v-1.8h.5v-1.8v-1.2h.4v-1.6h.5h.3v-1.1h.3v-1.2h.6v-1.8v-1.6h.5h.5v-1.7v-1.6h.5v-1.2h.3h.2v-.8" fill="none" stroke="#5db5ee" stroke-width="1.0" stroke-linejoin="round" stroke-linecap="round"/>
<path d="M205.7 618.6v-.5h1.6h1.7v-.5v-.6h1.6h1.2v-.4h1.3v-.4v-.5h1.3h1.5v-.6h1.6v-.6h1.6v-.6h1.7v-.6h1.2v-.5h1.6v-.6v-.6h1.7h1.2v-.5h1.2v-.4h1.2v-.5h1.3v-.4v-.6h1.5h1.4v-.5h1.4v-.6h1.5v-.5h1.2v-.5v-.4h1.2v-.6h1.5v-.4h1.1v-.5h1.3h1.5v-.5h1.2v-.5v-.6h1.7h1.7v-.7h1.3v-.5v-.5h1.3h1.6v-.5h1.4v-.6h1.7v-.6h1.7v-.6v-.4h1.3h1.7v-.7h1.3v-.6h1.7v-.8h1.4v-.7h1.5v-.7h1.3v-.7h1v-.5h1.4v-.7v-.6h1.2v-.8h1.6h1v-.5h1.2v-.6h1.1v-.6v-.7h1.4h1.6v-.8h1.4v-.7h1.5v-.8h1.1v-.5h1.4v-.6h1.4v-.7v-.8h1.5h1.3v-.6h1.6v-.9h1v-.6h1.4v-.9h1.3v-.8v-1h1.4h1.1v-.7h.9v-.7h1.4v-1.1v-.8h1h1.2v-.9h1.2v-1h1.2v-1.1h1.1v-1h1v-.9h1.4v-1.2h.8v-.8v-1.1h1.1h.8v-.8h1.1v-1.1h1.1v-1.3h1.1v-1.5v-1.1h.6h.8v-1.4h.7v-1.3v-1.1h.6v-1.3h.7v-1.6h.9h1v-1.5h.6v-1h.7v-1v-1.1h.7h.9v-1.2h.7v-1h.8v-1.2v-1.5h1h.9v-1.3v-.9h.6h.9v-1.5v-1.4h1h.8v-1.5h.7v-1.1h.6v-1.2h.6v-1v-1.4h.8h.6v-1.1h.5v-1h.6v-1.1h.6v-1.1h.5v-1.1h.8v-1.6h.8v-1.5h.5v-1.2h.7v-1.5h.7v-1.3h.4v-1.1h.7v-1.5h.7v-1.6h.8v-1.7h.5v-1.2h.7v-1.7h.6v-1.3v-1.5h.6v-1.4h.6h.6v-1.6h.6v-1.4h.5v-1.2h.5v-1.3h.5v-1.3h.5v-1.2h.5v-1.4h.4v-1.2h.5v-1.6h.6v-1.7v-1.6h.6h.5v-1.6h.3v-1h.6v-1.7h.2v-.8" fill="none" stroke="#5e5e5e" stroke-width="1.0" stroke-linejoin="round" stroke-linecap="round"/>
<path d="M205.7 618.6h1.4v.2h1.4v.2v.2h1.1h1.7v.3h1.5v.2h1.6v.2h1.5v.2h1.7v.1h1.6h1.2h1.5v-.1h1.9v-.2h1.8v-.2h1.9v-.2v-.2h1.7h1.5v-.1h1.6v-.2h1.4v-.1h1.5v-.2h1.6v-.1h1.6v-.2h1.7v-.3h1.7v-.3h1.4v-.2h1.3v-.3h1.6v-.4h1.3v-.4h1.5v-.5h1.7v-.6h1.2v-.5h1.5v-.6h1.5v-.7v-.8h1.5h1.6v-.8h1.6v-.8h1.5v-.9v-.9h1.6h1.6v-1h1.6v-1h1.2v-.9v-.9h1.2v-.9h1.1h1.2v-1.1v-.7h.8h.8v-.8v-.8h.8h1v-1v-.9h.8h.8v-.9h1v-1.2v-1.5h1.1h.8v-1.2h.9v-1.5h.7v-1.2h.9v-1.3h.7v-1.3h.9v-1.4v-1.4h.9h.6v-1h.8v-1.3v-1.4h.9h1v-1.6h.7v-1h.7v-1h1v-1.4h.9v-1.2h.6v-.9v-1.2h.9h1v-1.4v-1.2h.9h1.1v-1.5h1v-1.5h.9v-1.2h.7v-.9h.8v-1.2h1v-1.5h.6v-1h.9v-1.3h.9v-1.5h.7v-1.1h.9v-1.5h.9v-1.5v-1.1h.7h.7v-1h.7v-1.2h.9v-1.4v-1.5h1h1v-1.6h.5v-.9h.9v-1.5h.7v-1.1h.7v-1.3h.8v-1.4v-1.4h.8v-1.6h.9h.7v-1.3h.7v-1.4h.7v-1.1v-1.6h.9h.8v-1.3h.8v-1.3v-1.2h.7h.8v-1.2v-1.6h.9h.6v-.9h.9v-1.3h.9v-1.4h.7v-1.1h.9v-1.1h.6v-1h.9v-1.2v-1.2h.9h.7v-1v-1.5h1.2h.7v-.9h.8v-1h1.2v-1.4h.9v-1.1h.8v-.8h.7v-.9h.8v-1h.8v-.9h.7v-.8h1.2v-1.4h.8v-1v-.9h.7v-1.4h1.2h1v-1.3h.9v-1.3h.7v-.9h.9v-1.3h.9v-1.3v-1.4h1h1v-1.3v-1.5h1.1h.7v-.9v-1.2h.9" fill="none" stroke="#257dc0" stroke-width="1.0" stroke-linejoin="round" stroke-linecap="round"/>
<path d="M205.7 618.6v-.1h1.7h1.4h1.1v-.1h1.6v-.2h1.3v-.3v-.5h1.5h1.3v-.4h1.7v-.7h1.2v-.6h1.5v-.6h1v-.5h1.7v-.8v-.7h1.4h1.3v-.6h.9v-.5h1.7v-.8h1.7v-.9v-.7h1.3h1.1v-.5h1.7v-.8h1.1v-.6h1.5v-.7h1.5v-.8v-.7h1.6h1.1v-.6h1.6v-.9h1.2v-.6h1v-.6h1.1v-.7v-.8h1.3h1.5v-1h1.2v-.8h1.4v-.9v-.6h1h1.4v-.9h1.1v-.7h1.1v-.8h1.2v-.8h1.6v-1v-.7h.9h1v-.8v-.6h.8h1.2v-1h.9v-.7v-.8h1h1.2v-1.2h1.2v-1.1h1.2v-1.1h1v-1h.8v-.8h.9v-.9h1.3v-1.3h.9v-.9h1.3v-1.3h1.1v-1.2h1.3v-1.2h1v-.9h.8v-.9h.8v-.8h1.2v-1.2v-1.4h1.3h1.2v-1.3v-.9h.7h1.2v-1.4h1.1v-1.2h1v-1.2h.9v-1.2h1.2v-1.5v-.9h.7h1.1v-1.5h.7v-.9h.9v-1.2h1v-1.4h1.1v-1.5v-1.1h.9h.9v-1.1h1.1v-1.3h1.1v-1.2h.7v-.9h.9v-1v-1.2h1h.8v-.8v-1.3h.9h1v-1.1h.8v-1.1h.8v-1.1h1v-1.3h.7v-1.1h1v-1.3h1v-1.3h.8v-1.1v-1.3h1.1v-1.1h.9h1.1v-1.3h1.2v-1.3v-.9h.8h.7v-.9v-1.1h1h1.3v-1.5v-1.3h1.1h1v-1.1h.8v-1v-1.2h1h1.2v-1.4h1v-1.1h1.2v-1.4v-1.3h1.1v-1.3h1.1v-1.2h1h.8v-1h1.3v-1.4h1.2v-1.4h1.2v-1.4h.9v-1.1h1.2v-1.4h.9v-1h1v-1.1h.7v-.9h1.1v-1.3v-1.4h1.2h.9v-1.1h.8v-1v-1.2h1h1v-1.1h1.1v-1.4h.9v-1h1.1v-1.3h.8v-.9h.9v-1v-1.3h1.1h.5v-.6" fill="none" stroke="#f0a230" stroke-width="1.0" stroke-linejoin="round" stroke-linecap="round"/>
<path d="M205.7 618.6h1v-.9h.9v-.8h1v-.9h1.3v-1.3h1v-1.1h.9v-1h1.2v-1.4h1v-1.2h.7v-.9h1.1v-1.3v-1.3h1.1h1.3v-1.3h.8v-.8h1.3v-1.2h1.3v-1.1v-1h1.2h1.2v-.9h1.5v-1.1h1.2v-.9h1.1v-.7h1.5v-1h1.6v-1h1.1v-.8h1.2v-.7h1.5v-1.1h1.4v-.9h1.4v-1h1.2v-.8h1.1v-.6h1.5v-.8h1.4v-.8h1.3v-.6h1v-.4h1.3v-.7h1.6v-.8h1.5v-.7v-.8h1.6h1.6v-.8h1.6v-.8h1.3v-.7h1.6v-.8h1.7v-.8h1.5v-.7v-.7h1.3v-.7h1.3h1.6v-.8h1.5v-.8v-.8h1.7h1.3v-.6h1.1v-.4h1.6v-.5h1.1v-.3v-.3h1.1h1.8v-.7h1.1v-.5h1.2v-.5h1.5v-.8h1.6v-.9v-.8h1.7h1.1v-.6v-.8h1.7h1.3v-.6h1.3v-.6h1.7v-.9h1.5v-.9h1.6v-1h1.4v-1h1.1v-.8h1.4v-1h1.1v-.7h1.4v-.9h1.5v-.9h1v-.7v-.7h1.1h1.1v-.8h1.1v-.8h1v-.8h1.3v-1h.9v-.8h1.5v-1.2h1.2v-1.1h.8v-.8h1v-.9h1.1v-1h1.1v-1.1v-1h1.1h1.2v-1.3v-1.2h1.2h1.2v-1.4h1.2v-1.2h1v-1.1h1.1v-1.3h.7v-.9h1.2v-1.4h1v-1.3h1.1v-1.4h1v-1.4v-1.4h1h.7v-1.2h.8v-1.1h.8v-1.2h.9v-1.4h.6v-1h.9v-1.4v-1.4h.8h.9v-1.5v-1.3h.7h.6v-1.1h.8v-1.5h.9v-1.6h.5v-1h.6v-1.1h.8v-1.6h.5v-1.1h.7v-1.7h.8v-1.6v-1.6h.6h.7v-1.6h.7v-1.6h.5v-1.2h.7v-1.5h.5v-1.2h.5v-1.1v-1.1h.5h.6v-1.3h.6v-1.4h.4v-1.1v-1h.5h.5v-1.1v-.4h.1" fill="none" stroke="#f26f72" stroke-width="1.0" stroke-linejoin="round" stroke-linecap="round"/>
<path d="M205.7 618.6h1.8v-.4h1.8v-.5h1.2v-.3h1.1v-.4v-.9h1.7h1v-.8v-1.1h1.3h1v-1h1v-1.1h1.1v-1.2h1.2v-1.3h1v-1.1h.8v-1h1.1v-1.2h1.2v-1.4v-1.4h1.1h1.2v-1.4h.8v-.9h1.1v-1.4h1v-1.1h.8v-.9h1.1v-1.3h.8v-.9v-1.4h1.2h1.2v-1.5h1v-1.1h1.1v-1.3h1.1v-1.2h1.1v-1.3h1v-1.3h.9v-.9v-1.2h1h.7v-.9v-.9h.8h1.2v-1.4h.8v-.9v-1.3h1.1h1.2v-1.5h1.2v-1.3h1v-1.1v-1.3h1.1h.9v-1v-1.3h1.1h.8v-.9h1v-1.2h.8v-1h.7v-.8h1v-1.3h1v-1.3h1.1v-1.4h1v-1.3v-1.5h1.1v-1h.8h.8v-1.1v-1.3h.9h.8v-1.1h.9v-1.2h.8v-1.1h.8v-1.1h.8v-1.1h.9v-1.3h1v-1.3v-1.1h.9h.8v-.8v-1.2h1h1.1v-1.1h1.1v-1.2v-1h1.1h1v-.9h1.2v-1.2h1v-1h1.1v-1.1h1.3v-1.2h1v-1v-1.2h1.2h.9v-.9h1v-1.1h1v-1.1h1.1v-1.4h.9v-1h.7v-.9h.9v-1.1v-1.3h1.1h.9v-1v-1.2h1.3h1.1v-.9v-.8h1.2h1.5v-.9h1v-.5v-1.1h1.6h1v-.7h.9v-.7v-1.1h1.3h1.3v-1.2v-.9h1.2h1v-.9h1.2v-1h1v-.9h1.5v-1.2v-1.2h1.3v-.8h1h1.2v-1h1.5v-1.1h1.4v-1h1.1v-.7h1.1v-.8h1.2v-.7h1v-.6h.9v-.7h1.3v-.9h1.1v-.7h1v-.7h1v-.7v-.9h1.5v-.8h1.2h1.5v-.8h1.7v-.7h1.6v-.7v-.6h1.6h1.6v-.7h1.7v-.7h1.6v-.6h1.1v-.4h1.2v-.5h1.4v-.5h1.1v-.4h1.3v-.5h1.6v-.6h1.7v-.6h.3v-.2" fill="none" stroke="#4cc8c4" stroke-width="1.0" stroke-linejoin="round" stroke-linecap="round"/>
<path d="M205.7 618.6h1.1v-1.4h.8v-1.3v-1.4h1h1.1v-1.5h.8v-1.2h.7v-1.1h.8v-1.2h.6v-.9h.9v-1.4h.6v-1h.7v-1.3h1v-1.5h1v-1.6v-1.1h.7h.7v-1.1h.5v-.9h.8v-1.2h1v-1.6h.9v-1.5h.9v-1.5h1v-1.5h.7v-1.2h1v-1.5h.7v-1.3h1v-1.5h.8v-1.4h1v-1.5v-1.5h1h1v-1.4v-1.5h1.1v-1.4h1h.9v-1.3h.9v-1.2v-1.3h.9h.9v-1.3h1v-1.3h.8v-1.2h.7v-.9h1v-1.4v-1.1h.8h.9v-1.3h.7v-.9h1v-1.5v-1.4h.9h1.1v-1.4h.7v-1.1v-.9h.7h1v-1.2h1.1v-1.4h1.2v-1.5h.9v-1.2v-.9h.8h1.1v-1.2h.8v-.9h1.3v-1.3h1.1v-1.2h1.2v-1.1h.9v-.9h.8v-.8h1.3v-1.2h.9v-.9h.9v-1h.8v-.8h1.2v-1.1h1.1v-1.1h1.2v-1.2h1.2v-1.2v-1.1h1h1.1v-1h1.1v-1.1h1.2v-1.2h.9v-1v-1.2h1.2h1v-1v-.9h.9h1.3v-1.2v-1.2h1.3h.9v-.7h1.1v-.9h1.3v-.9h.9v-.7h1.5v-1.2h.9v-.8h1.3v-1.1h1.2v-.8v-1h1.2h.9v-.8v-1.1h1.3v-.9h1.1h1.2v-1h1.1v-.8h1.5v-1h1.5v-.8v-.6h1.4h1.5v-.7h1.5v-.7h1.4v-.7h1.2v-.6h1v-.5h1.4v-.8h1.2v-.6h1.7v-.9h1.2v-.6h1.4v-.8h1.2v-.6v-.5h1h1.7v-.8v-.6h1.2h1.7v-.8h1.4v-.6v-.6h1.4h1.1v-.4h1.4v-.6h1.5v-.5h1.4v-.4v-.5h1.5v-.5h1.5h1.3v-.4v-.7h1.7h1.2v-.6v-.5h1.2v-.4h1.2h1.4v-.5h1.4v-.4h1.5v-.4h1.3v-.3h1.8v-.3h1.7v-.4h1.8v-.3h1.7v-.4h.5v-.1" fill="none" stroke="#ad52c2" stroke-width="1.0" stroke-linejoin="round" stroke-linecap="round"/>
<path d="M205.7 618.6v-1.4h.4h.3v-1.3h.3v-1.3h.3v-1.5h.5v-1.8h.3v-1.5h.4v-1.2h.4v-1.5h.5v-1.7h.5v-1.6h.6v-1.6h.4v-1.2v-1.6h.5h.4v-1.2h.6v-1.6h.4v-1.3h.5v-1.3h.5v-1.3h.4v-1.1h.5v-1.4h.5v-1.2v-1.5h.6h.7v-1.8h.6v-1.6h.6v-1.2h.7v-1.7h.6v-1.5v-1.6h.7v-1.2h.5h.7v-1.5h.6v-1.5v-1h.5h.6v-1.4v-1.3h.7h.7v-1.5h.8v-1.6h.6v-1.3h.8v-1.5h.7v-1.4h.5v-1.1h.7v-1.4h.8v-1.4h.6v-1.2v-1.7h.9h.7v-1.4h.9v-1.6h.5v-1h1v-1.6h.8v-1.5h.7v-1.1h.7v-1.1v-1.5h1h.6v-.9h.7v-1h1v-1.3v-1.1h.8h.7v-.9h.7v-1h.9v-1.2h.8v-1.3h.9v-1.4h.8v-1.1h.7v-1h1.1v-1.4h.7v-.9h1.2v-1.2h1.3v-1.2v-1h1.3h1.2v-.9h1.2v-1h1v-.8h1v-.8h1.1v-.9h.8v-.7h1.1v-.9h1.1v-.9h1.2v-1h1.1v-.9h1.2v-1h1.2v-1.1h1.1v-.9h1.3v-1.1h.8v-.7v-.9h1.2h1.4v-1h1.4v-1.1h1.4v-.9v-.6h1h1.4v-.9h1.5v-.9h1.1v-.7h1.1v-.7h1.5v-.8v-.8h1.5v-.9h1.6h1.6v-.8h1.7v-.7h1.5v-.7h1.6v-.6h1.3v-.5h1.5v-.6h1.7v-.5v-.4h1.1h1.8v-.5h1.5v-.5h1.4v-.3h1.2v-.3h1.3v-.3v-.3h1.5h1.2v-.3h1.7v-.3h1.3v-.3h1.3v-.2h1.5v-.3h1.4v-.3h1.6v-.4h1.2v-.3h1.9v-.4h1.7v-.4h1.6v-.3h1.1v-.2h1.1v-.2v-.3h1.7h1.2v-.2h1.5v-.2h1.7v-.2h1.4v-.2v-.2h1.7h1.4v-.2v-.2h1.5h1.8v-.2v-.1h1.5h1.4v-.2h1.7v-.1h1.6v-.1h1.5v-.2v-.1h1.8h1.3v-.1v-.2h1.7h1v-.1" fill="none" stroke="#18a981" stroke-width="1.0" stroke-linejoin="round" stroke-linecap="round"/>
<path d="M205.7 618.6h.5v-1.1h.5v-1.4h.5v-1.1h.7v-1.8h.4v-1h.5v-1.2h.6v-1.5h.7v-1.8h.5v-1.1h.5v-1.4h.7v-1.6h.6v-1.5v-1.2h.5h.6v-1.6h.6v-1.6h.6v-1.3v-1.3h.4h.6v-1.3h.4v-1.2h.4v-1h.6v-1.5h.7v-1.7h.7v-1.7h.5v-1.3v-1.6h.7h.7v-1.6h.4v-1h.6v-1.2v-1.6h.6h.6v-1.1h.6v-1.5h.7v-1.5h.7v-1.3h.6v-1.3v-1.3h.6h.8v-1.5v-1.2h.6h.6v-1.2v-1h.5h.6v-1.2h.7v-1.4h.9v-1.7v-1.3h.7h.6v-1.2h.9v-1.6h.8v-1.4h.8v-1.4h.9v-1.6h1v-1.6h.7v-1.3h.9v-1.5h1v-1.7h.9v-1.4h.7v-1.1h1v-1.5h.9v-1.4h.8v-1h.8v-1h.9v-1.1h1.1v-1.3h.9v-1h1v-1.2h.8v-.9h.7v-.8h1v-1.2h.9v-1.1h.8v-.9h1v-1.3h1.3v-1.4h1.2v-1.4h1.3v-1.3h1.3v-1.4h1.2v-1.2h.9v-.8v-1.1h1.1h.9v-.8h1.4v-1.3h1.2v-1.1h1.3v-1h1.2v-1.1h1.5v-1.1h1.3v-1.1h1.3v-1h.9v-.8h1.2v-.9h1.4v-1v-.9h1.1h.9v-.6v-.8h1.3h1.2v-.8h1.3v-.7h1.3v-.7h1.6v-.8v-.6h1.1h1.5v-.7h1.2v-.5v-.5h1.1h1.2v-.5h1.7v-.7h1.7v-.6h1.2v-.5h1.4v-.4h1.8v-.6v-.4h1.4h1.4v-.4h1.4v-.3h1.6v-.4h1.5v-.3h1.9v-.4h1.1v-.2h1.9v-.3h1.3v-.2h1.1v-.1h1.5v-.3h1.7v-.4v-.3h1.2h1.4v-.3h1.6v-.4h1.1v-.3v-.3h1.7h1.5v-.3v-.2h1.4h1.8v-.2v-.3h1.5h1.3v-.1h1.2v-.2h1.7v-.2h1.4v-.2v-.2h1.7v-.1h1.6h1.5v-.2v-.1h1.8h1.8v-.1h1.2h1.6v-.1h1.3v-.1h1.9v-.1h1.3v-.1" fill="none" stroke="#df7fba" stroke-width="1.0" stroke-linejoin="round" stroke-linecap="round"/>
<line x1="197.5" y1="627.3" x2="356.7" y2="482.8" stroke="#2a2a2a" stroke-width="1.05" stroke-dasharray="2.8 2"/>
<path d="M197.5 482.8 V627.3 H356.7" fill="none" stroke="#4d4d4d" stroke-width="1"/>
<line x1="203.5" y1="627.3" x2="203.5" y2="630.2" stroke="#4d4d4d" stroke-width="1"/>
<line x1="194.6" y1="620.5" x2="197.5" y2="620.5" stroke="#4d4d4d" stroke-width="1"/>
<text x="203.9" y="638.6" text-anchor="middle" class="tk">0</text>
<line x1="240.5" y1="627.3" x2="240.5" y2="630.2" stroke="#4d4d4d" stroke-width="1"/>
<line x1="194.6" y1="587.5" x2="197.5" y2="587.5" stroke="#4d4d4d" stroke-width="1"/>
<text x="240.43" y="638.6" text-anchor="middle" class="tk">0.25</text>
<line x1="276.5" y1="627.3" x2="276.5" y2="630.2" stroke="#4d4d4d" stroke-width="1"/>
<line x1="194.6" y1="555.5" x2="197.5" y2="555.5" stroke="#4d4d4d" stroke-width="1"/>
<text x="276.95" y="638.6" text-anchor="middle" class="tk">0.50</text>
<line x1="313.5" y1="627.3" x2="313.5" y2="630.2" stroke="#4d4d4d" stroke-width="1"/>
<line x1="194.6" y1="522.5" x2="197.5" y2="522.5" stroke="#4d4d4d" stroke-width="1"/>
<text x="313.48" y="638.6" text-anchor="middle" class="tk">0.75</text>
<line x1="350.5" y1="627.3" x2="350.5" y2="630.2" stroke="#4d4d4d" stroke-width="1"/>
<line x1="194.6" y1="489.5" x2="197.5" y2="489.5" stroke="#4d4d4d" stroke-width="1"/>
<text x="350" y="638.6" text-anchor="middle" class="tk">1.00</text>
<text x="276.95" y="650.9" text-anchor="middle" class="xl">1 – specificity</text>
<text x="201.3" y="492" class="pl">h</text>
<text x="294.4" y="495.7" text-anchor="middle" class="cl" fill="#df7fba">FBR</text>
<text x="287.5" y="512.6" text-anchor="middle" class="cl" fill="#ad52c2">Stim</text>
<text x="304.1" y="526.6" text-anchor="middle" class="cl" fill="#4cc8c4">SA</text>
<text x="304.1" y="534.5" text-anchor="middle" class="cl" fill="#4cc8c4">Core</text>
<text x="227.2" y="552.6" text-anchor="middle" class="cl" fill="#18a981">Onco</text>
<text x="294" y="542.7" text-anchor="middle" class="cl" fill="#f0a230">Ion</text>
<text x="294" y="550.6" text-anchor="middle" class="cl" fill="#f0a230">Rad</text>
<text x="275.9" y="560.1" text-anchor="middle" class="cl" fill="#f26f72">SPI Yng</text>
<text x="275.9" y="568" text-anchor="middle" class="cl" fill="#f26f72">MuSCs</text>
<text x="333.2" y="568.7" text-anchor="middle" class="cl" fill="#3a3a3a">SPI Ger</text>
<text x="333.2" y="576.6" text-anchor="middle" class="cl" fill="#3a3a3a">MuSCs</text>
<text x="300" y="597.4" text-anchor="middle" class="cl" fill="#5db5ee">Rep</text>
<text x="274.7" y="615" text-anchor="middle" class="cl" fill="#257dc0">Chon</text>
</g>
<g id="panel-i">
<path d="M370.2 615v-1.1h.5h.5v-1h.5v-1.3h.7v-1.6h.8v-1.5h.6v-1h.9v-1.6h.6v-1v-1.1h.7v-1.5h.9h.6v-1h.9v-1.4h.9v-1.4h.7v-1h1v-1.5h1.1v-1.5h.7v-.9h.9v-1.4h.9v-1.1h.9v-1.2h1v-1.3h1.1v-1.4h1.1v-1.3h1.2v-1.4h1.1v-1.3h.8v-.9h1v-1.3h1v-1.2v-1.4h1.2h.9v-1.2h1.3v-1.4v-1.3h1.2h.7v-.9v-1.3h1.4v-1h.9h1v-.9h1.3v-1.2h.9v-.8h.8v-.7h1v-.9h1.1v-.8h1v-.7h1.1v-.9h1.6v-1v-.9h1.6h1.1v-.6h1.4v-.9h1.1v-.8h1v-.7h1v-.9v-.8h1v-.9h1.1h1.4v-1.1h1.4v-.9h1.5v-.9h1.2v-.6h.9v-.6h1.3v-.8h1.3v-.7v-.8h1.3h1.1v-.7h1.3v-.7h1v-.6v-.9h1.5h1.6v-1h1v-.6h1.3v-.8h1.2v-.7h1.5v-.8h1.3v-.8h1.1v-.7h1.4v-.9h1.3v-1h.9v-.7h1.2v-1h1.1v-.9h1v-.8v-1.1h1.3v-.9h1.1h1v-.8h1.2v-1h1.3v-.9h1.3v-1h1.6v-1h1.5v-.9v-.8h1.5h1.5v-.8h1.3v-.4h1.7v-.7h1.3v-.5v-.7h1.4h1.2v-.6h1.3v-.8v-.6h1h1.1v-.8h1.1v-.6h1.4v-.8v-.9h1.5h1v-.6h1.3v-.8h1.3v-.9v-1h1.3h1.5v-1.2h1.2v-1h1.5v-1.2h1v-.9v-.9h1.2h1.2v-.9h.9v-.7h1.1v-1h1.2v-1h.8v-.8h1.1v-1.2h1v-.9h1v-1.1v-1.2h1.2v-.9h.9v-.9h.9h1.2v-1.3h1v-.9h1v-1h1.4v-1.3h1.1v-1.2h1.4v-1.2h.9v-.8h1.2v-1.1v-1.3h1.4h.8v-.7h.9v-.8" fill="none" stroke="#9fc394" stroke-width="1.0" stroke-linejoin="round" stroke-linecap="round"/>
<path d="M370.2 615h.6v-1.3v-1.3h.6v-1.2h.5h.6v-1.2h.7v-1.5h.6v-1.2h.7v-1.2h.7v-1.1v-1.1h.7h.8v-1.3h.6v-.9h.7v-1.2h.9v-1.3h.9v-1.3h.6v-.9h1v-1.5h.7v-1h.9v-1.2v-1.1h.7h1v-1.2h.8v-1.1h.9v-1.1h.8v-1h1.1v-1.3h1.2v-1.4h.8v-1h1.1v-1.3h1v-1.3v-1.4h1h.7v-1.1h.8v-1.2h.9v-1.2h1v-1.4h1.1v-1.5h1.2v-1.2h1.1v-1.2h.8v-.8v-.8h.9h.8v-.8h1.2v-1.2h1v-1v-1.2h1.3h1v-1.1v-1.1h1.1h.9v-.9h1.1v-.9h1.3v-1.1h1.3v-1.1h1v-.8v-.9h1.2h1.2v-.9h1.5v-1.2h1.3v-1.1h1.2v-.9v-1.1h1.4h1.3v-1.1h1v-.8h1.2v-.8h1v-.9h1.2v-1h1.3v-1.2h1.2v-1.2h1v-.9h1.3v-1.3h1v-1.1h1.3v-1.3h1.3v-1.3h1.3v-1.3h.8v-.8v-1h1h.9v-.9h1.3v-1.3h1.1v-1.1h1.2v-1.3v-1.2h1.2h.9v-.8h1.2v-1.1h1.4v-1.2h1.1v-.9h1.1v-.8h1v-.8h1.3v-.8v-1h1.6h1.5v-.9h1.2v-.7h1.4v-.9v-1.1h1.4v-1.1h1.4h.9v-.7v-1.2h1.4h.9v-.7h1.1v-.9h.9v-.8h1v-.8v-.9h1.1h1.4v-1h1.3v-.9h1.6v-1h1.4v-.8v-.7h1.3h1.3v-.8h1.3v-.7h1.5v-.8h1.1v-.5v-.7h1.5h1v-.6h1v-.4h1.3v-.7h1.5v-.6h1v-.5h1.2v-.6h1.7v-.9h1.2v-.6v-.6h1.4h1.6v-.7v-.6h1.7h1.5v-.6h1.5v-.7v-.6h1.4v-.9h1.7h1.2v-.7h1.2v-.6v-.7h1.5h1.5v-.7h1.2v-.6v-.5h1.1h1.3v-.5v-.7h1.5h.8v-.4" fill="none" stroke="#dc78bc" stroke-width="1.0" stroke-linejoin="round" stroke-linecap="round"/>
<path d="M370.2 615v-1.7h.6v-1h.4h.6v-1.7h.7v-1.5h.7v-1.8v-1.1h.6h.8v-1.4h.7v-1.3h1v-1.6h1v-1.5h.9v-1.4v-1.5h1v-1.5h1.1h.8v-1.2v-1.2h.8h.7v-1h.7v-1h.8v-1.1h.7v-.9h.8v-1h.9v-1.2v-1.2h1h1v-1.1h1.1v-1.3h.8v-1h1.2v-1.5h.9v-1.2h1v-1.4h.8v-1.2h1.1v-1.4h.9v-1.4h.8v-1.1v-1.2h.9h1.1v-1.4h1v-1.2h1.1v-1.2h1.2v-1.4h.8v-1h.7v-.9h.9v-1h.7v-1h.9v-1h1.2v-1.5h1.1v-1.3h1.2v-1.3v-1.2h1.3h1.3v-1h1v-.7v-1h1.4h1.3v-1.2h1.1v-1.1v-1.2h1.3h.8v-.9v-.9h.9v-1.3h1.2v-1.2h1.2h1v-1h1.1v-1h.9v-.9h1.1v-1.1h1v-1.1h1.2v-1.1h1.2v-1.3h1.3v-1.3h1.3v-1.3h1.3v-1.2h1.1v-.9v-.8h.9h1.1v-.8h1.5v-1.1h1.2v-1v-.8h.9h1.4v-1.2v-.9h1.1h.9v-.8h1.1v-.7h1.4v-.8v-.6h1.5h1.6v-.6v-.5h1.4v-.6h1.2h1.1v-.6v-.6h.9h1.1v-.6h1.5v-.9h1.4v-.9h1.2v-.8h1.3v-.8h1v-.6h1.6v-.9h1.1v-.5h1v-.5h1.6v-.5h1.4v-.6h1.2v-.5h1.6v-.9h1.3v-.8h1.1v-.7v-.8h1.4h1.4v-.8h1.2v-.5h1.4v-.5h1.1v-.5h1.5v-.5h1.3v-.5h1v-.4h1.3v-.5h1.3v-.5h1v-.5h1.4v-.5h1.5v-.6h1.3v-.5h1.4v-.6v-.6h1.4h1.5v-.7v-.7h1.3h1v-.5h1.3v-.8v-.8h1.4h1.2v-.8v-.7h1.1h1.1v-.8h1.2v-.9h.9v-.7h1.1v-.8h1.2v-.9v-1h1.3h1v-.7h1.1v-.9v-1.1h1.5h.2v-.2" fill="none" stroke="#c24c37" stroke-width="1.0" stroke-linejoin="round" stroke-linecap="round"/>
<path d="M370.2 613.8v-1.3v-1.7v-1.6v-1.5h.1v-1.9h.1v-1.5h.1v-1.3h.2v-1.5h.2v-1.4h.2v-1.8h.2v-1h.3v-1.8v-1.5h.3h.3v-1.5h.2v-1.2h.2v-1.4h.4v-1.6h.3v-1.8h.3v-1.7h.3v-1.3h.2v-1.1h.4v-1.8v-1.1h.3h.3v-1.3h.3v-1.4h.3v-1.4h.3v-1.2h.3v-1.4h.4v-1.4h.4v-1.6v-1.5h.4h.4v-1.8h.4v-1.2h.5v-1.7h.5v-1.6h.3v-1h.5v-1.6h.6v-1.6h.4v-1.1h.6v-1.5v-1.7h.7v-1h.4h.5v-1.1h.7v-1.7h.5v-1.1h.8v-1.6h.7v-1.6h.7v-1.4v-1.4h.7h.7v-1.4h.8v-1.4v-1.2h.7h.8v-1.4h.8v-1.4h1v-1.6h.8v-1.3h.9v-1.4h.7v-1h1v-1.5h.7v-1h1v-1.6v-1h.7v-1.3h1v-1h.7h.7v-.9h1.1v-1.4h1.1v-1.3h1v-1.1h.9v-.8h1.2v-1.2h.9v-.7h1.1v-1h1.2v-1.1h.9v-.8h1.2v-1h1v-.8h1v-.8h.9v-.7h1.5v-1.2h1v-.8h.9v-.7h1.3v-1v-1h1.4h1.5v-1h1.5v-.9h1.4v-.8h1.3v-.7h1.7v-.9h1.5v-.7v-.6h1.5v-.4h1.1h1.7v-.6h1.2v-.3h1.3v-.4h1.5v-.4h1.3v-.2h1.3v-.3h1.5v-.3h1.3v-.2h1.6v-.3h1.5v-.4h1.1v-.3h1.8v-.4v-.4h1.4h1.7v-.5h1.5v-.3h1.2v-.3h1.5v-.2h1.8v-.3h1.1v-.2v-.2h1.2h1.5v-.2v-.1h1.2h1.7v-.2h1.5v-.2h1.3v-.1h1.7v-.1v-.2h1.6h1.3h1.5v-.1h1.2v-.1h1.4v-.1h1.3h1.3v-.1h1.2h1.9v-.1h1.5v-.1h1.5v-.1h1.3h1.3v-.1h1.2h1.4v-.1h1.8h1.6v-.1h1.9v-.1h1.4h1.7v-.1h1.3h1.5v-.1h1.7h1.4v-.1h1.4h1.5h1.8v-.1h1.2h1.2h1.6h1.3v-.1" fill="none" stroke="#a0d43c" stroke-width="1.0" stroke-linejoin="round" stroke-linecap="round"/>
<path d="M370.2 613.8h.1v-1.6h.1v-1.6v-1.2h.1h.1v-1.3v-1.3h.1h.1v-1.1v-1.2h.2v-1.8h.2h.2v-1.2v-1.4h.2h.3v-1.5h.2v-1.1h.3v-1.7h.2v-1.2h.3v-1.2h.3v-1.5v-1.7h.3h.3v-1.1h.4v-1.8h.4v-1.8h.4v-1.7v-1.8h.5v-1.5h.4v-1.3h.3h.5v-1.8h.4v-1.7v-1.2h.3h.5v-1.8h.4v-1.2v-1.5h.4h.3v-1.1h.4v-1.4h.6v-1.8h.4v-1.3h.6v-1.6v-1.6h.6h.4v-1.3v-1.6h.7h.6v-1.5h.6v-1.4h.5v-1.4h.7v-1.7v-1.1h.5v-1.7h.8h.7v-1.5v-1.2h.6h.6v-1.2h.6v-1.2v-1.5h.8h.7v-1.2h.9v-1.6h.7v-1.3v-1.1h.7v-1.3h.8v-1.5h.9h.9v-1.3h1v-1.5h.7v-.9h1.1v-1.5h1v-1.1h.9v-1.1h1v-1.1h1.1v-1.3v-1.2h1.1h.7v-.9h1.1v-1.2h.9v-1h.8v-.8h.9v-.9h1.1v-1.1v-1.3h1.3v-1h1h1.2v-1.1h1.3v-1.2h1.3v-1.2h1.2v-1h.9v-.9h1.4v-1.2h1.4v-1.2h.9v-.8h.9v-.6h1.1v-.9h1.3v-.9h1.5v-.9h1.1v-.6h1.2v-.7h1.3v-.7h1.4v-.7v-.7h1.5h1v-.5v-.6h1.4h1.5v-.6v-.6h1.6h1.5v-.5v-.4h1.7h1.8v-.4h1.1v-.3h1.6v-.4h1.8v-.5h1.6v-.5h1.8v-.5h1.2v-.4h1.8v-.5v-.3h1.3h1.2v-.2v-.3h1.6h1.7v-.3h1.6v-.3h1.4v-.2h1.5v-.2h1.1v-.1v-.2h1.1h1.5v-.1h1.2v-.1v-.1h1.4v-.1h1.1v-.1h1.2h1.6v-.1h1.9v-.1h1.3h1.6v-.1v-.1h1.9h1.3h1.3v-.1h1.2v-.1h1.4h1.4v-.1h1.8h1.6v-.1h1.2h1.4v-.1h1.3v-.1h1.6h1.8v-.1h1.1h1.9v-.1h1.2h1.3v-.1h1.7h1.2h1.3v-.1h1.5h1.1h1.4v-.1h1.8h.8" fill="none" stroke="#5280d2" stroke-width="1.0" stroke-linejoin="round" stroke-linecap="round"/>
<path d="M370.2 613.8h.2v-1.5h.2v-1.1h.1v-1.3h.2v-1.4h.3v-1.5h.2v-1.4h.3v-1.3h.3v-1.6h.2v-1.6h.3v-1.5v-1.1h.3v-1.6h.3h.2v-1.3h.3v-1.1h.3v-1.7h.4v-1.6h.3v-1.2h.3v-1.5v-1.4h.4h.3v-1.3h.5v-1.7h.3v-1.2h.4v-1.5h.4v-1.4v-1.5h.4h.4v-1.3h.5v-1.6h.3v-1.3h.4v-1.2v-1.8h.5h.6v-1.6h.4v-1.3h.6v-1.8h.4v-1.2h.4v-1.2h.5v-1.2h.6v-1.7h.4v-1.1v-1.5h.6h.6v-1.5h.6v-1.5v-1.5h.6h.7v-1.4h.7v-1.6h.8v-1.6h.8v-1.6h.7v-1.2h.7v-1.3v-1.4h.8h.5v-1h.7v-1.1v-1.4h.8h1v-1.6h1v-1.6h.8v-1.3h1v-1.5v-1.4h1v-.9h.6h.7v-1h.7v-.9v-.9h.7v-.9h.7h.8v-.9h1.1v-1.4h1v-1.1h1.1v-1.3h1v-1.2h1.2v-1.3h.8v-.9h1v-1h1.2v-1.4h.8v-.8v-1.3h1.3v-1.1h1.1v-1.2h1.2h.9v-.9h1.2v-1.1h1v-.9h1.2v-.9v-1h1.1h1.2v-.9h1.1v-.8h.9v-.7v-.8h1.1h1.2v-.8h1.5v-.9h1.4v-.9h1.6v-.9h1.1v-.6h1.3v-.6h1.5v-.7h1.6v-.7h1.1v-.4v-.4h1h1.1v-.4h1.3v-.4h1.4v-.4h1.5v-.4h1.8v-.5h1.1v-.3h1.4v-.4v-.4h1.3h1.2v-.4h1.3v-.4v-.4h1.4h1.5v-.4h1.2v-.3h1.6v-.3h1.6v-.4h1.3v-.2h1.7v-.3h1.1v-.2v-.2h1.1h1.5v-.2h1.6v-.2v-.1h1.8h1.7v-.2v-.1h1.1h1.7v-.1h1.1v-.1v-.1h1.5h1.3v-.1h1.4h1.7v-.1v-.1h1.7h1.6v-.1h1.4v-.1h1.4v-.1h1.5h1.2v-.1h1.6h1.5v-.1h1.5v-.1h1.8v-.1h1.8h1.4h1.8v-.1h1.2h1.6h1.6v-.1h1.4h1.7v-.1h1.8h1.2h1.8h1.3v-.1" fill="none" stroke="#a82c6c" stroke-width="1.0" stroke-linejoin="round" stroke-linecap="round"/>
<line x1="361.5" y1="627.3" x2="520.7" y2="482.8" stroke="#2a2a2a" stroke-width="1.05" stroke-dasharray="2.8 2"/>
<path d="M361.5 482.8 V627.3 H520.7" fill="none" stroke="#4d4d4d" stroke-width="1"/>
<line x1="368.5" y1="627.3" x2="368.5" y2="630.2" stroke="#4d4d4d" stroke-width="1"/>
<line x1="358.6" y1="620.5" x2="361.5" y2="620.5" stroke="#4d4d4d" stroke-width="1"/>
<text x="368.4" y="638.6" text-anchor="middle" class="tk">0</text>
<line x1="404.5" y1="627.3" x2="404.5" y2="630.2" stroke="#4d4d4d" stroke-width="1"/>
<line x1="358.6" y1="587.5" x2="361.5" y2="587.5" stroke="#4d4d4d" stroke-width="1"/>
<text x="404.85" y="638.6" text-anchor="middle" class="tk">0.25</text>
<line x1="441.5" y1="627.3" x2="441.5" y2="630.2" stroke="#4d4d4d" stroke-width="1"/>
<line x1="358.6" y1="555.5" x2="361.5" y2="555.5" stroke="#4d4d4d" stroke-width="1"/>
<text x="441.3" y="638.6" text-anchor="middle" class="tk">0.50</text>
<line x1="477.5" y1="627.3" x2="477.5" y2="630.2" stroke="#4d4d4d" stroke-width="1"/>
<line x1="358.6" y1="522.5" x2="361.5" y2="522.5" stroke="#4d4d4d" stroke-width="1"/>
<text x="477.75" y="638.6" text-anchor="middle" class="tk">0.75</text>
<line x1="514.5" y1="627.3" x2="514.5" y2="630.2" stroke="#4d4d4d" stroke-width="1"/>
<line x1="358.6" y1="489.5" x2="361.5" y2="489.5" stroke="#4d4d4d" stroke-width="1"/>
<text x="514.2" y="638.6" text-anchor="middle" class="tk">1.00</text>
<text x="441.3" y="650.9" text-anchor="middle" class="xl">1 – specificity</text>
<text x="365.3" y="492" class="pl">i</text>
<text x="411.5" y="503.7" text-anchor="middle" class="cl" fill="#a0d43c">GO: Sen</text>
<text x="383.8" y="526.3" text-anchor="middle" class="cl" fill="#5280d2">GO: SASP</text>
<text x="423.8" y="531.9" text-anchor="middle" class="cl" fill="#c24c37">SenMayo</text>
<text x="398.5" y="554.8" text-anchor="middle" class="cl" fill="#a82c6c">FBR</text>
<text x="457.5" y="502.3" text-anchor="middle" class="cl" fill="#dc78bc">Lung</text>
<text x="457.5" y="510.2" text-anchor="middle" class="cl" fill="#dc78bc">uninjured</text>
<text x="495.8" y="532.4" text-anchor="middle" class="cl" fill="#9fc394">Lung injured</text>
</g>
<g id="panel-j">
<path d="M534.1 617.4h.8v-1.4h.6v-1.2v-1h.5h.6v-1h.6v-1.3h.6v-1h.9v-1.5h.8v-1.3h.7v-1h.6v-1h.8v-1.1h.9v-1.2h.8v-1.1h1.2v-1.5h.9v-1.2h.8v-.9h.8v-1h1.1v-1.4h1.1v-1.4v-1.1h.8h1v-1.2h.9v-1h.8v-1h1v-1.1h.9v-.9h1.1v-1.1h.9v-.8h1.2v-1.1h1v-.9h1.3v-1h1.3v-1h.9v-.7h1.2v-.9h1.1v-.9h1v-.9h1.1v-.9h.9v-.7h1.3v-1v-1h1.4h1v-.7h1.2v-.6h1.5v-.9h1.5v-.8h1.1v-.5h1.6v-.6h1.5v-.5v-.6h1.4h1.5v-.8h1.3v-.8v-.8h1.4h1.3v-.9h1v-.6h1.4v-.8h1.1v-.6h1.3v-.8v-.8h1.3h1.2v-.8h1.4v-1.1h1.4v-1.2h1.3v-1.1v-.9h1.3h1.5v-1.1h1.4v-.8h1.4v-.8h1.3v-.7h1.5v-.9v-.8h1.4h1.1v-.7v-.7h1.2v-1h1.5h1v-.7h1v-.8h1.2v-1.1h1v-.8v-.8h.9h1.5v-1h1v-.6h1.4v-.8h1.1v-.6h1.2v-.8v-1h1.6v-1h1.5h1v-.7v-.8h1.2h.9v-.6h1.3v-.9h1.2v-.6h1.1v-.6h1.2v-.6h1.3v-.5v-.5h1h1.2v-.6h1.5v-.9v-1h1.5v-1h1.5v-.7h1.2h1.1v-.9v-.9h1.3h1.4v-1h1.4v-1.2h1v-.9h.9v-.7h1.3v-1.2h1.3v-1.1h1.1v-1.1h1.3v-1.1h1.1v-1.1h.9v-.9h.9v-1h.8v-.9v-1.1h1v-1h.8h.8v-1h.9v-1.2h.7v-.9h.8v-1.2h.8v-1h1.1v-1.5h1.1v-1.5h.7v-1h1.1v-1.5v-1.4h1v-1.4h1v-1.3h.9h.7v-1h.8v-1.1h.9v-1.4h.8v-1.4h.7v-1.2h.7v-1.1h.8v-1.5v-1.4h.9h.1v-.3" fill="none" stroke="#9fc394" stroke-width="1.0" stroke-linejoin="round" stroke-linecap="round"/>
<path d="M534.1 617.4v-1.4h.8h.7v-1.4h.6v-1h.8v-1.5h.8v-1.5h.7v-1.4v-1.6h1v-1.3h.7h.7v-1.3h1v-1.6h.9v-1.6h.5v-1v-1.1h.7h.9v-1.5h.6v-1.1h.9v-1.6h.9v-1.6v-1.2h.7v-1h.6h.6v-1.2h.8v-1.3h.7v-1.3v-1.5h.9h.8v-1.5v-.9h.6h1v-1.4v-1.2h.8h.9v-1.4h1v-1.4h.8v-1.3h.7v-1.1h1v-1.6h.6v-1h.9v-1.6h1v-1.5h.7v-1.2h.7v-1v-.9h.7h.8v-1.1v-1.2h1h1v-1.2h1.2v-1.4h1v-1.1h.8v-1h1v-1.3h1.2v-1.3h.9v-1.1h.7v-1h.8v-.9h1.2v-1.3h.8v-.8h1v-1v-1h.9h1.1v-1h1.1v-1h.9v-1h1.2v-1.4h1.1v-1.2v-1h.7h1.1v-1.2h1.1v-1.4h1.1v-1.4h.8v-.9h1.1v-1.4h1.2v-1.4h.9v-1.2h1v-1.2h1.1v-1.2h1v-1h1.3v-1.3h1.2v-1.2v-.9h.9h.9v-.9h.8v-.8h1.3v-1.3v-.8h.8v-.8h.8h.9v-.9v-1.1h1.1h1.2v-1.1h1.4v-1.2h1.3v-1h1.1v-.8v-.8h.9h1.3v-1h.9v-.7h1.4v-1.2v-.7h.9h1v-.8v-1h1.3h1.1v-.8h1.3v-.8v-1h1.6h1.4v-.7h1.6v-.8h1.7v-.8h1.4v-.6h1.1v-.5h1.6v-.7h1.4v-.5h1v-.4h1.4v-.4v-.5h1.5h1.1v-.3h1.5v-.5v-.6h1.8h1.8v-.6h1.5v-.5h1.7v-.6h1.2v-.4h1.4v-.5h1.3v-.4h1.5v-.5h1.7v-.6h1.5v-.4v-.4h1.6h1.2v-.2h1.1v-.3h1.8v-.4h1.4v-.4h1.6v-.5h1.4v-.5h1.6v-.5h1.5v-.5h1.1v-.4h1.7v-.6h1.6v-.5h1.5v-.5h1.4v-.4h1.5v-.5v-.5h1.5h1.1v-.4" fill="none" stroke="#c24c37" stroke-width="1.0" stroke-linejoin="round" stroke-linecap="round"/>
<path d="M534.1 617.4h.6v-1.5v-1.6h.7v-1.4h.5h.5v-1.2h.6v-1.4v-1.1h.4h.6v-1.5h.8v-1.7h.7v-1.6v-1.6h.7h.5v-1.2h.8v-1.7v-1.6h.7h.5v-1.2h.7v-1.3h.7v-1.6v-1.5h.8h.5v-1h.7v-1.4v-1.7h.9h.6v-1.3h.8v-1.5h.5v-1.1h.8v-1.5h.8v-1.7h.7v-1.5h.6v-1.1h.8v-1.4v-1.2h.6h1v-1.7h.7v-1.2h.9v-1.6h.6v-1.1h.8v-1.3h.7v-1.4h.7v-1.1v-1.6h.8h.9v-1.5h.7v-1.4h.8v-1.3v-1.2h.7v-1.1h.5h.7v-1h.9v-1.6h.7v-1.1v-1h.6v-1.4h.9h.9v-1.4h1v-1.6h.8v-1.2h.9v-1.3h.6v-1v-1.1h.8v-1.2h.8h.8v-1.1v-.9h.7h.9v-1.2h.9v-1.1h.7v-.9h.8v-1h.9v-1.1v-1.2h1h.8v-.9h1.1v-1.3h1v-1.1h1.2v-1.2h1.3v-1.3v-1.4h1.4v-1.2h1.3h1.3v-1.1h.9v-.8h1.4v-1.1h1v-.8h1.1v-.8v-.6h1h1.3v-.9h1.4v-.8h1.1v-.7h1.5v-.8h1.4v-.9h1.2v-.7h1.3v-.8h1.3v-.8h1.2v-.6h1.1v-.7h1.4v-.9h1.5v-.9h1.3v-.7h1.4v-.8v-.7h1.2h1.1v-.5v-.7h1.6h1.4v-.5h1.6v-.5v-.4h1.5h1.7v-.3h1.3v-.3v-.3h1.4h1.3v-.3h1.3v-.3v-.3h1.3h1v-.3h1.4v-.4h1.5v-.4h1.1v-.4h1.7v-.6h1.5v-.5h1.2v-.4h1.3v-.3v-.4h1.6v-.5h1.7h1.7v-.4h1.5v-.5h1.6v-.5h1.3v-.3v-.6h1.7h1.1v-.3v-.5h1.7h1.8v-.6h1.5v-.6v-.5h1.8h1.3v-.5h1.5v-.5v-.4h1.4h1.5v-.5h1.2v-.4h1.4v-.5h1.1v-.4h1.7v-.7h1.4v-.5h1.3v-.6h1.7v-.6h1.3v-.5h1.4v-.6h.9v-.4" fill="none" stroke="#dc78bc" stroke-width="1.0" stroke-linejoin="round" stroke-linecap="round"/>
<path d="M534.1 616.2h.1v-1.4h.1v-1.8v-1.8h.1h.1v-1.2h.1v-1.3h.1v-1.2h.2v-1.8h.2v-1.6h.3v-1.8h.3v-1.7h.2v-1.5h.3v-1.2v-1.4h.2h.3v-1.3h.2v-1.2h.4v-1.7h.2v-1.3h.4v-1.6h.3v-1.7h.3v-1.5h.4v-1.7h.3v-1.5h.4v-1.4h.3v-1.6v-1.5h.4v-1h.3h.4v-1.6h.4v-1.6h.4v-1.5h.5v-1.6h.3v-1.1v-1.6h.5h.5v-1.8h.5v-1.6h.4v-1.3h.5v-1.7v-1.6h.5h.4v-1.5h.5v-1.4v-1.1h.4h.6v-1.7h.4v-1.1v-1.1h.4h.5v-1.3v-1.4h.6v-1.7h.7h.6v-1.4h.5v-1.2v-1.1h.5v-1.4h.7v-1.2h.6v-1.7h.8v-1h.5h.6v-1.1h.8v-1.5h.7v-1.3h.6v-1.1h.8v-1.4v-1.3h.8h.7v-1.2h.7v-1.2h1v-1.4v-1.3h.8h1v-1.3h.9v-1.2h.9v-1.3v-.9h.7h.9v-1.2v-1.3h1.1h.8v-1.1h.9v-1.1h1v-1.1h.8v-.9h.7v-.9h1v-1.1h.8v-.9h1v-1.2h1v-1.1h1.2v-1.4h.9v-.9h.8v-.8h1.3v-1.3h1.3v-1.2h1.4v-1.2h1.4v-1v-1.1h1.5h1.3v-.9h1v-.6h1.6v-.9h1.1v-.6h1.6v-.8h1.1v-.5h1v-.5h1.4v-.5h1.3v-.5v-.4h1.2h1.6v-.5h1.3v-.4h1.6v-.5h1.2v-.3h1.8v-.4h1.2v-.2h1.7v-.3v-.2h1.3h1.8v-.3h1.9v-.2h1.8v-.2v-.1h1.7h1.8v-.2v-.1h1.4v-.1h1.1h1.8v-.1v-.1h1.8h1.6h1.6v-.1h1.5v-.1h1.5v-.1h1.7h1.5v-.1h1.8h1.3v-.1h1.1h1.5h1.2v-.1h1.5h1.9h1.1h1.8v-.1h1.5h1.1h1.6h1.7h1.1h1.6h1.8h1.3h1.6v-.1h1.2h1.2h1.2h1.7h1.3h1.6h1.9h1.9h1.3h1.7h1.2v-.1h1.2h.3" fill="none" stroke="#a0d43c" stroke-width="1.0" stroke-linejoin="round" stroke-linecap="round"/>
<path d="M534.1 616.2v-1.5v-1.2h-.1v-1.9h-.1v-1.6v-1.3v-1.2v-1.3v-1.3h.1h.1v-1.9h.2v-1.7h.2v-1.8h.2v-1.8h.2v-1.2v-1.7h.2h.2v-1.2h.2v-1.6h.2v-1.2v-1.2h.1h.3v-1.7h.2v-1.3h.2v-1.4h.2v-1.4h.2v-1.2h.3v-1.4h.2v-1.3h.3v-1.6v-1.8h.3h.3v-1.2h.2v-1.2h.4v-1.6h.3v-1.3h.4v-1.9h.4v-1.4h.3v-1.5v-1.2h.4h.4v-1.7h.4v-1.4h.5v-1.8h.4v-1.4h.5v-1.5v-1.1h.3h.6v-1.7h.5v-1.5h.5v-1.3h.5v-1.4h.6v-1.7h.6v-1.4v-1.1h.4v-1.1h.4h.6v-1.2v-1.5h.6h.7v-1.5h.5v-1.1h.6v-1.1h.7v-1.6h.7v-1.4h.7v-1.3v-1.2h.7h.8v-1.5h.7v-1.5h.8v-1.3h.8v-1.3h.6v-1.1h.9v-1.2h.9v-1.2h1v-1.2h1.2v-1.4h1.1v-1.3h1.1v-1.2h.7v-.9h1.1v-1.4v-1.1h.9h.8v-.9h.8v-.9h.7v-.9h1.2v-1.4h.9v-1v-1h.9h.9v-.9h1.2v-1.3h.9v-.8v-1.1h1.3h.9v-.7h1.3v-1h1.1v-.7h1v-.6h1.4v-.9h1v-.6h.9v-.6h1.3v-.8h1.5v-.9h1.6v-.9v-.8h1.6h1.4v-.7v-.5h1.2h1.3v-.5v-.3h1.1v-.5h1.6h1.4v-.4h1.7v-.4h1.6v-.4v-.3h1.4h1.7v-.3h1.2v-.2h1.2v-.2h1.8v-.3h1.4v-.1h1.8v-.2h1.9v-.2h1.7v-.2h1.6v-.1v-.1h1.5h1.6v-.1h1.5v-.1v-.1h1.6h1.3v-.1h1.7v-.1h1.5v-.1h1.8h1.8v-.1h1.5v-.1h1.6h1.5v-.1h1.9v-.1h1.6h1.5h1.9v-.1h1.7h1.8h1.7v-.1h1.2h1.8h1.4h1.1h1.7h1.6h1.4h1.5h1.7v-.1h1.8h1.9h1.4h1.6h1.4h1.7h1.8h1.6h1.4h1.3v-.1h1.7h.1" fill="none" stroke="#5280d2" stroke-width="1.0" stroke-linejoin="round" stroke-linecap="round"/>
<path d="M534.1 616.2h.3v-1.7v-1.4h.1h.2v-1.6h.2v-1.6h.2v-1.3h.2v-1.3v-1.6h.2v-1.8h.3h.3v-1.4v-1.8h.3h.3v-1.6h.2v-1.2h.3v-1.7h.3v-1.2v-1.3h.2v-1.8h.4v-1.2h.2v-1.3h.3h.2v-1.1h.4v-1.7h.4v-1.8h.4v-1.8h.3v-1.2h.4v-1.7h.4v-1.6h.3v-1.1h.3v-1.1h.3v-1.2h.5v-1.8v-1.5h.4h.5v-1.5h.4v-1.4h.5v-1.6h.4v-1.2v-1.3h.4h.3v-1h.4v-1.2h.4v-1.2h.4v-1.1h.5v-1.4h.4v-1.2h.6v-1.7h.4v-1.1h.5v-1.4h.4v-1.1h.6v-1.6v-1.2h.4v-1.5h.6h.7v-1.5v-1.5h.7h.7v-1.3h.7v-1.3h.6v-1.3v-1.1h.6v-1.5h.9h.7v-1.3h.8v-1.4h.8v-1.5h.7v-1.2h.9v-1.6h.9v-1.3v-1.2h.7h.9v-1.3h.9v-1.3h.7v-1.1v-1h.7h.8v-1.1h.8v-1h.9v-1.2h.7v-.9v-1.2h.9h.9v-1h1v-1.1h1.2v-1.4h1.1v-1.3v-1.3h1.2h1.2v-1.4h1.3v-1.3h1.2v-1.3h1.2v-1.1h1v-1.1h1.4v-1.2h1.1v-.9v-1.1h1.2h1.1v-.8h1.1v-.8h1.4v-1h.9v-.6h1.1v-.7h1.6v-.9h1.4v-.8h1.6v-.8v-.5h1h1.2v-.6h1v-.4h1.7v-.7h1.1v-.4h1.8v-.5h1.2v-.3h1.3v-.3h1.8v-.4h1.6v-.3h1.6v-.3h1.4v-.2h1.8v-.3v-.2h1.3h1.4v-.2h1.3v-.1h1.7v-.2h1.4v-.2h1.3v-.1h1.3v-.1h1.1v-.1h1.5v-.1h1.6v-.1h1.4v-.1h1.4v-.1h1.4h1.9v-.1v-.1h1.7h1.2h1.3v-.1h1.5h1.4h1.6v-.1h1.7h1.8h1.5h1.4v-.1h1.8h1.5h1.6h1.4h1.6h1.7h1.8h1.4v-.1h1.3h1.6h1.2h1.6h1.3h1.9h1.8h1.3h1.8h1.5h1.8v-.1h.6" fill="none" stroke="#a82c6c" stroke-width="1.0" stroke-linejoin="round" stroke-linecap="round"/>
<line x1="525.5" y1="627.3" x2="684.7" y2="482.8" stroke="#2a2a2a" stroke-width="1.05" stroke-dasharray="2.8 2"/>
<path d="M525.5 482.8 V627.3 H684.7" fill="none" stroke="#4d4d4d" stroke-width="1"/>
<line x1="532.5" y1="627.3" x2="532.5" y2="630.2" stroke="#4d4d4d" stroke-width="1"/>
<line x1="522.6" y1="620.5" x2="525.5" y2="620.5" stroke="#4d4d4d" stroke-width="1"/>
<text x="532.4" y="638.6" text-anchor="middle" class="tk">0</text>
<line x1="568.5" y1="627.3" x2="568.5" y2="630.2" stroke="#4d4d4d" stroke-width="1"/>
<line x1="522.6" y1="587.5" x2="525.5" y2="587.5" stroke="#4d4d4d" stroke-width="1"/>
<text x="568.85" y="638.6" text-anchor="middle" class="tk">0.25</text>
<line x1="605.5" y1="627.3" x2="605.5" y2="630.2" stroke="#4d4d4d" stroke-width="1"/>
<line x1="522.6" y1="555.5" x2="525.5" y2="555.5" stroke="#4d4d4d" stroke-width="1"/>
<text x="605.3" y="638.6" text-anchor="middle" class="tk">0.50</text>
<line x1="641.5" y1="627.3" x2="641.5" y2="630.2" stroke="#4d4d4d" stroke-width="1"/>
<line x1="522.6" y1="522.5" x2="525.5" y2="522.5" stroke="#4d4d4d" stroke-width="1"/>
<text x="641.75" y="638.6" text-anchor="middle" class="tk">0.75</text>
<line x1="678.5" y1="627.3" x2="678.5" y2="630.2" stroke="#4d4d4d" stroke-width="1"/>
<line x1="522.6" y1="489.5" x2="525.5" y2="489.5" stroke="#4d4d4d" stroke-width="1"/>
<text x="678.2" y="638.6" text-anchor="middle" class="tk">1.00</text>
<text x="605.3" y="650.9" text-anchor="middle" class="xl">1 – specificity</text>
<text x="529.3" y="492" class="pl">j</text>
<text x="562.6" y="504.4" text-anchor="middle" class="cl" fill="#a0d43c">GO: Sen</text>
<text x="549.6" y="516.7" text-anchor="middle" class="cl" fill="#5280d2">GO: SASP</text>
<text x="570.6" y="532.1" text-anchor="middle" class="cl" fill="#a82c6c">FBR</text>
<text x="594.2" y="506.6" text-anchor="middle" class="cl" fill="#dc78bc">Lung</text>
<text x="594.2" y="514.5" text-anchor="middle" class="cl" fill="#dc78bc">uninjured</text>
<text x="608.4" y="539.6" text-anchor="middle" class="cl" fill="#c24c37">SenMayo</text>
<text x="639.7" y="552.4" text-anchor="middle" class="cl" fill="#9fc394">Lung injured</text>
</g>
<g id="panel-k">
<text x="-0.4" y="675.4" class="pl">k</text>
<text x="35.5" y="686" text-anchor="middle" class="tb">Gene List</text>
<text x="73.8" y="686" text-anchor="middle" class="tb">Yng</text>
<text x="99.9" y="686" text-anchor="middle" class="tb">Old</text>
<text x="126.2" y="686" text-anchor="middle" class="tb">Ger</text>
<text x="149.2" y="686" text-anchor="middle" class="tb">G1</text>
<text x="172.3" y="686" text-anchor="middle" class="tb">Non-G1</text>
<line x1="11.1" y1="688.5" x2="59.6" y2="688.5" stroke="#444" stroke-width="1"/>
<line x1="62.4" y1="688.5" x2="85.2" y2="688.5" stroke="#444" stroke-width="1"/>
<line x1="88.2" y1="688.5" x2="111.5" y2="688.5" stroke="#444" stroke-width="1"/>
<line x1="114.6" y1="688.5" x2="137.9" y2="688.5" stroke="#444" stroke-width="1"/>
<line x1="140.6" y1="688.5" x2="158.1" y2="688.5" stroke="#444" stroke-width="1"/>
<line x1="160.3" y1="688.5" x2="184.5" y2="688.5" stroke="#444" stroke-width="1"/>
<text x="35.5" y="695.2" text-anchor="middle" class="tb">FBR</text>
<text x="73.8" y="695.2" text-anchor="middle" class="tb">0.76</text>
<text x="99.9" y="695.2" text-anchor="middle" class="tb">0.77</text>
<text x="126.2" y="695.2" text-anchor="middle" class="tb">0.76</text>
<text x="149.2" y="695.2" text-anchor="middle" class="tb">0.70</text>
<text x="172.3" y="695.2" text-anchor="middle" class="tb">0.72</text>
<text x="35.5" y="703.45" text-anchor="middle" class="tb">Oncogene</text>
<text x="73.8" y="703.45" text-anchor="middle" class="tb">0.74</text>
<text x="99.9" y="703.45" text-anchor="middle" class="tb">0.71</text>
<text x="126.2" y="703.45" text-anchor="middle" class="tb">0.74</text>
<text x="149.2" y="703.45" text-anchor="middle" class="tb">0.63</text>
<text x="172.3" y="703.45" text-anchor="middle" class="tb">0.73</text>
<text x="35.5" y="711.7" text-anchor="middle" class="tb">Stim-Ind</text>
<text x="73.8" y="711.7" text-anchor="middle" class="tb">0.65</text>
<text x="99.9" y="711.7" text-anchor="middle" class="tb">0.60</text>
<text x="126.2" y="711.7" text-anchor="middle" class="tb">0.62</text>
<text x="149.2" y="711.7" text-anchor="middle" class="tb">0.66</text>
<text x="172.3" y="711.7" text-anchor="middle" class="tb">0.63</text>
<text x="35.5" y="719.95" text-anchor="middle" class="tb">SA Core</text>
<text x="73.8" y="719.95" text-anchor="middle" class="tb">0.58</text>
<text x="99.9" y="719.95" text-anchor="middle" class="tb">0.57</text>
<text x="126.2" y="719.95" text-anchor="middle" class="tb">0.53</text>
<text x="149.2" y="719.95" text-anchor="middle" class="tb">0.59</text>
<text x="172.3" y="719.95" text-anchor="middle" class="tb">0.55</text>
<text x="35.5" y="728.2" text-anchor="middle" class="tb">SPI Yng MuSCs</text>
<text x="73.8" y="728.2" text-anchor="middle" class="tb">0.47</text>
<text x="99.9" y="728.2" text-anchor="middle" class="tb">0.36</text>
<text x="126.2" y="728.2" text-anchor="middle" class="tb">0.37</text>
<text x="149.2" y="728.2" text-anchor="middle" class="tb">0.70</text>
<text x="172.3" y="728.2" text-anchor="middle" class="tb">0.40</text>
<text x="35.5" y="736.45" text-anchor="middle" class="tb">Ion-Rad</text>
<text x="73.8" y="736.45" text-anchor="middle" class="tb">0.41</text>
<text x="99.9" y="736.45" text-anchor="middle" class="tb">0.34</text>
<text x="126.2" y="736.45" text-anchor="middle" class="tb">0.36</text>
<text x="149.2" y="736.45" text-anchor="middle" class="tb">0.48</text>
<text x="172.3" y="736.45" text-anchor="middle" class="tb">0.39</text>
<text x="35.5" y="744.7" text-anchor="middle" class="tb">Aged-Chon</text>
<text x="73.8" y="744.7" text-anchor="middle" class="tb">0.34</text>
<text x="99.9" y="744.7" text-anchor="middle" class="tb">0.47</text>
<text x="126.2" y="744.7" text-anchor="middle" class="tb">0.33</text>
<text x="149.2" y="744.7" text-anchor="middle" class="tb">0.39</text>
<text x="172.3" y="744.7" text-anchor="middle" class="tb">0.32</text>
<text x="35.5" y="752.95" text-anchor="middle" class="tb">SPI Ger MuSCs</text>
<text x="73.8" y="752.95" text-anchor="middle" class="tb">0.34</text>
<text x="99.9" y="752.95" text-anchor="middle" class="tb">0.24</text>
<text x="126.2" y="752.95" text-anchor="middle" class="tb">0.30</text>
<text x="149.2" y="752.95" text-anchor="middle" class="tb">0.48</text>
<text x="172.3" y="752.95" text-anchor="middle" class="tb">0.30</text>
<text x="35.5" y="761.2" text-anchor="middle" class="tb">Replicative</text>
<text x="73.8" y="761.2" text-anchor="middle" class="tb">0.29</text>
<text x="99.9" y="761.2" text-anchor="middle" class="tb">0.23</text>
<text x="126.2" y="761.2" text-anchor="middle" class="tb">0.21</text>
<text x="149.2" y="761.2" text-anchor="middle" class="tb">0.45</text>
<text x="172.3" y="761.2" text-anchor="middle" class="tb">0.25</text>
<text x="35.5" y="771.4" text-anchor="middle" class="tb">GO: SASP</text>
<text x="73.8" y="771.4" text-anchor="middle" class="tb">0.87</text>
<text x="99.9" y="771.4" text-anchor="middle" class="tb">0.88</text>
<text x="126.2" y="771.4" text-anchor="middle" class="tb">0.89</text>
<text x="149.2" y="771.4" text-anchor="middle" class="tb">0.83</text>
<text x="172.3" y="771.4" text-anchor="middle" class="tb">0.87</text>
<text x="35.5" y="779.5" text-anchor="middle" class="tb">GO: Sen</text>
<text x="73.8" y="779.5" text-anchor="middle" class="tb">0.87</text>
<text x="99.9" y="779.5" text-anchor="middle" class="tb">0.84</text>
<text x="126.2" y="779.5" text-anchor="middle" class="tb">0.85</text>
<text x="149.2" y="779.5" text-anchor="middle" class="tb">0.84</text>
<text x="172.3" y="779.5" text-anchor="middle" class="tb">0.85</text>
<text x="35.5" y="787.6" text-anchor="middle" class="tb">FBR</text>
<text x="73.8" y="787.6" text-anchor="middle" class="tb">0.86</text>
<text x="99.9" y="787.6" text-anchor="middle" class="tb">0.85</text>
<text x="126.2" y="787.6" text-anchor="middle" class="tb">0.86</text>
<text x="149.2" y="787.6" text-anchor="middle" class="tb">0.82</text>
<text x="172.3" y="787.6" text-anchor="middle" class="tb">0.85</text>
<text x="35.5" y="795.7" text-anchor="middle" class="tb">SenMayo</text>
<text x="73.8" y="795.7" text-anchor="middle" class="tb">0.68</text>
<text x="99.9" y="795.7" text-anchor="middle" class="tb">0.57</text>
<text x="126.2" y="795.7" text-anchor="middle" class="tb">0.64</text>
<text x="149.2" y="795.7" text-anchor="middle" class="tb">0.62</text>
<text x="172.3" y="795.7" text-anchor="middle" class="tb">0.66</text>
<text x="35.5" y="803.8" text-anchor="middle" class="tb">Lung uninjured</text>
<text x="73.8" y="803.8" text-anchor="middle" class="tb">0.62</text>
<text x="99.9" y="803.8" text-anchor="middle" class="tb">0.54</text>
<text x="126.2" y="803.8" text-anchor="middle" class="tb">0.66</text>
<text x="149.2" y="803.8" text-anchor="middle" class="tb">0.62</text>
<text x="172.3" y="803.8" text-anchor="middle" class="tb">0.70</text>
<text x="35.5" y="811.9" text-anchor="middle" class="tb">Lung injured</text>
<text x="73.8" y="811.9" text-anchor="middle" class="tb">0.51</text>
<text x="99.9" y="811.9" text-anchor="middle" class="tb">0.45</text>
<text x="126.2" y="811.9" text-anchor="middle" class="tb">0.48</text>
<text x="149.2" y="811.9" text-anchor="middle" class="tb">0.57</text>
<text x="172.3" y="811.9" text-anchor="middle" class="tb">0.51</text>
<line x1="10.5" y1="688" x2="10.5" y2="762.6" stroke="#444" stroke-width="1"/>
<line x1="10.5" y1="765.3" x2="10.5" y2="813.8" stroke="#444" stroke-width="1"/>
<text transform="translate(6.0 726.6) rotate(-90)" text-anchor="middle" class="tb">Two-way</text>
<text transform="translate(6.0 788.8) rotate(-90)" text-anchor="middle" class="tb">One-way</text>
</g>
<g id="panel-l">
<path d="M191.8 757C192.2 752.9 193 747.3 194.9 742.1C196.9 737 200.1 730.6 203.6 726C207.1 721.5 211.3 717.4 216 714.9C220.8 712.3 227.4 711.3 232.1 710.5C236.9 709.7 240.8 709.8 244.6 710.1C248.3 710.4 251.6 711.2 254.5 712.4C257.4 713.6 259.9 715.5 261.9 717.3C264 719.2 265.8 722.1 266.9 723.5C268 725 267.6 725 268.7 726C269.9 727.1 271.8 728.9 273.7 729.7C275.5 730.6 277.8 731.1 279.9 731.2C282 731.3 284 730.7 286.1 730.4C288.2 730 290.2 729.2 292.3 729.1C294.4 729 296.8 729.2 298.5 729.7C300.2 730.3 301.2 731 302.2 732.2C303.3 733.5 304.2 735.3 304.7 737.2C305.2 739 305 741.5 305.3 743.4C305.6 745.2 305.8 746.8 306.6 748.3C307.3 749.9 308.3 751.3 309.7 752.7C311 754 312.8 755.1 314.6 756.4C316.5 757.8 319 759.3 320.8 760.8C322.7 762.2 324.6 763.7 325.8 765.1C327 766.5 327.9 768 328.3 769.4C328.7 770.9 328.5 772.8 328.3 774C328.1 775.2 327.9 775.2 327 776.5C326.2 777.7 325 779.7 323.3 781.4C321.7 783.2 319.4 785.2 317.1 787C314.8 788.9 312.1 791 309.7 792.6C307.2 794.3 304.7 795.6 302.2 797C299.7 798.3 297.3 799.5 294.8 800.7C292.3 801.8 289.8 802.8 287.3 803.8C284.9 804.7 282.4 805.5 279.9 806.3C277.4 807 274.9 807.6 272.4 808.1C270 808.6 268 808.9 265 809.4C262 809.8 257.9 810.4 254.5 810.6C251.1 810.8 247.9 810.8 244.6 810.6C241.2 810.4 237.9 810 234.6 809.4C231.3 808.7 227.8 808 224.7 806.9C221.6 805.7 218.7 804.3 216 802.5C213.3 800.8 210.8 798.6 208.6 796.3C206.3 794.1 204.2 791.4 202.4 788.9C200.5 786.4 198.8 783.9 197.4 781.4C196.1 779 195.1 776.4 194.3 774C193.5 771.6 192.9 769.8 192.4 767C192 764.1 191.4 761.2 191.8 757Z" fill="#b054ad" fill-opacity="0.4" stroke="none"/>
<path d="M221 769.4C220.2 766.6 219.1 760.6 218.5 757C217.9 753.5 217.5 751.5 217.5 748.3C217.5 745.2 217.7 741.7 218.5 738.4C219.3 735.1 220.6 731.8 222.2 728.5C223.9 725.2 225.9 721.6 228.4 718.6C230.9 715.6 234 712.8 237.1 710.5C240.2 708.2 243.3 706.5 247 704.9C250.8 703.4 256.4 702 259.4 701.2C262.4 700.4 262.4 700.2 265 700.2C267.6 700.2 271.6 700.5 274.9 701.2C278.2 701.9 281.5 702.9 284.9 704.3C288.2 705.8 291.7 707.5 294.8 709.9C297.9 712.3 301 715.7 303.5 718.6C305.9 721.5 308 724.4 309.7 727.3C311.3 730.2 312.6 733 313.4 735.9C314.2 738.8 314.6 741.9 314.6 744.6C314.6 747.3 314 749.8 313.4 752.1C312.8 754.3 311.8 756.2 310.9 758.3C310 760.3 308.5 762.4 307.8 764.5C307.1 766.5 306.7 769.1 306.6 770.7C306.5 772.3 306.8 772.8 307.2 774C307.6 775.2 308.2 776.5 309 777.7C309.9 779 311.2 780 312.1 781.4C313.1 782.9 314 784.8 314.6 786.4C315.2 788.1 315.6 789.7 315.6 791.4C315.6 793 315.3 794.8 314.6 796.3C313.9 797.9 312.8 799.5 311.5 800.7C310.3 801.8 308.7 802.5 307.2 803.2C305.6 803.8 303.8 803.9 302.2 804.4C300.7 804.9 299.1 805.3 297.9 806.3C296.6 807.2 295.5 808.5 294.8 810C294.1 811.4 293.9 813.3 293.5 814.9C293.1 816.6 292.8 818.3 292.3 819.9C291.8 821.6 291.3 823.2 290.4 824.9C289.6 826.5 288.7 828.4 287.3 829.8C286 831.3 284.2 832.6 282.4 833.6C280.5 834.5 278.2 835.2 276.2 835.4C274.1 835.6 271.8 835.3 270 834.8C268.1 834.3 266.8 833.2 265 832.3C263.2 831.4 261.4 830.7 259.4 829.2C257.5 827.8 255.3 825.8 253.2 823.6C251.2 821.5 248.9 818.7 247 816.2C245.2 813.7 243.7 811.4 242.1 808.7C240.4 806.1 238.8 802.9 237.1 800.1C235.5 797.2 233.8 794.5 232.1 791.4C230.5 788.3 228.6 784.3 227.2 781.4C225.7 778.5 224.5 776 223.5 774C222.4 772 221.8 772.3 221 769.4Z" fill="#6cb4ee" fill-opacity="0.4" stroke="none"/>
<path d="M205.5 801.3C205.3 799.2 205.6 797.4 206.1 795.1C206.6 792.8 207.3 790.1 208.6 787.6C209.8 785.2 211.8 782.5 213.5 780.2C215.3 777.9 217.7 775.6 219.1 774C220.6 772.4 219.6 773.5 222.2 770.7C224.8 767.9 230.5 761.4 234.6 757C238.8 752.7 242.9 748.6 247 744.6C251.2 740.7 256.4 736.3 259.4 733.5C262.4 730.7 262.8 729.5 265 727.9C267.2 726.2 269.8 724.5 272.4 723.5C275.1 722.6 278.2 722.3 281.1 722C284 721.8 286.7 721.9 289.8 722C292.9 722.2 296.6 722.4 299.7 722.9C302.8 723.5 305.5 724.3 308.4 725.4C311.3 726.5 314.2 727.8 317.1 729.7C320 731.7 323.1 734.5 325.8 737.2C328.5 739.9 331.2 742.8 333.2 745.9C335.3 749 337 752.5 338.2 755.8C339.4 759.1 340.1 762.7 340.4 765.7C340.7 768.8 340.3 771.6 340.1 774C339.8 776.4 339.5 777.9 338.8 780.2C338.1 782.5 337.1 785 335.7 787.6C334.4 790.3 332.6 793.6 330.8 796.3C328.9 799 326.8 801.6 324.6 803.8C322.3 805.9 319.6 807.8 317.1 809.4C314.6 810.9 312.1 812.2 309.7 813.1C307.2 814 304.7 814.6 302.2 814.9C299.7 815.3 297.3 815.3 294.8 815.2C292.3 815.1 289.6 814.6 287.3 814.3C285.1 814 283 813.6 281.1 813.5C279.3 813.4 277.6 813.4 276.2 813.7C274.7 814.1 273.7 814.6 272.4 815.6C271.2 816.5 270 818 268.7 819.3C267.5 820.5 265.9 821.8 265 823C264.1 824.2 264.3 825.8 263.2 826.7C262 827.7 260.1 828.3 258.2 828.6C256.3 828.9 253.9 828.9 252 828.6C250.1 828.3 248.5 827.6 247 826.7C245.6 825.9 244.6 824.8 243.3 823.6C242.1 822.5 241 821 239.6 819.9C238.1 818.8 236.5 817.5 234.6 816.8C232.8 816.1 230.9 816 228.4 815.6C225.9 815.1 222.4 814.9 219.7 814.3C217.1 813.7 214.4 813 212.3 811.8C210.2 810.7 208.5 809.3 207.3 807.5C206.2 805.7 205.7 803.4 205.5 801.3Z" fill="#5ca284" fill-opacity="0.4" stroke="none"/>
<path d="M200.5 757C200.5 754.3 201.2 751.8 202.4 749.6C203.5 747.4 205.5 745.2 207.3 744C209.2 742.8 211.1 742.7 213.5 742.1C216 741.6 219.3 741.6 222.2 740.9C225.1 740.2 228.2 739 230.9 737.8C233.6 736.6 236.3 735.2 238.3 733.5C240.4 731.7 241.7 729.7 243.3 727.3C245 724.8 246.4 721 248.3 718.6C250.1 716.2 252.2 714.3 254.5 713C256.8 711.6 260.2 710.9 261.9 710.5C263.7 710.1 263.9 710.2 265 710.5C266.1 710.8 267.5 711.6 268.7 712.4C270 713.1 271.2 713.8 272.4 714.9C273.7 715.9 275 717.1 276.2 718.6C277.3 720 278.3 721.9 279.3 723.5C280.2 725.2 281 726.8 281.7 728.5C282.5 730.2 282.9 731.6 283.6 733.5C284.3 735.3 285.2 737.6 286.1 739.7C287 741.7 288.1 743.8 289.2 745.9C290.3 747.9 291.6 750.2 292.9 752.1C294.3 753.9 295.7 755.6 297.3 757C298.8 758.5 300.6 759.5 302.2 760.8C303.9 762 305.5 763.2 307.2 764.5C308.8 765.7 310.5 767 312.1 768.2C313.8 769.4 315.9 771 317.1 771.9C318.3 772.9 318.1 772.6 319.6 774C321 775.4 323.9 778.3 325.8 780.2C327.7 782.1 329.3 783.5 330.8 785.2C332.2 786.8 333.5 788.5 334.5 790.1C335.5 791.8 336.3 793.2 336.7 795.1C337.1 797 337.2 799 337 801.3C336.7 803.6 336.1 806.3 335.1 808.7C334.1 811.2 332.5 814 330.8 816.2C329 818.4 326.8 820.1 324.6 821.8C322.3 823.4 319.6 825 317.1 826.1C314.6 827.2 312.1 828.1 309.7 828.6C307.2 829.1 304.7 829.2 302.2 829.2C299.7 829.3 297.3 829.1 294.8 828.8C292.3 828.5 289.6 827.9 287.3 827.3C285.1 826.8 283.2 826.2 281.1 825.5C279.1 824.8 276.8 823.7 274.9 823C273.1 822.3 271.6 821.8 270 821.1C268.3 820.5 266.8 819.7 265 819.3C263.2 818.9 261.4 818.6 259.4 818.7C257.5 818.8 255.3 819.3 253.2 819.9C251.2 820.5 249.1 821.5 247 822.4C245 823.3 242.9 824.7 240.8 825.5C238.8 826.3 236.7 827 234.6 827.3C232.6 827.7 230.3 827.8 228.4 827.6C226.6 827.4 224.9 827 223.5 826.1C222 825.2 220.7 824 219.7 822.4C218.8 820.7 218.3 818.3 217.9 816.2C217.5 814.1 217.4 812 217.5 810C217.6 807.9 218 805.8 218.5 803.8C219 801.7 219.8 799.6 220.4 797.6C220.9 795.5 221.5 793.2 221.6 791.4C221.7 789.5 221.6 788.1 221.2 786.4C220.8 784.8 220.2 782.9 219.1 781.4C218 780 216.7 779.3 214.8 777.7C212.8 776.1 209.4 773.9 207.3 771.9C205.3 769.9 203.5 768.2 202.4 765.7C201.2 763.2 200.5 759.7 200.5 757Z" fill="#f0a830" fill-opacity="0.4" stroke="none"/>
<path d="M206.7 780.2C207.1 778 209.1 774.8 209.8 771.9C210.5 769.1 211.3 766.1 211.1 763.2C210.8 760.3 209.2 757.7 208.6 754.6C208 751.5 207.3 747.9 207.3 744.6C207.3 741.3 207.7 737.4 208.6 734.7C209.4 732 210.6 729.9 212.3 728.5C213.9 727.1 216.4 726.3 218.5 726C220.6 725.7 222 726.2 224.7 726.6C227.4 727.1 230.9 727.9 234.6 728.5C238.3 729.1 242.9 729.7 247 730.4C251.2 731 256.4 731.5 259.4 732.2C262.4 732.9 262.8 733.9 265 734.5C267.2 735 270 734.9 272.4 735.3C274.9 735.7 277.4 736.4 279.9 736.9C282.4 737.5 284.9 738.1 287.3 738.7C289.8 739.2 292.3 739.7 294.8 740.3C297.3 740.8 299.7 741.4 302.2 741.9C304.7 742.4 307.4 742.9 309.7 743.4C311.9 743.8 314.2 744 315.9 744.6C317.5 745.2 318.6 746.1 319.6 747.1C320.6 748.1 321.5 749.4 322.1 750.8C322.7 752.3 323.2 754.1 323.3 755.8C323.4 757.4 323.2 759.1 322.7 760.8C322.2 762.4 321.1 764.1 320.2 765.7C319.3 767.4 318.3 769.3 317.1 770.7C315.9 772.1 313.8 773 312.8 774C311.7 775 311.8 775.2 310.9 776.5C310 777.7 308.2 779.8 307.2 781.4C306.1 783.1 305.2 784.5 304.7 786.4C304.2 788.3 304.1 790.5 304.1 792.6C304 794.7 304.2 796.5 304.5 798.8C304.7 801.1 305.1 803.8 305.3 806.3C305.5 808.7 305.9 811.2 305.7 813.7C305.5 816.2 305 818.8 304.1 821.1C303.2 823.5 301.9 825.9 300.4 828C298.8 830 296.9 831.8 294.8 833.6C292.6 835.3 289.8 837.1 287.3 838.5C284.9 840 282.4 841.2 279.9 842.2C277.4 843.3 274.9 844.1 272.4 844.7C270 845.3 266.8 845.7 265 845.7C263.2 845.7 263.7 845.2 261.9 844.7C260.2 844.2 257 843.7 254.5 842.9C252 842 249.3 841 247 839.8C244.8 838.5 242.7 837.1 240.8 835.4C239 833.8 237.2 831.8 235.9 829.8C234.5 827.9 233.5 825.7 232.8 823.6C232 821.6 231.8 819.5 231.5 817.4C231.3 815.4 231.4 813.3 231.2 811.2C230.9 809.2 230.8 806.9 230.3 805C229.7 803.2 228.9 801.4 227.8 800.1C226.7 798.7 225.2 798 223.5 797C221.7 795.9 219.3 795 217.3 793.9C215.2 792.7 212.7 791.6 211.1 790.1C209.4 788.7 208.1 786.8 207.3 785.2C206.6 783.5 206.3 782.4 206.7 780.2Z" fill="#e07fb8" fill-opacity="0.4" stroke="none"/>
<path d="M196.8 783.9C197.2 781.5 197.5 778.5 198.6 775.6C199.8 772.8 201.5 769.9 203.6 767C205.7 764.1 208.6 760.6 211.1 758.3C213.5 756 216.2 755 218.5 753.3C220.8 751.7 223.2 750 224.7 748.3C226.3 746.7 227.1 745.5 227.8 743.4C228.5 741.3 228.6 738.4 229 735.9C229.5 733.5 229.6 730.6 230.3 728.5C231 726.4 232 724.9 233.4 723.5C234.7 722.2 236.1 721 238.3 720.4C240.6 719.9 244.1 720.2 247 720.4C249.9 720.6 252.8 721.5 255.7 721.7C258.6 721.9 262 722.3 264.4 721.7C266.8 721.1 268 719.1 270 718C271.9 716.8 273.9 715.6 276.2 714.9C278.4 714.1 281.3 713.6 283.6 713.6C285.9 713.6 288.1 714 289.8 714.9C291.6 715.7 293.1 717.1 294.2 718.6C295.2 720 295.5 721.3 296 723.5C296.5 725.8 296.8 728.7 297 732.2C297.3 735.7 297.4 740.5 297.5 744.6C297.6 748.8 297.6 752.9 297.5 757C297.4 761.2 297.1 766.6 297 769.4C297 772.3 297.4 771.2 297.3 774C297.1 776.8 296.5 782.3 296 786.4C295.5 790.5 295 795.1 294.2 798.8C293.3 802.5 292.2 806.1 291.1 808.7C289.9 811.4 288.8 812.9 287.3 814.9C285.9 817 284.2 819.3 282.4 821.1C280.5 823 278.2 824.7 276.2 826.1C274.1 827.6 271.8 828.9 270 829.8C268.1 830.8 266.8 830.9 265 831.7C263.2 832.5 261.6 834.1 259.4 834.8C257.3 835.5 254.5 835.7 252 836C249.5 836.4 247 836.8 244.6 837C242.1 837.2 239.8 837.5 237.1 837.3C234.4 837 231.1 836.2 228.4 835.4C225.7 834.6 223.5 833.7 221 832.3C218.5 831 215.8 829.2 213.5 827.3C211.3 825.5 209.2 823.4 207.3 821.1C205.5 818.9 203.8 816.4 202.4 813.7C200.9 811 199.6 807.7 198.6 805C197.7 802.3 197.2 800.1 196.8 797.6C196.4 795.1 196.2 792.4 196.2 790.1C196.2 787.9 196.4 786.3 196.8 783.9Z" fill="#5cc8c0" fill-opacity="0.4" stroke="none"/>
<path d="M223.1 773.3 222.8 772.8 222.4 772.4 222.1 772 221.9 771.6 222.2 770.7 223.3 769.5 224.7 768 226.2 766.3 227.8 764.4 229.6 762.5 231.3 760.6 233 758.8 234.6 757 236.2 755.4 237.7 753.8 239.3 752.2 240.8 750.7 242.4 749.1 243.9 747.6 245.5 746.1 247 744.6 248.6 743.1 250.3 741.6 252 740.1 253.7 738.6 255.3 737.2 256.8 735.8 258.2 734.6 259.4 733.5 260.5 732.5 261.3 732.8 261.9 733.1 262.5 733.4 263.1 733.7 263.6 734 264.3 734.2 265 734.5 265.8 734.6 266.7 734.7 267.7 734.8 268.6 734.9 269.6 735 270.5 735.1 271.5 735.2 272.4 735.3 273.4 735.5 274.3 735.7 275.2 735.9 276.2 736.1 277.1 736.3 278 736.5 279 736.7 279.9 736.9 280.8 737.1 281.7 737.4 282.7 737.6 283.6 737.8 284.5 738 285.5 738.2 285.7 738.9 286.1 739.7 286.4 740.4 286.8 741.2 287.2 742 287.6 742.8 288 743.5 288.4 744.3 288.8 745.1 289.2 745.9 289.6 746.7 290.1 747.4 290.5 748.2 291 749 291.4 749.8 291.9 750.6 292.4 751.4 292.9 752.1 293.4 752.8 293.9 753.4 294.5 754.1 295 754.7 295.6 755.3 296.1 755.9 296.7 756.5 297.3 757 297.5 758.6 297.4 760.3 297.3 762 297.2 763.7 297.2 765.4 297.1 766.9 297 768.3 297 769.4 297 770.3 297.1 770.9 297.1 771.4 297.2 771.7 297.2 772.1 297.3 772.5 297.3 773.1 297.3 774 297.2 775.2 297.1 776.5 296.9 778.1 296.8 779.7 296.6 781.4 296.4 783.1 296.2 784.8 296 786.4 295.8 788 295.6 789.6 295.4 791.2 295.2 792.8 295 794.3 294.7 795.9 294.5 797.4 294.2 798.8 293.8 800.2 292.9 801.5 292 801.9 291.1 802.3 290.1 802.7 289.2 803.1 288.3 803.4 287.3 803.8 286.4 804.1 285.5 804.5 284.5 804.8 283.6 805.1 282.7 805.4 281.7 805.7 280.8 806 279.9 806.3 279 806.5 278 806.8 277.1 807 276.2 807.3 275.2 807.5 274.3 807.7 273.4 807.9 272.4 808.1 271.5 808.3 270.7 808.5 269.8 808.6 268.9 808.8 268 808.9 267.1 809.1 266.1 809.2 265 809.4 263.8 809.5 262.6 809.7 261.3 809.9 259.9 810.1 258.5 810.2 257.1 810.4 255.8 810.5 254.5 810.6 253.2 810.7 252 810.7 250.7 810.7 249.5 810.8 248.2 810.7 247 810.7 245.8 810.7 244.6 810.6 243.3 810.5 242.7 809.7 242.1 808.7 241.5 807.7 240.8 806.7 240.2 805.6 239.6 804.5 239 803.4 238.3 802.3 237.7 801.1 237.1 800.1 236.5 799 235.9 797.9 235.2 796.9 234.6 795.8 234 794.7 233.4 793.6 232.8 792.5 232.1 791.4 231.5 790.2 230.9 788.9 230.2 787.6 229.6 786.3 229 785 228.3 783.8 227.7 782.6 227.2 781.4 226.7 780.4 226.1 779.3 225.6 778.3 225.2 777.4 224.7 776.5 224.3 775.6 223.9 774.8 223.5 774Z" fill="#a3aaa5" stroke="#a3aaa5" stroke-width="0.6" stroke-linejoin="round"/>
<path d="M191.8 757C192.2 752.9 193 747.3 194.9 742.1C196.9 737 200.1 730.6 203.6 726C207.1 721.5 211.3 717.4 216 714.9C220.8 712.3 227.4 711.3 232.1 710.5C236.9 709.7 240.8 709.8 244.6 710.1C248.3 710.4 251.6 711.2 254.5 712.4C257.4 713.6 259.9 715.5 261.9 717.3C264 719.2 265.8 722.1 266.9 723.5C268 725 267.6 725 268.7 726C269.9 727.1 271.8 728.9 273.7 729.7C275.5 730.6 277.8 731.1 279.9 731.2C282 731.3 284 730.7 286.1 730.4C288.2 730 290.2 729.2 292.3 729.1C294.4 729 296.8 729.2 298.5 729.7C300.2 730.3 301.2 731 302.2 732.2C303.3 733.5 304.2 735.3 304.7 737.2C305.2 739 305 741.5 305.3 743.4C305.6 745.2 305.8 746.8 306.6 748.3C307.3 749.9 308.3 751.3 309.7 752.7C311 754 312.8 755.1 314.6 756.4C316.5 757.8 319 759.3 320.8 760.8C322.7 762.2 324.6 763.7 325.8 765.1C327 766.5 327.9 768 328.3 769.4C328.7 770.9 328.5 772.8 328.3 774C328.1 775.2 327.9 775.2 327 776.5C326.2 777.7 325 779.7 323.3 781.4C321.7 783.2 319.4 785.2 317.1 787C314.8 788.9 312.1 791 309.7 792.6C307.2 794.3 304.7 795.6 302.2 797C299.7 798.3 297.3 799.5 294.8 800.7C292.3 801.8 289.8 802.8 287.3 803.8C284.9 804.7 282.4 805.5 279.9 806.3C277.4 807 274.9 807.6 272.4 808.1C270 808.6 268 808.9 265 809.4C262 809.8 257.9 810.4 254.5 810.6C251.1 810.8 247.9 810.8 244.6 810.6C241.2 810.4 237.9 810 234.6 809.4C231.3 808.7 227.8 808 224.7 806.9C221.6 805.7 218.7 804.3 216 802.5C213.3 800.8 210.8 798.6 208.6 796.3C206.3 794.1 204.2 791.4 202.4 788.9C200.5 786.4 198.8 783.9 197.4 781.4C196.1 779 195.1 776.4 194.3 774C193.5 771.6 192.9 769.8 192.4 767C192 764.1 191.4 761.2 191.8 757Z" fill="none" stroke="#b054ad" stroke-width="1.05" stroke-linejoin="round"/>
<path d="M221 769.4C220.2 766.6 219.1 760.6 218.5 757C217.9 753.5 217.5 751.5 217.5 748.3C217.5 745.2 217.7 741.7 218.5 738.4C219.3 735.1 220.6 731.8 222.2 728.5C223.9 725.2 225.9 721.6 228.4 718.6C230.9 715.6 234 712.8 237.1 710.5C240.2 708.2 243.3 706.5 247 704.9C250.8 703.4 256.4 702 259.4 701.2C262.4 700.4 262.4 700.2 265 700.2C267.6 700.2 271.6 700.5 274.9 701.2C278.2 701.9 281.5 702.9 284.9 704.3C288.2 705.8 291.7 707.5 294.8 709.9C297.9 712.3 301 715.7 303.5 718.6C305.9 721.5 308 724.4 309.7 727.3C311.3 730.2 312.6 733 313.4 735.9C314.2 738.8 314.6 741.9 314.6 744.6C314.6 747.3 314 749.8 313.4 752.1C312.8 754.3 311.8 756.2 310.9 758.3C310 760.3 308.5 762.4 307.8 764.5C307.1 766.5 306.7 769.1 306.6 770.7C306.5 772.3 306.8 772.8 307.2 774C307.6 775.2 308.2 776.5 309 777.7C309.9 779 311.2 780 312.1 781.4C313.1 782.9 314 784.8 314.6 786.4C315.2 788.1 315.6 789.7 315.6 791.4C315.6 793 315.3 794.8 314.6 796.3C313.9 797.9 312.8 799.5 311.5 800.7C310.3 801.8 308.7 802.5 307.2 803.2C305.6 803.8 303.8 803.9 302.2 804.4C300.7 804.9 299.1 805.3 297.9 806.3C296.6 807.2 295.5 808.5 294.8 810C294.1 811.4 293.9 813.3 293.5 814.9C293.1 816.6 292.8 818.3 292.3 819.9C291.8 821.6 291.3 823.2 290.4 824.9C289.6 826.5 288.7 828.4 287.3 829.8C286 831.3 284.2 832.6 282.4 833.6C280.5 834.5 278.2 835.2 276.2 835.4C274.1 835.6 271.8 835.3 270 834.8C268.1 834.3 266.8 833.2 265 832.3C263.2 831.4 261.4 830.7 259.4 829.2C257.5 827.8 255.3 825.8 253.2 823.6C251.2 821.5 248.9 818.7 247 816.2C245.2 813.7 243.7 811.4 242.1 808.7C240.4 806.1 238.8 802.9 237.1 800.1C235.5 797.2 233.8 794.5 232.1 791.4C230.5 788.3 228.6 784.3 227.2 781.4C225.7 778.5 224.5 776 223.5 774C222.4 772 221.8 772.3 221 769.4Z" fill="none" stroke="#6cb4ee" stroke-width="1.05" stroke-linejoin="round"/>
<path d="M205.5 801.3C205.3 799.2 205.6 797.4 206.1 795.1C206.6 792.8 207.3 790.1 208.6 787.6C209.8 785.2 211.8 782.5 213.5 780.2C215.3 777.9 217.7 775.6 219.1 774C220.6 772.4 219.6 773.5 222.2 770.7C224.8 767.9 230.5 761.4 234.6 757C238.8 752.7 242.9 748.6 247 744.6C251.2 740.7 256.4 736.3 259.4 733.5C262.4 730.7 262.8 729.5 265 727.9C267.2 726.2 269.8 724.5 272.4 723.5C275.1 722.6 278.2 722.3 281.1 722C284 721.8 286.7 721.9 289.8 722C292.9 722.2 296.6 722.4 299.7 722.9C302.8 723.5 305.5 724.3 308.4 725.4C311.3 726.5 314.2 727.8 317.1 729.7C320 731.7 323.1 734.5 325.8 737.2C328.5 739.9 331.2 742.8 333.2 745.9C335.3 749 337 752.5 338.2 755.8C339.4 759.1 340.1 762.7 340.4 765.7C340.7 768.8 340.3 771.6 340.1 774C339.8 776.4 339.5 777.9 338.8 780.2C338.1 782.5 337.1 785 335.7 787.6C334.4 790.3 332.6 793.6 330.8 796.3C328.9 799 326.8 801.6 324.6 803.8C322.3 805.9 319.6 807.8 317.1 809.4C314.6 810.9 312.1 812.2 309.7 813.1C307.2 814 304.7 814.6 302.2 814.9C299.7 815.3 297.3 815.3 294.8 815.2C292.3 815.1 289.6 814.6 287.3 814.3C285.1 814 283 813.6 281.1 813.5C279.3 813.4 277.6 813.4 276.2 813.7C274.7 814.1 273.7 814.6 272.4 815.6C271.2 816.5 270 818 268.7 819.3C267.5 820.5 265.9 821.8 265 823C264.1 824.2 264.3 825.8 263.2 826.7C262 827.7 260.1 828.3 258.2 828.6C256.3 828.9 253.9 828.9 252 828.6C250.1 828.3 248.5 827.6 247 826.7C245.6 825.9 244.6 824.8 243.3 823.6C242.1 822.5 241 821 239.6 819.9C238.1 818.8 236.5 817.5 234.6 816.8C232.8 816.1 230.9 816 228.4 815.6C225.9 815.1 222.4 814.9 219.7 814.3C217.1 813.7 214.4 813 212.3 811.8C210.2 810.7 208.5 809.3 207.3 807.5C206.2 805.7 205.7 803.4 205.5 801.3Z" fill="none" stroke="#1faa7f" stroke-width="1.05" stroke-linejoin="round"/>
<path d="M200.5 757C200.5 754.3 201.2 751.8 202.4 749.6C203.5 747.4 205.5 745.2 207.3 744C209.2 742.8 211.1 742.7 213.5 742.1C216 741.6 219.3 741.6 222.2 740.9C225.1 740.2 228.2 739 230.9 737.8C233.6 736.6 236.3 735.2 238.3 733.5C240.4 731.7 241.7 729.7 243.3 727.3C245 724.8 246.4 721 248.3 718.6C250.1 716.2 252.2 714.3 254.5 713C256.8 711.6 260.2 710.9 261.9 710.5C263.7 710.1 263.9 710.2 265 710.5C266.1 710.8 267.5 711.6 268.7 712.4C270 713.1 271.2 713.8 272.4 714.9C273.7 715.9 275 717.1 276.2 718.6C277.3 720 278.3 721.9 279.3 723.5C280.2 725.2 281 726.8 281.7 728.5C282.5 730.2 282.9 731.6 283.6 733.5C284.3 735.3 285.2 737.6 286.1 739.7C287 741.7 288.1 743.8 289.2 745.9C290.3 747.9 291.6 750.2 292.9 752.1C294.3 753.9 295.7 755.6 297.3 757C298.8 758.5 300.6 759.5 302.2 760.8C303.9 762 305.5 763.2 307.2 764.5C308.8 765.7 310.5 767 312.1 768.2C313.8 769.4 315.9 771 317.1 771.9C318.3 772.9 318.1 772.6 319.6 774C321 775.4 323.9 778.3 325.8 780.2C327.7 782.1 329.3 783.5 330.8 785.2C332.2 786.8 333.5 788.5 334.5 790.1C335.5 791.8 336.3 793.2 336.7 795.1C337.1 797 337.2 799 337 801.3C336.7 803.6 336.1 806.3 335.1 808.7C334.1 811.2 332.5 814 330.8 816.2C329 818.4 326.8 820.1 324.6 821.8C322.3 823.4 319.6 825 317.1 826.1C314.6 827.2 312.1 828.1 309.7 828.6C307.2 829.1 304.7 829.2 302.2 829.2C299.7 829.3 297.3 829.1 294.8 828.8C292.3 828.5 289.6 827.9 287.3 827.3C285.1 826.8 283.2 826.2 281.1 825.5C279.1 824.8 276.8 823.7 274.9 823C273.1 822.3 271.6 821.8 270 821.1C268.3 820.5 266.8 819.7 265 819.3C263.2 818.9 261.4 818.6 259.4 818.7C257.5 818.8 255.3 819.3 253.2 819.9C251.2 820.5 249.1 821.5 247 822.4C245 823.3 242.9 824.7 240.8 825.5C238.8 826.3 236.7 827 234.6 827.3C232.6 827.7 230.3 827.8 228.4 827.6C226.6 827.4 224.9 827 223.5 826.1C222 825.2 220.7 824 219.7 822.4C218.8 820.7 218.3 818.3 217.9 816.2C217.5 814.1 217.4 812 217.5 810C217.6 807.9 218 805.8 218.5 803.8C219 801.7 219.8 799.6 220.4 797.6C220.9 795.5 221.5 793.2 221.6 791.4C221.7 789.5 221.6 788.1 221.2 786.4C220.8 784.8 220.2 782.9 219.1 781.4C218 780 216.7 779.3 214.8 777.7C212.8 776.1 209.4 773.9 207.3 771.9C205.3 769.9 203.5 768.2 202.4 765.7C201.2 763.2 200.5 759.7 200.5 757Z" fill="none" stroke="#f0a830" stroke-width="1.05" stroke-linejoin="round"/>
<path d="M206.7 780.2C207.1 778 209.1 774.8 209.8 771.9C210.5 769.1 211.3 766.1 211.1 763.2C210.8 760.3 209.2 757.7 208.6 754.6C208 751.5 207.3 747.9 207.3 744.6C207.3 741.3 207.7 737.4 208.6 734.7C209.4 732 210.6 729.9 212.3 728.5C213.9 727.1 216.4 726.3 218.5 726C220.6 725.7 222 726.2 224.7 726.6C227.4 727.1 230.9 727.9 234.6 728.5C238.3 729.1 242.9 729.7 247 730.4C251.2 731 256.4 731.5 259.4 732.2C262.4 732.9 262.8 733.9 265 734.5C267.2 735 270 734.9 272.4 735.3C274.9 735.7 277.4 736.4 279.9 736.9C282.4 737.5 284.9 738.1 287.3 738.7C289.8 739.2 292.3 739.7 294.8 740.3C297.3 740.8 299.7 741.4 302.2 741.9C304.7 742.4 307.4 742.9 309.7 743.4C311.9 743.8 314.2 744 315.9 744.6C317.5 745.2 318.6 746.1 319.6 747.1C320.6 748.1 321.5 749.4 322.1 750.8C322.7 752.3 323.2 754.1 323.3 755.8C323.4 757.4 323.2 759.1 322.7 760.8C322.2 762.4 321.1 764.1 320.2 765.7C319.3 767.4 318.3 769.3 317.1 770.7C315.9 772.1 313.8 773 312.8 774C311.7 775 311.8 775.2 310.9 776.5C310 777.7 308.2 779.8 307.2 781.4C306.1 783.1 305.2 784.5 304.7 786.4C304.2 788.3 304.1 790.5 304.1 792.6C304 794.7 304.2 796.5 304.5 798.8C304.7 801.1 305.1 803.8 305.3 806.3C305.5 808.7 305.9 811.2 305.7 813.7C305.5 816.2 305 818.8 304.1 821.1C303.2 823.5 301.9 825.9 300.4 828C298.8 830 296.9 831.8 294.8 833.6C292.6 835.3 289.8 837.1 287.3 838.5C284.9 840 282.4 841.2 279.9 842.2C277.4 843.3 274.9 844.1 272.4 844.7C270 845.3 266.8 845.7 265 845.7C263.2 845.7 263.7 845.2 261.9 844.7C260.2 844.2 257 843.7 254.5 842.9C252 842 249.3 841 247 839.8C244.8 838.5 242.7 837.1 240.8 835.4C239 833.8 237.2 831.8 235.9 829.8C234.5 827.9 233.5 825.7 232.8 823.6C232 821.6 231.8 819.5 231.5 817.4C231.3 815.4 231.4 813.3 231.2 811.2C230.9 809.2 230.8 806.9 230.3 805C229.7 803.2 228.9 801.4 227.8 800.1C226.7 798.7 225.2 798 223.5 797C221.7 795.9 219.3 795 217.3 793.9C215.2 792.7 212.7 791.6 211.1 790.1C209.4 788.7 208.1 786.8 207.3 785.2C206.6 783.5 206.3 782.4 206.7 780.2Z" fill="none" stroke="#e07fb8" stroke-width="1.05" stroke-linejoin="round"/>
<path d="M196.8 783.9C197.2 781.5 197.5 778.5 198.6 775.6C199.8 772.8 201.5 769.9 203.6 767C205.7 764.1 208.6 760.6 211.1 758.3C213.5 756 216.2 755 218.5 753.3C220.8 751.7 223.2 750 224.7 748.3C226.3 746.7 227.1 745.5 227.8 743.4C228.5 741.3 228.6 738.4 229 735.9C229.5 733.5 229.6 730.6 230.3 728.5C231 726.4 232 724.9 233.4 723.5C234.7 722.2 236.1 721 238.3 720.4C240.6 719.9 244.1 720.2 247 720.4C249.9 720.6 252.8 721.5 255.7 721.7C258.6 721.9 262 722.3 264.4 721.7C266.8 721.1 268 719.1 270 718C271.9 716.8 273.9 715.6 276.2 714.9C278.4 714.1 281.3 713.6 283.6 713.6C285.9 713.6 288.1 714 289.8 714.9C291.6 715.7 293.1 717.1 294.2 718.6C295.2 720 295.5 721.3 296 723.5C296.5 725.8 296.8 728.7 297 732.2C297.3 735.7 297.4 740.5 297.5 744.6C297.6 748.8 297.6 752.9 297.5 757C297.4 761.2 297.1 766.6 297 769.4C297 772.3 297.4 771.2 297.3 774C297.1 776.8 296.5 782.3 296 786.4C295.5 790.5 295 795.1 294.2 798.8C293.3 802.5 292.2 806.1 291.1 808.7C289.9 811.4 288.8 812.9 287.3 814.9C285.9 817 284.2 819.3 282.4 821.1C280.5 823 278.2 824.7 276.2 826.1C274.1 827.6 271.8 828.9 270 829.8C268.1 830.8 266.8 830.9 265 831.7C263.2 832.5 261.6 834.1 259.4 834.8C257.3 835.5 254.5 835.7 252 836C249.5 836.4 247 836.8 244.6 837C242.1 837.2 239.8 837.5 237.1 837.3C234.4 837 231.1 836.2 228.4 835.4C225.7 834.6 223.5 833.7 221 832.3C218.5 831 215.8 829.2 213.5 827.3C211.3 825.5 209.2 823.4 207.3 821.1C205.5 818.9 203.8 816.4 202.4 813.7C200.9 811 199.6 807.7 198.6 805C197.7 802.3 197.2 800.1 196.8 797.6C196.4 795.1 196.2 792.4 196.2 790.1C196.2 787.9 196.4 786.3 196.8 783.9Z" fill="none" stroke="#5cc8c0" stroke-width="1.05" stroke-linejoin="round"/>
<text x="196.9" y="675.4" class="pl">l</text>
<text x="266.3" y="686.2" text-anchor="middle" class="vt">Two-way in vitro senescence score gene lists:</text>
<text x="266" y="694.4" text-anchor="middle" class="vt">upregulated genes</text>
<text x="217.7" y="708.4" text-anchor="middle" class="vl" fill="#b054ad">Stim (650)</text>
<text x="311.1" y="707.9" text-anchor="middle" class="vl" fill="#6cb4ee">Rep (671)</text>
<text x="328.7" y="720.8" text-anchor="middle" class="vl" fill="#1faa7f">Onco</text>
<text x="328.7" y="728.9" text-anchor="middle" class="vl" fill="#1faa7f">(1,065)</text>
<text x="315.8" y="836.1" text-anchor="middle" class="vl" fill="#f0a830">Ion Rad</text>
<text x="315.8" y="844.3" text-anchor="middle" class="vl" fill="#f0a830">(330)</text>
<text x="269.1" y="853.2" text-anchor="middle" class="vl" fill="#e07fb8">FBR (935)</text>
<text x="217.7" y="840.6" text-anchor="middle" class="vl" fill="#5cc8c0">SA Core</text>
<text x="217.7" y="848.5" text-anchor="middle" class="vl" fill="#5cc8c0">(32)</text>
<text x="276.1" y="710.7" text-anchor="middle" class="vn">552</text>
<text x="237.6" y="718.2" text-anchor="middle" class="vn">68</text>
<text x="255.1" y="720.1" text-anchor="middle" class="vn">1</text>
<text x="200.7" y="743.4" text-anchor="middle" class="vn">496</text>
<text x="213" y="741.1" text-anchor="middle" class="vn">36</text>
<text x="224.2" y="736.9" text-anchor="middle" class="vn">1</text>
<text x="204.9" y="758.6" text-anchor="middle" class="vn">6</text>
<text x="201.8" y="783.1" text-anchor="middle" class="vn">26</text>
<text x="210" y="783.1" text-anchor="middle" class="vn">6</text>
<text x="318.8" y="756.3" text-anchor="middle" class="vn">61</text>
<text x="331" y="762.1" text-anchor="middle" class="vn">993</text>
<text x="315.1" y="766.1" text-anchor="middle" class="vn">1</text>
<text x="322.8" y="772.6" text-anchor="middle" class="vn">9</text>
<text x="309.5" y="799.9" text-anchor="middle" class="vn">1</text>
<text x="318.1" y="819.8" text-anchor="middle" class="vn">304</text>
<text x="297.8" y="824" text-anchor="middle" class="vn">18</text>
<text x="278" y="832.6" text-anchor="middle" class="vn">48</text>
<text x="265.6" y="842" text-anchor="middle" class="vn">764</text>
</g>
<g id="panel-m">
<path d="M358.01 795.69 L405.11 842.79 A33.5 33.5 0 0 0 452.49 795.41 L405.39 748.31 A33.5 33.5 0 0 0 358.01 795.69 Z" fill="#d77fb4" fill-opacity="0.4" stroke="none"/>
<path d="M379.91 767.29 L427.21 814.59 A33.5 33.5 0 0 0 474.59 767.21 L427.29 719.91 A33.5 33.5 0 0 0 379.91 767.29 Z" fill="#4472c4" fill-opacity="0.4" stroke="none"/>
<path d="M427.21 719.91 L379.91 767.21 A33.5 33.5 0 0 0 427.29 814.59 L474.59 767.29 A33.5 33.5 0 0 0 427.21 719.91 Z" fill="#f06c69" fill-opacity="0.4" stroke="none"/>
<path d="M449.51 748.31 L402.41 795.41 A33.5 33.5 0 0 0 449.79 842.79 L496.89 795.69 A33.5 33.5 0 0 0 449.51 748.31 Z" fill="#6a6a6a" fill-opacity="0.4" stroke="none"/>
<path d="M358.01 795.69 L405.11 842.79 A33.5 33.5 0 0 0 452.49 795.41 L405.39 748.31 A33.5 33.5 0 0 0 358.01 795.69 Z" fill="none" stroke="#d780b6" stroke-width="1.0"/>
<path d="M379.91 767.29 L427.21 814.59 A33.5 33.5 0 0 0 474.59 767.21 L427.29 719.91 A33.5 33.5 0 0 0 379.91 767.29 Z" fill="none" stroke="#2f86c6" stroke-width="1.0"/>
<path d="M427.21 719.91 L379.91 767.21 A33.5 33.5 0 0 0 427.29 814.59 L474.59 767.29 A33.5 33.5 0 0 0 427.21 719.91 Z" fill="none" stroke="#f1726e" stroke-width="1.0"/>
<path d="M449.51 748.31 L402.41 795.41 A33.5 33.5 0 0 0 449.79 842.79 L496.89 795.69 A33.5 33.5 0 0 0 449.51 748.31 Z" fill="none" stroke="#6a6a6a" stroke-width="1.0"/>
<text x="349.4" y="675.4" class="pl">m</text>
<text x="427.1" y="686.3" text-anchor="middle" class="vt">Two-way in vivo senescence score gene lists:</text>
<text x="427.1" y="694.4" text-anchor="middle" class="vt">upregulated genes</text>
<text x="381.2" y="708.9" text-anchor="middle" class="vl" fill="#2f86c6">Chon (136)</text>
<text x="480.6" y="709.7" text-anchor="middle" class="vl" fill="#f1726e">SPI Yng MuSCs</text>
<text x="480.6" y="717.7" text-anchor="middle" class="vl" fill="#f1726e">(1471)</text>
<text x="361.8" y="731.5" text-anchor="middle" class="vl" fill="#d780b6">FBR</text>
<text x="361.8" y="739.8" text-anchor="middle" class="vl" fill="#d780b6">(935)</text>
<text x="494.4" y="815.1" text-anchor="middle" class="vl" fill="#555">SPI Ger</text>
<text x="497" y="823.5" text-anchor="middle" class="vl" fill="#555">MuSCs (2,661)</text>
<text x="395.2" y="728.3" text-anchor="middle" class="vn">85</text>
<text x="456.5" y="727.8" text-anchor="middle" class="vn">892</text>
<text x="426.4" y="746.8" text-anchor="middle" class="vn">10</text>
<text x="382.7" y="751.6" text-anchor="middle" class="vn">8</text>
<text x="471.8" y="751.6" text-anchor="middle" class="vn">411</text>
<text x="402" y="770.4" text-anchor="middle" class="vn">3</text>
<text x="451.5" y="770.4" text-anchor="middle" class="vn">8</text>
<text x="363.6" y="772.9" text-anchor="middle" class="vn">580</text>
<text x="492.9" y="772.9" text-anchor="middle" class="vn">1,952</text>
<text x="427.1" y="794.3" text-anchor="middle" class="vn">1</text>
<text x="383.9" y="797.5" text-anchor="middle" class="vn">72</text>
<text x="469.3" y="796.3" text-anchor="middle" class="vn">18</text>
<text x="405.3" y="813.1" text-anchor="middle" class="vn">74</text>
<text x="446.4" y="813.1" text-anchor="middle" class="vn">3</text>
<text x="426.6" y="837.5" text-anchor="middle" class="vn">194</text>
</g>
<g id="panel-n">
<path d="M531.7 753.8C532.1 749.7 532.9 744.1 534.8 738.9C536.8 733.8 540 727.4 543.5 722.8C547 718.3 551.2 714.2 555.9 711.7C560.7 709.1 567.3 708.1 572 707.3C576.8 706.5 580.7 706.6 584.5 706.9C588.2 707.2 591.5 708 594.4 709.2C597.3 710.4 599.8 712.3 601.8 714.1C603.9 716 605.7 718.9 606.8 720.3C607.9 721.8 607.5 721.8 608.6 722.8C609.8 723.9 611.7 725.7 613.6 726.5C615.4 727.4 617.7 727.9 619.8 728C621.9 728.1 623.9 727.5 626 727.2C628.1 726.8 630.1 726 632.2 725.9C634.3 725.8 636.7 726 638.4 726.5C640.1 727.1 641.1 727.8 642.1 729C643.2 730.3 644.1 732.1 644.6 734C645.1 735.8 644.9 738.3 645.2 740.2C645.5 742 645.7 743.6 646.5 745.1C647.2 746.7 648.2 748.1 649.6 749.5C650.9 750.8 652.7 751.9 654.5 753.2C656.4 754.6 658.9 756.1 660.7 757.6C662.6 759 664.5 760.5 665.7 761.9C666.9 763.3 667.8 764.8 668.2 766.2C668.6 767.7 668.4 769.6 668.2 770.8C668 772 667.8 772 666.9 773.3C666.1 774.5 664.9 776.5 663.2 778.2C661.6 780 659.3 782 657 783.8C654.7 785.7 652 787.8 649.6 789.4C647.1 791.1 644.6 792.4 642.1 793.8C639.6 795.1 637.2 796.3 634.7 797.5C632.2 798.6 629.7 799.6 627.2 800.6C624.8 801.5 622.3 802.3 619.8 803.1C617.3 803.8 614.8 804.4 612.3 804.9C609.9 805.4 607.9 805.7 604.9 806.2C601.9 806.6 597.8 807.2 594.4 807.4C591 807.6 587.8 807.6 584.5 807.4C581.1 807.2 577.8 806.8 574.5 806.2C571.2 805.5 567.7 804.8 564.6 803.7C561.5 802.5 558.6 801.1 555.9 799.3C553.2 797.6 550.7 795.4 548.5 793.1C546.2 790.9 544.1 788.2 542.3 785.7C540.4 783.2 538.7 780.7 537.3 778.2C536 775.8 535 773.2 534.2 770.8C533.4 768.4 532.8 766.6 532.3 763.8C531.9 760.9 531.3 758 531.7 753.8Z" fill="#9c2d6a" fill-opacity="0.44" stroke="none"/>
<path d="M560.9 766.2C560.1 763.4 559 757.4 558.4 753.8C557.8 750.3 557.4 748.3 557.4 745.1C557.4 742 557.6 738.5 558.4 735.2C559.2 731.9 560.5 728.6 562.1 725.3C563.8 722 565.8 718.4 568.3 715.4C570.8 712.4 573.9 709.6 577 707.3C580.1 705 583.2 703.3 586.9 701.7C590.7 700.2 596.3 698.8 599.3 698C602.3 697.2 602.3 697 604.9 697C607.5 697 611.5 697.3 614.8 698C618.1 698.7 621.4 699.7 624.8 701.1C628.1 702.6 631.6 704.3 634.7 706.7C637.8 709.1 640.9 712.5 643.4 715.4C645.8 718.3 647.9 721.2 649.6 724.1C651.2 727 652.5 729.8 653.3 732.7C654.1 735.6 654.5 738.7 654.5 741.4C654.5 744.1 653.9 746.6 653.3 748.9C652.7 751.1 651.7 753 650.8 755.1C649.9 757.1 648.4 759.2 647.7 761.3C647 763.3 646.6 765.9 646.5 767.5C646.4 769.1 646.7 769.6 647.1 770.8C647.5 772 648.1 773.3 648.9 774.5C649.8 775.8 651.1 776.8 652 778.2C653 779.7 653.9 781.6 654.5 783.2C655.1 784.9 655.5 786.5 655.5 788.2C655.5 789.8 655.2 791.6 654.5 793.1C653.8 794.7 652.7 796.3 651.4 797.5C650.2 798.6 648.6 799.3 647.1 800C645.5 800.6 643.7 800.7 642.1 801.2C640.6 801.7 639 802.1 637.8 803.1C636.5 804 635.4 805.3 634.7 806.8C634 808.2 633.8 810.1 633.4 811.7C633 813.4 632.7 815.1 632.2 816.7C631.7 818.4 631.2 820 630.3 821.7C629.5 823.3 628.6 825.2 627.2 826.6C625.9 828.1 624.1 829.4 622.3 830.4C620.4 831.3 618.1 832 616.1 832.2C614 832.4 611.7 832.1 609.9 831.6C608 831.1 606.7 830 604.9 829.1C603.1 828.2 601.3 827.5 599.3 826C597.4 824.6 595.2 822.6 593.1 820.4C591.1 818.3 588.8 815.5 586.9 813C585.1 810.5 583.6 808.2 582 805.5C580.3 802.9 578.7 799.7 577 796.9C575.4 794 573.7 791.3 572 788.2C570.4 785.1 568.5 781.1 567.1 778.2C565.6 775.3 564.4 772.8 563.4 770.8C562.3 768.8 561.7 769.1 560.9 766.2Z" fill="#c9553f" fill-opacity="0.44" stroke="none"/>
<path d="M545.4 798.1C545.2 796 545.5 794.2 546 791.9C546.5 789.6 547.2 786.9 548.5 784.4C549.7 782 551.7 779.3 553.4 777C555.2 774.7 557.6 772.4 559 770.8C560.5 769.2 559.5 770.3 562.1 767.5C564.7 764.7 570.4 758.2 574.5 753.8C578.7 749.5 582.8 745.4 586.9 741.4C591.1 737.5 596.3 733.1 599.3 730.3C602.3 727.5 602.7 726.3 604.9 724.7C607.1 723 609.7 721.3 612.3 720.3C615 719.4 618.1 719.1 621 718.8C623.9 718.6 626.6 718.7 629.7 718.8C632.8 719 636.5 719.2 639.6 719.7C642.7 720.3 645.4 721.1 648.3 722.2C651.2 723.3 654.1 724.6 657 726.5C659.9 728.5 663 731.3 665.7 734C668.4 736.7 671.1 739.6 673.1 742.7C675.2 745.8 676.9 749.3 678.1 752.6C679.3 755.9 680 759.5 680.3 762.5C680.6 765.6 680.2 768.4 680 770.8C679.7 773.2 679.4 774.7 678.7 777C678 779.3 677 781.8 675.6 784.4C674.3 787.1 672.5 790.4 670.7 793.1C668.8 795.8 666.7 798.4 664.5 800.6C662.2 802.7 659.5 804.6 657 806.2C654.5 807.7 652 809 649.6 809.9C647.1 810.8 644.6 811.4 642.1 811.7C639.6 812.1 637.2 812.1 634.7 812C632.2 811.9 629.5 811.4 627.2 811.1C625 810.8 622.9 810.4 621 810.3C619.2 810.2 617.5 810.2 616.1 810.5C614.6 810.9 613.6 811.4 612.3 812.4C611.1 813.3 609.9 814.8 608.6 816.1C607.4 817.3 605.8 818.6 604.9 819.8C604 821 604.2 822.6 603.1 823.5C601.9 824.5 600 825.1 598.1 825.4C596.2 825.7 593.8 825.7 591.9 825.4C590 825.1 588.4 824.4 586.9 823.5C585.5 822.7 584.5 821.6 583.2 820.4C582 819.3 580.9 817.8 579.5 816.7C578 815.6 576.4 814.3 574.5 813.6C572.7 812.9 570.8 812.8 568.3 812.4C565.8 811.9 562.3 811.7 559.6 811.1C557 810.5 554.3 809.8 552.2 808.6C550.1 807.5 548.4 806.1 547.2 804.3C546.1 802.5 545.6 800.2 545.4 798.1Z" fill="#a6d845" fill-opacity="0.44" stroke="none"/>
<path d="M540.4 753.8C540.4 751.1 541.1 748.6 542.3 746.4C543.4 744.2 545.4 742 547.2 740.8C549.1 739.6 551 739.5 553.4 738.9C555.9 738.4 559.2 738.4 562.1 737.7C565 737 568.1 735.8 570.8 734.6C573.5 733.4 576.2 732 578.2 730.3C580.3 728.5 581.6 726.5 583.2 724.1C584.9 721.6 586.3 717.8 588.2 715.4C590 713 592.1 711.1 594.4 709.8C596.7 708.4 600.1 707.7 601.8 707.3C603.6 706.9 603.8 707 604.9 707.3C606 707.6 607.4 708.4 608.6 709.2C609.9 709.9 611.1 710.6 612.3 711.7C613.6 712.7 614.9 713.9 616.1 715.4C617.2 716.8 618.2 718.7 619.2 720.3C620.1 722 620.9 723.6 621.6 725.3C622.4 727 622.8 728.4 623.5 730.3C624.2 732.1 625.1 734.4 626 736.5C626.9 738.5 628 740.6 629.1 742.7C630.2 744.7 631.5 747 632.8 748.9C634.2 750.7 635.6 752.4 637.2 753.8C638.7 755.3 640.5 756.3 642.1 757.6C643.8 758.8 645.4 760 647.1 761.3C648.7 762.5 650.4 763.8 652 765C653.7 766.2 655.8 767.8 657 768.7C658.2 769.7 658 769.4 659.5 770.8C660.9 772.2 663.8 775.1 665.7 777C667.6 778.9 669.2 780.3 670.7 782C672.1 783.6 673.4 785.3 674.4 786.9C675.4 788.6 676.2 790 676.6 791.9C677 793.8 677.1 795.8 676.9 798.1C676.6 800.4 676 803.1 675 805.5C674 808 672.4 810.8 670.7 813C668.9 815.2 666.7 816.9 664.5 818.6C662.2 820.2 659.5 821.8 657 822.9C654.5 824 652 824.9 649.6 825.4C647.1 825.9 644.6 826 642.1 826C639.6 826.1 637.2 825.9 634.7 825.6C632.2 825.3 629.5 824.7 627.2 824.1C625 823.6 623.1 823 621 822.3C619 821.6 616.7 820.5 614.8 819.8C613 819.1 611.5 818.6 609.9 817.9C608.2 817.3 606.7 816.5 604.9 816.1C603.1 815.7 601.3 815.4 599.3 815.5C597.4 815.6 595.2 816.1 593.1 816.7C591.1 817.3 589 818.3 586.9 819.2C584.9 820.1 582.8 821.5 580.7 822.3C578.7 823.1 576.6 823.8 574.5 824.1C572.5 824.5 570.2 824.6 568.3 824.4C566.5 824.2 564.8 823.8 563.4 822.9C561.9 822 560.6 820.8 559.6 819.2C558.7 817.5 558.2 815.1 557.8 813C557.4 810.9 557.3 808.8 557.4 806.8C557.5 804.7 557.9 802.6 558.4 800.6C558.9 798.5 559.7 796.4 560.3 794.4C560.8 792.3 561.4 790 561.5 788.2C561.6 786.3 561.5 784.9 561.1 783.2C560.7 781.6 560.1 779.7 559 778.2C557.9 776.8 556.6 776.1 554.7 774.5C552.7 772.9 549.3 770.7 547.2 768.7C545.2 766.7 543.4 765 542.3 762.5C541.1 760 540.4 756.5 540.4 753.8Z" fill="#5b86d6" fill-opacity="0.44" stroke="none"/>
<path d="M546.6 777C547 774.8 549 771.6 549.7 768.7C550.4 765.9 551.2 762.9 551 760C550.7 757.1 549.1 754.5 548.5 751.4C547.9 748.3 547.2 744.7 547.2 741.4C547.2 738.1 547.6 734.2 548.5 731.5C549.3 728.8 550.5 726.7 552.2 725.3C553.8 723.9 556.3 723.1 558.4 722.8C560.5 722.5 561.9 723 564.6 723.4C567.3 723.9 570.8 724.7 574.5 725.3C578.2 725.9 582.8 726.5 586.9 727.2C591.1 727.8 596.3 728.3 599.3 729C602.3 729.7 602.7 730.7 604.9 731.3C607.1 731.8 609.9 731.7 612.3 732.1C614.8 732.5 617.3 733.2 619.8 733.7C622.3 734.3 624.8 734.9 627.2 735.5C629.7 736 632.2 736.5 634.7 737.1C637.2 737.6 639.6 738.2 642.1 738.7C644.6 739.2 647.3 739.7 649.6 740.2C651.8 740.6 654.1 740.8 655.8 741.4C657.4 742 658.5 742.9 659.5 743.9C660.5 744.9 661.4 746.2 662 747.6C662.6 749.1 663.1 750.9 663.2 752.6C663.3 754.2 663.1 755.9 662.6 757.6C662.1 759.2 661 760.9 660.1 762.5C659.2 764.2 658.2 766.1 657 767.5C655.8 768.9 653.7 769.8 652.7 770.8C651.6 771.8 651.7 772 650.8 773.3C649.9 774.5 648.1 776.6 647.1 778.2C646 779.9 645.1 781.3 644.6 783.2C644.1 785.1 644 787.3 644 789.4C643.9 791.5 644.1 793.3 644.4 795.6C644.6 797.9 645 800.6 645.2 803.1C645.4 805.5 645.8 808 645.6 810.5C645.4 813 644.9 815.6 644 817.9C643.1 820.3 641.8 822.7 640.3 824.8C638.7 826.8 636.8 828.6 634.7 830.4C632.5 832.1 629.7 833.9 627.2 835.3C624.8 836.8 622.3 838 619.8 839C617.3 840.1 614.8 840.9 612.3 841.5C609.9 842.1 606.7 842.5 604.9 842.5C603.1 842.5 603.6 842 601.8 841.5C600.1 841 596.9 840.5 594.4 839.7C591.9 838.8 589.2 837.8 586.9 836.6C584.7 835.3 582.6 833.9 580.7 832.2C578.9 830.6 577.1 828.6 575.8 826.6C574.4 824.7 573.4 822.5 572.7 820.4C571.9 818.4 571.7 816.3 571.4 814.2C571.2 812.2 571.3 810.1 571.1 808C570.8 806 570.7 803.7 570.2 801.8C569.6 800 568.8 798.2 567.7 796.9C566.6 795.5 565.1 794.8 563.4 793.8C561.6 792.7 559.2 791.8 557.2 790.7C555.1 789.5 552.6 788.4 551 786.9C549.3 785.5 548 783.6 547.2 782C546.5 780.3 546.2 779.2 546.6 777Z" fill="#e07fc0" fill-opacity="0.44" stroke="none"/>
<path d="M536.7 780.7C537.1 778.3 537.4 775.3 538.5 772.4C539.7 769.6 541.4 766.7 543.5 763.8C545.6 760.9 548.5 757.4 551 755.1C553.4 752.8 556.1 751.8 558.4 750.1C560.7 748.5 563.1 746.8 564.6 745.1C566.2 743.5 567 742.3 567.7 740.2C568.4 738.1 568.5 735.2 568.9 732.7C569.4 730.3 569.5 727.4 570.2 725.3C570.9 723.2 571.9 721.7 573.3 720.3C574.6 719 576 717.8 578.2 717.2C580.5 716.7 584 717 586.9 717.2C589.8 717.4 592.7 718.3 595.6 718.5C598.5 718.7 601.9 719.1 604.3 718.5C606.7 717.9 607.9 715.9 609.9 714.8C611.8 713.6 613.8 712.4 616.1 711.7C618.3 710.9 621.2 710.4 623.5 710.4C625.8 710.4 628 710.8 629.7 711.7C631.5 712.5 633 713.9 634.1 715.4C635.1 716.8 635.4 718.1 635.9 720.3C636.4 722.6 636.7 725.5 636.9 729C637.2 732.5 637.3 737.3 637.4 741.4C637.5 745.6 637.5 749.7 637.4 753.8C637.3 758 637 763.4 636.9 766.2C636.9 769.1 637.3 768 637.2 770.8C637 773.6 636.4 779.1 635.9 783.2C635.4 787.3 634.9 791.9 634.1 795.6C633.2 799.3 632.1 802.9 631 805.5C629.8 808.2 628.7 809.7 627.2 811.7C625.8 813.8 624.1 816.1 622.3 817.9C620.4 819.8 618.1 821.5 616.1 822.9C614 824.4 611.7 825.7 609.9 826.6C608 827.6 606.7 827.7 604.9 828.5C603.1 829.3 601.5 830.9 599.3 831.6C597.2 832.3 594.4 832.5 591.9 832.8C589.4 833.2 586.9 833.6 584.5 833.8C582 834 579.7 834.3 577 834.1C574.3 833.8 571 833 568.3 832.2C565.6 831.4 563.4 830.5 560.9 829.1C558.4 827.8 555.7 826 553.4 824.1C551.2 822.3 549.1 820.2 547.2 817.9C545.4 815.7 543.7 813.2 542.3 810.5C540.8 807.8 539.5 804.5 538.5 801.8C537.6 799.1 537.1 796.9 536.7 794.4C536.3 791.9 536.1 789.2 536.1 786.9C536.1 784.7 536.3 783.1 536.7 780.7Z" fill="#b4c8ad" fill-opacity="0.44" stroke="none"/>
<path d="M563 770.1 562.7 769.6 562.3 769.2 562 768.8 561.8 768.4 562.1 767.5 563.2 766.3 564.6 764.8 566.1 763.1 567.7 761.2 569.5 759.3 571.2 757.4 572.9 755.6 574.5 753.8 576.1 752.2 577.6 750.6 579.2 749 580.7 747.5 582.3 745.9 583.8 744.4 585.4 742.9 586.9 741.4 588.5 739.9 590.2 738.4 591.9 736.9 593.6 735.4 595.2 734 596.7 732.6 598.1 731.4 599.3 730.3 600.4 729.3 601.2 729.6 601.8 729.9 602.4 730.2 603 730.5 603.5 730.8 604.2 731 604.9 731.3 605.7 731.4 606.6 731.5 607.6 731.6 608.5 731.7 609.5 731.8 610.4 731.9 611.4 732 612.3 732.1 613.3 732.3 614.2 732.5 615.1 732.7 616.1 732.9 617 733.1 617.9 733.3 618.9 733.5 619.8 733.7 620.7 733.9 621.6 734.2 622.6 734.4 623.5 734.6 624.4 734.8 625.4 735 625.6 735.7 626 736.5 626.3 737.2 626.7 738 627.1 738.8 627.5 739.6 627.9 740.3 628.3 741.1 628.7 741.9 629.1 742.7 629.5 743.5 630 744.2 630.4 745 630.9 745.8 631.3 746.6 631.8 747.4 632.3 748.2 632.8 748.9 633.3 749.6 633.8 750.2 634.4 750.9 634.9 751.5 635.5 752.1 636 752.7 636.6 753.3 637.2 753.8 637.4 755.4 637.3 757.1 637.2 758.8 637.1 760.5 637.1 762.2 637 763.7 636.9 765.1 636.9 766.2 636.9 767.1 637 767.7 637 768.2 637.1 768.5 637.1 768.9 637.2 769.3 637.2 769.9 637.2 770.8 637.1 772 637 773.3 636.8 774.9 636.7 776.5 636.5 778.2 636.3 779.9 636.1 781.6 635.9 783.2 635.7 784.8 635.5 786.4 635.3 788 635.1 789.6 634.9 791.1 634.6 792.7 634.4 794.2 634.1 795.6 633.7 797 632.8 798.3 631.9 798.7 631 799.1 630 799.5 629.1 799.9 628.2 800.2 627.2 800.6 626.3 800.9 625.4 801.3 624.4 801.6 623.5 801.9 622.6 802.2 621.6 802.5 620.7 802.8 619.8 803.1 618.9 803.3 617.9 803.6 617 803.8 616.1 804.1 615.1 804.3 614.2 804.5 613.3 804.7 612.3 804.9 611.4 805.1 610.6 805.3 609.7 805.4 608.8 805.6 607.9 805.7 607 805.9 606 806 604.9 806.2 603.7 806.3 602.5 806.5 601.2 806.7 599.8 806.9 598.4 807 597 807.2 595.7 807.3 594.4 807.4 593.1 807.5 591.9 807.5 590.6 807.5 589.4 807.6 588.1 807.5 586.9 807.5 585.7 807.5 584.5 807.4 583.2 807.3 582.6 806.5 582 805.5 581.4 804.5 580.7 803.5 580.1 802.4 579.5 801.3 578.9 800.2 578.2 799.1 577.6 797.9 577 796.9 576.4 795.8 575.8 794.7 575.1 793.7 574.5 792.6 573.9 791.5 573.3 790.4 572.7 789.3 572 788.2 571.4 787 570.8 785.7 570.1 784.4 569.5 783.1 568.9 781.8 568.2 780.6 567.6 779.4 567.1 778.2 566.6 777.2 566 776.1 565.5 775.1 565.1 774.2 564.6 773.3 564.2 772.4 563.8 771.6 563.4 770.8Z" fill="#a69797" stroke="#a69797" stroke-width="0.6" stroke-linejoin="round"/>
<path d="M531.7 753.8C532.1 749.7 532.9 744.1 534.8 738.9C536.8 733.8 540 727.4 543.5 722.8C547 718.3 551.2 714.2 555.9 711.7C560.7 709.1 567.3 708.1 572 707.3C576.8 706.5 580.7 706.6 584.5 706.9C588.2 707.2 591.5 708 594.4 709.2C597.3 710.4 599.8 712.3 601.8 714.1C603.9 716 605.7 718.9 606.8 720.3C607.9 721.8 607.5 721.8 608.6 722.8C609.8 723.9 611.7 725.7 613.6 726.5C615.4 727.4 617.7 727.9 619.8 728C621.9 728.1 623.9 727.5 626 727.2C628.1 726.8 630.1 726 632.2 725.9C634.3 725.8 636.7 726 638.4 726.5C640.1 727.1 641.1 727.8 642.1 729C643.2 730.3 644.1 732.1 644.6 734C645.1 735.8 644.9 738.3 645.2 740.2C645.5 742 645.7 743.6 646.5 745.1C647.2 746.7 648.2 748.1 649.6 749.5C650.9 750.8 652.7 751.9 654.5 753.2C656.4 754.6 658.9 756.1 660.7 757.6C662.6 759 664.5 760.5 665.7 761.9C666.9 763.3 667.8 764.8 668.2 766.2C668.6 767.7 668.4 769.6 668.2 770.8C668 772 667.8 772 666.9 773.3C666.1 774.5 664.9 776.5 663.2 778.2C661.6 780 659.3 782 657 783.8C654.7 785.7 652 787.8 649.6 789.4C647.1 791.1 644.6 792.4 642.1 793.8C639.6 795.1 637.2 796.3 634.7 797.5C632.2 798.6 629.7 799.6 627.2 800.6C624.8 801.5 622.3 802.3 619.8 803.1C617.3 803.8 614.8 804.4 612.3 804.9C609.9 805.4 607.9 805.7 604.9 806.2C601.9 806.6 597.8 807.2 594.4 807.4C591 807.6 587.8 807.6 584.5 807.4C581.1 807.2 577.8 806.8 574.5 806.2C571.2 805.5 567.7 804.8 564.6 803.7C561.5 802.5 558.6 801.1 555.9 799.3C553.2 797.6 550.7 795.4 548.5 793.1C546.2 790.9 544.1 788.2 542.3 785.7C540.4 783.2 538.7 780.7 537.3 778.2C536 775.8 535 773.2 534.2 770.8C533.4 768.4 532.8 766.6 532.3 763.8C531.9 760.9 531.3 758 531.7 753.8Z" fill="none" stroke="#a8306f" stroke-width="1.05" stroke-linejoin="round"/>
<path d="M560.9 766.2C560.1 763.4 559 757.4 558.4 753.8C557.8 750.3 557.4 748.3 557.4 745.1C557.4 742 557.6 738.5 558.4 735.2C559.2 731.9 560.5 728.6 562.1 725.3C563.8 722 565.8 718.4 568.3 715.4C570.8 712.4 573.9 709.6 577 707.3C580.1 705 583.2 703.3 586.9 701.7C590.7 700.2 596.3 698.8 599.3 698C602.3 697.2 602.3 697 604.9 697C607.5 697 611.5 697.3 614.8 698C618.1 698.7 621.4 699.7 624.8 701.1C628.1 702.6 631.6 704.3 634.7 706.7C637.8 709.1 640.9 712.5 643.4 715.4C645.8 718.3 647.9 721.2 649.6 724.1C651.2 727 652.5 729.8 653.3 732.7C654.1 735.6 654.5 738.7 654.5 741.4C654.5 744.1 653.9 746.6 653.3 748.9C652.7 751.1 651.7 753 650.8 755.1C649.9 757.1 648.4 759.2 647.7 761.3C647 763.3 646.6 765.9 646.5 767.5C646.4 769.1 646.7 769.6 647.1 770.8C647.5 772 648.1 773.3 648.9 774.5C649.8 775.8 651.1 776.8 652 778.2C653 779.7 653.9 781.6 654.5 783.2C655.1 784.9 655.5 786.5 655.5 788.2C655.5 789.8 655.2 791.6 654.5 793.1C653.8 794.7 652.7 796.3 651.4 797.5C650.2 798.6 648.6 799.3 647.1 800C645.5 800.6 643.7 800.7 642.1 801.2C640.6 801.7 639 802.1 637.8 803.1C636.5 804 635.4 805.3 634.7 806.8C634 808.2 633.8 810.1 633.4 811.7C633 813.4 632.7 815.1 632.2 816.7C631.7 818.4 631.2 820 630.3 821.7C629.5 823.3 628.6 825.2 627.2 826.6C625.9 828.1 624.1 829.4 622.3 830.4C620.4 831.3 618.1 832 616.1 832.2C614 832.4 611.7 832.1 609.9 831.6C608 831.1 606.7 830 604.9 829.1C603.1 828.2 601.3 827.5 599.3 826C597.4 824.6 595.2 822.6 593.1 820.4C591.1 818.3 588.8 815.5 586.9 813C585.1 810.5 583.6 808.2 582 805.5C580.3 802.9 578.7 799.7 577 796.9C575.4 794 573.7 791.3 572 788.2C570.4 785.1 568.5 781.1 567.1 778.2C565.6 775.3 564.4 772.8 563.4 770.8C562.3 768.8 561.7 769.1 560.9 766.2Z" fill="none" stroke="#c9553f" stroke-width="1.05" stroke-linejoin="round"/>
<path d="M545.4 798.1C545.2 796 545.5 794.2 546 791.9C546.5 789.6 547.2 786.9 548.5 784.4C549.7 782 551.7 779.3 553.4 777C555.2 774.7 557.6 772.4 559 770.8C560.5 769.2 559.5 770.3 562.1 767.5C564.7 764.7 570.4 758.2 574.5 753.8C578.7 749.5 582.8 745.4 586.9 741.4C591.1 737.5 596.3 733.1 599.3 730.3C602.3 727.5 602.7 726.3 604.9 724.7C607.1 723 609.7 721.3 612.3 720.3C615 719.4 618.1 719.1 621 718.8C623.9 718.6 626.6 718.7 629.7 718.8C632.8 719 636.5 719.2 639.6 719.7C642.7 720.3 645.4 721.1 648.3 722.2C651.2 723.3 654.1 724.6 657 726.5C659.9 728.5 663 731.3 665.7 734C668.4 736.7 671.1 739.6 673.1 742.7C675.2 745.8 676.9 749.3 678.1 752.6C679.3 755.9 680 759.5 680.3 762.5C680.6 765.6 680.2 768.4 680 770.8C679.7 773.2 679.4 774.7 678.7 777C678 779.3 677 781.8 675.6 784.4C674.3 787.1 672.5 790.4 670.7 793.1C668.8 795.8 666.7 798.4 664.5 800.6C662.2 802.7 659.5 804.6 657 806.2C654.5 807.7 652 809 649.6 809.9C647.1 810.8 644.6 811.4 642.1 811.7C639.6 812.1 637.2 812.1 634.7 812C632.2 811.9 629.5 811.4 627.2 811.1C625 810.8 622.9 810.4 621 810.3C619.2 810.2 617.5 810.2 616.1 810.5C614.6 810.9 613.6 811.4 612.3 812.4C611.1 813.3 609.9 814.8 608.6 816.1C607.4 817.3 605.8 818.6 604.9 819.8C604 821 604.2 822.6 603.1 823.5C601.9 824.5 600 825.1 598.1 825.4C596.2 825.7 593.8 825.7 591.9 825.4C590 825.1 588.4 824.4 586.9 823.5C585.5 822.7 584.5 821.6 583.2 820.4C582 819.3 580.9 817.8 579.5 816.7C578 815.6 576.4 814.3 574.5 813.6C572.7 812.9 570.8 812.8 568.3 812.4C565.8 811.9 562.3 811.7 559.6 811.1C557 810.5 554.3 809.8 552.2 808.6C550.1 807.5 548.4 806.1 547.2 804.3C546.1 802.5 545.6 800.2 545.4 798.1Z" fill="none" stroke="#a6d845" stroke-width="1.05" stroke-linejoin="round"/>
<path d="M540.4 753.8C540.4 751.1 541.1 748.6 542.3 746.4C543.4 744.2 545.4 742 547.2 740.8C549.1 739.6 551 739.5 553.4 738.9C555.9 738.4 559.2 738.4 562.1 737.7C565 737 568.1 735.8 570.8 734.6C573.5 733.4 576.2 732 578.2 730.3C580.3 728.5 581.6 726.5 583.2 724.1C584.9 721.6 586.3 717.8 588.2 715.4C590 713 592.1 711.1 594.4 709.8C596.7 708.4 600.1 707.7 601.8 707.3C603.6 706.9 603.8 707 604.9 707.3C606 707.6 607.4 708.4 608.6 709.2C609.9 709.9 611.1 710.6 612.3 711.7C613.6 712.7 614.9 713.9 616.1 715.4C617.2 716.8 618.2 718.7 619.2 720.3C620.1 722 620.9 723.6 621.6 725.3C622.4 727 622.8 728.4 623.5 730.3C624.2 732.1 625.1 734.4 626 736.5C626.9 738.5 628 740.6 629.1 742.7C630.2 744.7 631.5 747 632.8 748.9C634.2 750.7 635.6 752.4 637.2 753.8C638.7 755.3 640.5 756.3 642.1 757.6C643.8 758.8 645.4 760 647.1 761.3C648.7 762.5 650.4 763.8 652 765C653.7 766.2 655.8 767.8 657 768.7C658.2 769.7 658 769.4 659.5 770.8C660.9 772.2 663.8 775.1 665.7 777C667.6 778.9 669.2 780.3 670.7 782C672.1 783.6 673.4 785.3 674.4 786.9C675.4 788.6 676.2 790 676.6 791.9C677 793.8 677.1 795.8 676.9 798.1C676.6 800.4 676 803.1 675 805.5C674 808 672.4 810.8 670.7 813C668.9 815.2 666.7 816.9 664.5 818.6C662.2 820.2 659.5 821.8 657 822.9C654.5 824 652 824.9 649.6 825.4C647.1 825.9 644.6 826 642.1 826C639.6 826.1 637.2 825.9 634.7 825.6C632.2 825.3 629.5 824.7 627.2 824.1C625 823.6 623.1 823 621 822.3C619 821.6 616.7 820.5 614.8 819.8C613 819.1 611.5 818.6 609.9 817.9C608.2 817.3 606.7 816.5 604.9 816.1C603.1 815.7 601.3 815.4 599.3 815.5C597.4 815.6 595.2 816.1 593.1 816.7C591.1 817.3 589 818.3 586.9 819.2C584.9 820.1 582.8 821.5 580.7 822.3C578.7 823.1 576.6 823.8 574.5 824.1C572.5 824.5 570.2 824.6 568.3 824.4C566.5 824.2 564.8 823.8 563.4 822.9C561.9 822 560.6 820.8 559.6 819.2C558.7 817.5 558.2 815.1 557.8 813C557.4 810.9 557.3 808.8 557.4 806.8C557.5 804.7 557.9 802.6 558.4 800.6C558.9 798.5 559.7 796.4 560.3 794.4C560.8 792.3 561.4 790 561.5 788.2C561.6 786.3 561.5 784.9 561.1 783.2C560.7 781.6 560.1 779.7 559 778.2C557.9 776.8 556.6 776.1 554.7 774.5C552.7 772.9 549.3 770.7 547.2 768.7C545.2 766.7 543.4 765 542.3 762.5C541.1 760 540.4 756.5 540.4 753.8Z" fill="none" stroke="#5b86d6" stroke-width="1.05" stroke-linejoin="round"/>
<path d="M546.6 777C547 774.8 549 771.6 549.7 768.7C550.4 765.9 551.2 762.9 551 760C550.7 757.1 549.1 754.5 548.5 751.4C547.9 748.3 547.2 744.7 547.2 741.4C547.2 738.1 547.6 734.2 548.5 731.5C549.3 728.8 550.5 726.7 552.2 725.3C553.8 723.9 556.3 723.1 558.4 722.8C560.5 722.5 561.9 723 564.6 723.4C567.3 723.9 570.8 724.7 574.5 725.3C578.2 725.9 582.8 726.5 586.9 727.2C591.1 727.8 596.3 728.3 599.3 729C602.3 729.7 602.7 730.7 604.9 731.3C607.1 731.8 609.9 731.7 612.3 732.1C614.8 732.5 617.3 733.2 619.8 733.7C622.3 734.3 624.8 734.9 627.2 735.5C629.7 736 632.2 736.5 634.7 737.1C637.2 737.6 639.6 738.2 642.1 738.7C644.6 739.2 647.3 739.7 649.6 740.2C651.8 740.6 654.1 740.8 655.8 741.4C657.4 742 658.5 742.9 659.5 743.9C660.5 744.9 661.4 746.2 662 747.6C662.6 749.1 663.1 750.9 663.2 752.6C663.3 754.2 663.1 755.9 662.6 757.6C662.1 759.2 661 760.9 660.1 762.5C659.2 764.2 658.2 766.1 657 767.5C655.8 768.9 653.7 769.8 652.7 770.8C651.6 771.8 651.7 772 650.8 773.3C649.9 774.5 648.1 776.6 647.1 778.2C646 779.9 645.1 781.3 644.6 783.2C644.1 785.1 644 787.3 644 789.4C643.9 791.5 644.1 793.3 644.4 795.6C644.6 797.9 645 800.6 645.2 803.1C645.4 805.5 645.8 808 645.6 810.5C645.4 813 644.9 815.6 644 817.9C643.1 820.3 641.8 822.7 640.3 824.8C638.7 826.8 636.8 828.6 634.7 830.4C632.5 832.1 629.7 833.9 627.2 835.3C624.8 836.8 622.3 838 619.8 839C617.3 840.1 614.8 840.9 612.3 841.5C609.9 842.1 606.7 842.5 604.9 842.5C603.1 842.5 603.6 842 601.8 841.5C600.1 841 596.9 840.5 594.4 839.7C591.9 838.8 589.2 837.8 586.9 836.6C584.7 835.3 582.6 833.9 580.7 832.2C578.9 830.6 577.1 828.6 575.8 826.6C574.4 824.7 573.4 822.5 572.7 820.4C571.9 818.4 571.7 816.3 571.4 814.2C571.2 812.2 571.3 810.1 571.1 808C570.8 806 570.7 803.7 570.2 801.8C569.6 800 568.8 798.2 567.7 796.9C566.6 795.5 565.1 794.8 563.4 793.8C561.6 792.7 559.2 791.8 557.2 790.7C555.1 789.5 552.6 788.4 551 786.9C549.3 785.5 548 783.6 547.2 782C546.5 780.3 546.2 779.2 546.6 777Z" fill="none" stroke="#e07fc0" stroke-width="1.05" stroke-linejoin="round"/>
<path d="M536.7 780.7C537.1 778.3 537.4 775.3 538.5 772.4C539.7 769.6 541.4 766.7 543.5 763.8C545.6 760.9 548.5 757.4 551 755.1C553.4 752.8 556.1 751.8 558.4 750.1C560.7 748.5 563.1 746.8 564.6 745.1C566.2 743.5 567 742.3 567.7 740.2C568.4 738.1 568.5 735.2 568.9 732.7C569.4 730.3 569.5 727.4 570.2 725.3C570.9 723.2 571.9 721.7 573.3 720.3C574.6 719 576 717.8 578.2 717.2C580.5 716.7 584 717 586.9 717.2C589.8 717.4 592.7 718.3 595.6 718.5C598.5 718.7 601.9 719.1 604.3 718.5C606.7 717.9 607.9 715.9 609.9 714.8C611.8 713.6 613.8 712.4 616.1 711.7C618.3 710.9 621.2 710.4 623.5 710.4C625.8 710.4 628 710.8 629.7 711.7C631.5 712.5 633 713.9 634.1 715.4C635.1 716.8 635.4 718.1 635.9 720.3C636.4 722.6 636.7 725.5 636.9 729C637.2 732.5 637.3 737.3 637.4 741.4C637.5 745.6 637.5 749.7 637.4 753.8C637.3 758 637 763.4 636.9 766.2C636.9 769.1 637.3 768 637.2 770.8C637 773.6 636.4 779.1 635.9 783.2C635.4 787.3 634.9 791.9 634.1 795.6C633.2 799.3 632.1 802.9 631 805.5C629.8 808.2 628.7 809.7 627.2 811.7C625.8 813.8 624.1 816.1 622.3 817.9C620.4 819.8 618.1 821.5 616.1 822.9C614 824.4 611.7 825.7 609.9 826.6C608 827.6 606.7 827.7 604.9 828.5C603.1 829.3 601.5 830.9 599.3 831.6C597.2 832.3 594.4 832.5 591.9 832.8C589.4 833.2 586.9 833.6 584.5 833.8C582 834 579.7 834.3 577 834.1C574.3 833.8 571 833 568.3 832.2C565.6 831.4 563.4 830.5 560.9 829.1C558.4 827.8 555.7 826 553.4 824.1C551.2 822.3 549.1 820.2 547.2 817.9C545.4 815.7 543.7 813.2 542.3 810.5C540.8 807.8 539.5 804.5 538.5 801.8C537.6 799.1 537.1 796.9 536.7 794.4C536.3 791.9 536.1 789.2 536.1 786.9C536.1 784.7 536.3 783.1 536.7 780.7Z" fill="none" stroke="#a5c99a" stroke-width="1.05" stroke-linejoin="round"/>
<text x="522.8" y="675.4" class="pl">n</text>
<text x="606.3" y="686.1" text-anchor="middle" class="vt">One-way senescence score gene lists</text>
<text x="558.4" y="705.2" text-anchor="middle" class="vl" fill="#a8306f">FBR (935)</text>
<text x="653.5" y="702.2" text-anchor="middle" class="vl" fill="#c9553f">SenMayo (118)</text>
<text x="671.4" y="722.1" text-anchor="middle" class="vl" fill="#a6d845">GO: Sen</text>
<text x="671.4" y="730" text-anchor="middle" class="vl" fill="#a6d845">(77)</text>
<text x="663.4" y="831.8" text-anchor="middle" class="vl" fill="#5b86d6">GO: SASP</text>
<text x="663.9" y="840" text-anchor="middle" class="vl" fill="#5b86d6">(102)</text>
<text x="557.2" y="836.3" text-anchor="middle" class="vl" fill="#a5c99a">Lung</text>
<text x="557.2" y="844.2" text-anchor="middle" class="vl" fill="#a5c99a">injured (366)</text>
<text x="613.5" y="850.4" text-anchor="middle" class="vl" fill="#e07fc0">Lung</text>
<text x="613.5" y="858.1" text-anchor="middle" class="vl" fill="#e07fc0">uninjured (452)</text>
<text x="615.5" y="706.7" text-anchor="middle" class="vn">84</text>
<text x="577.8" y="714.7" text-anchor="middle" class="vn">16</text>
<text x="605.6" y="713.9" text-anchor="middle" class="vn">2</text>
<text x="624.7" y="717.9" text-anchor="middle" class="vn">2</text>
<text x="572.1" y="731.3" text-anchor="middle" class="vn">1</text>
<text x="554.2" y="735" text-anchor="middle" class="vn">31</text>
<text x="541.1" y="740.7" text-anchor="middle" class="vn">832</text>
<text x="631.7" y="734" text-anchor="middle" class="vn">1</text>
<text x="641.1" y="734.5" text-anchor="middle" class="vn">2</text>
<text x="647" y="730.8" text-anchor="middle" class="vn">5</text>
<text x="650.3" y="747.4" text-anchor="middle" class="vn">1</text>
<text x="658.2" y="752.6" text-anchor="middle" class="vn">1</text>
<text x="671.4" y="756.1" text-anchor="middle" class="vn">54</text>
<text x="544.8" y="755.6" text-anchor="middle" class="vn">3</text>
<text x="655.7" y="761.8" text-anchor="middle" class="vn">1</text>
<text x="663.2" y="769.3" text-anchor="middle" class="vn">6</text>
<text x="656" y="778" text-anchor="middle" class="vn">2</text>
<text x="541.8" y="781.7" text-anchor="middle" class="vn">30</text>
<text x="550.5" y="780.4" text-anchor="middle" class="vn">9</text>
<text x="647.8" y="786.1" text-anchor="middle" class="vn">1</text>
<text x="660.2" y="796.1" text-anchor="middle" class="vn">1</text>
<text x="552.2" y="805.7" text-anchor="middle" class="vn">1</text>
<text x="663.2" y="812.7" text-anchor="middle" class="vn">91</text>
<text x="551.5" y="816.4" text-anchor="middle" class="vn">250</text>
<text x="581.3" y="814.7" text-anchor="middle" class="vn">1</text>
<text x="627.9" y="820.1" text-anchor="middle" class="vn">1</text>
<text x="618.7" y="828.8" text-anchor="middle" class="vn">2</text>
<text x="583.3" y="830.6" text-anchor="middle" class="vn">71</text>
<text x="604.8" y="838.8" text-anchor="middle" class="vn">333</text>
</g>
</svg>
</body>
</html>
